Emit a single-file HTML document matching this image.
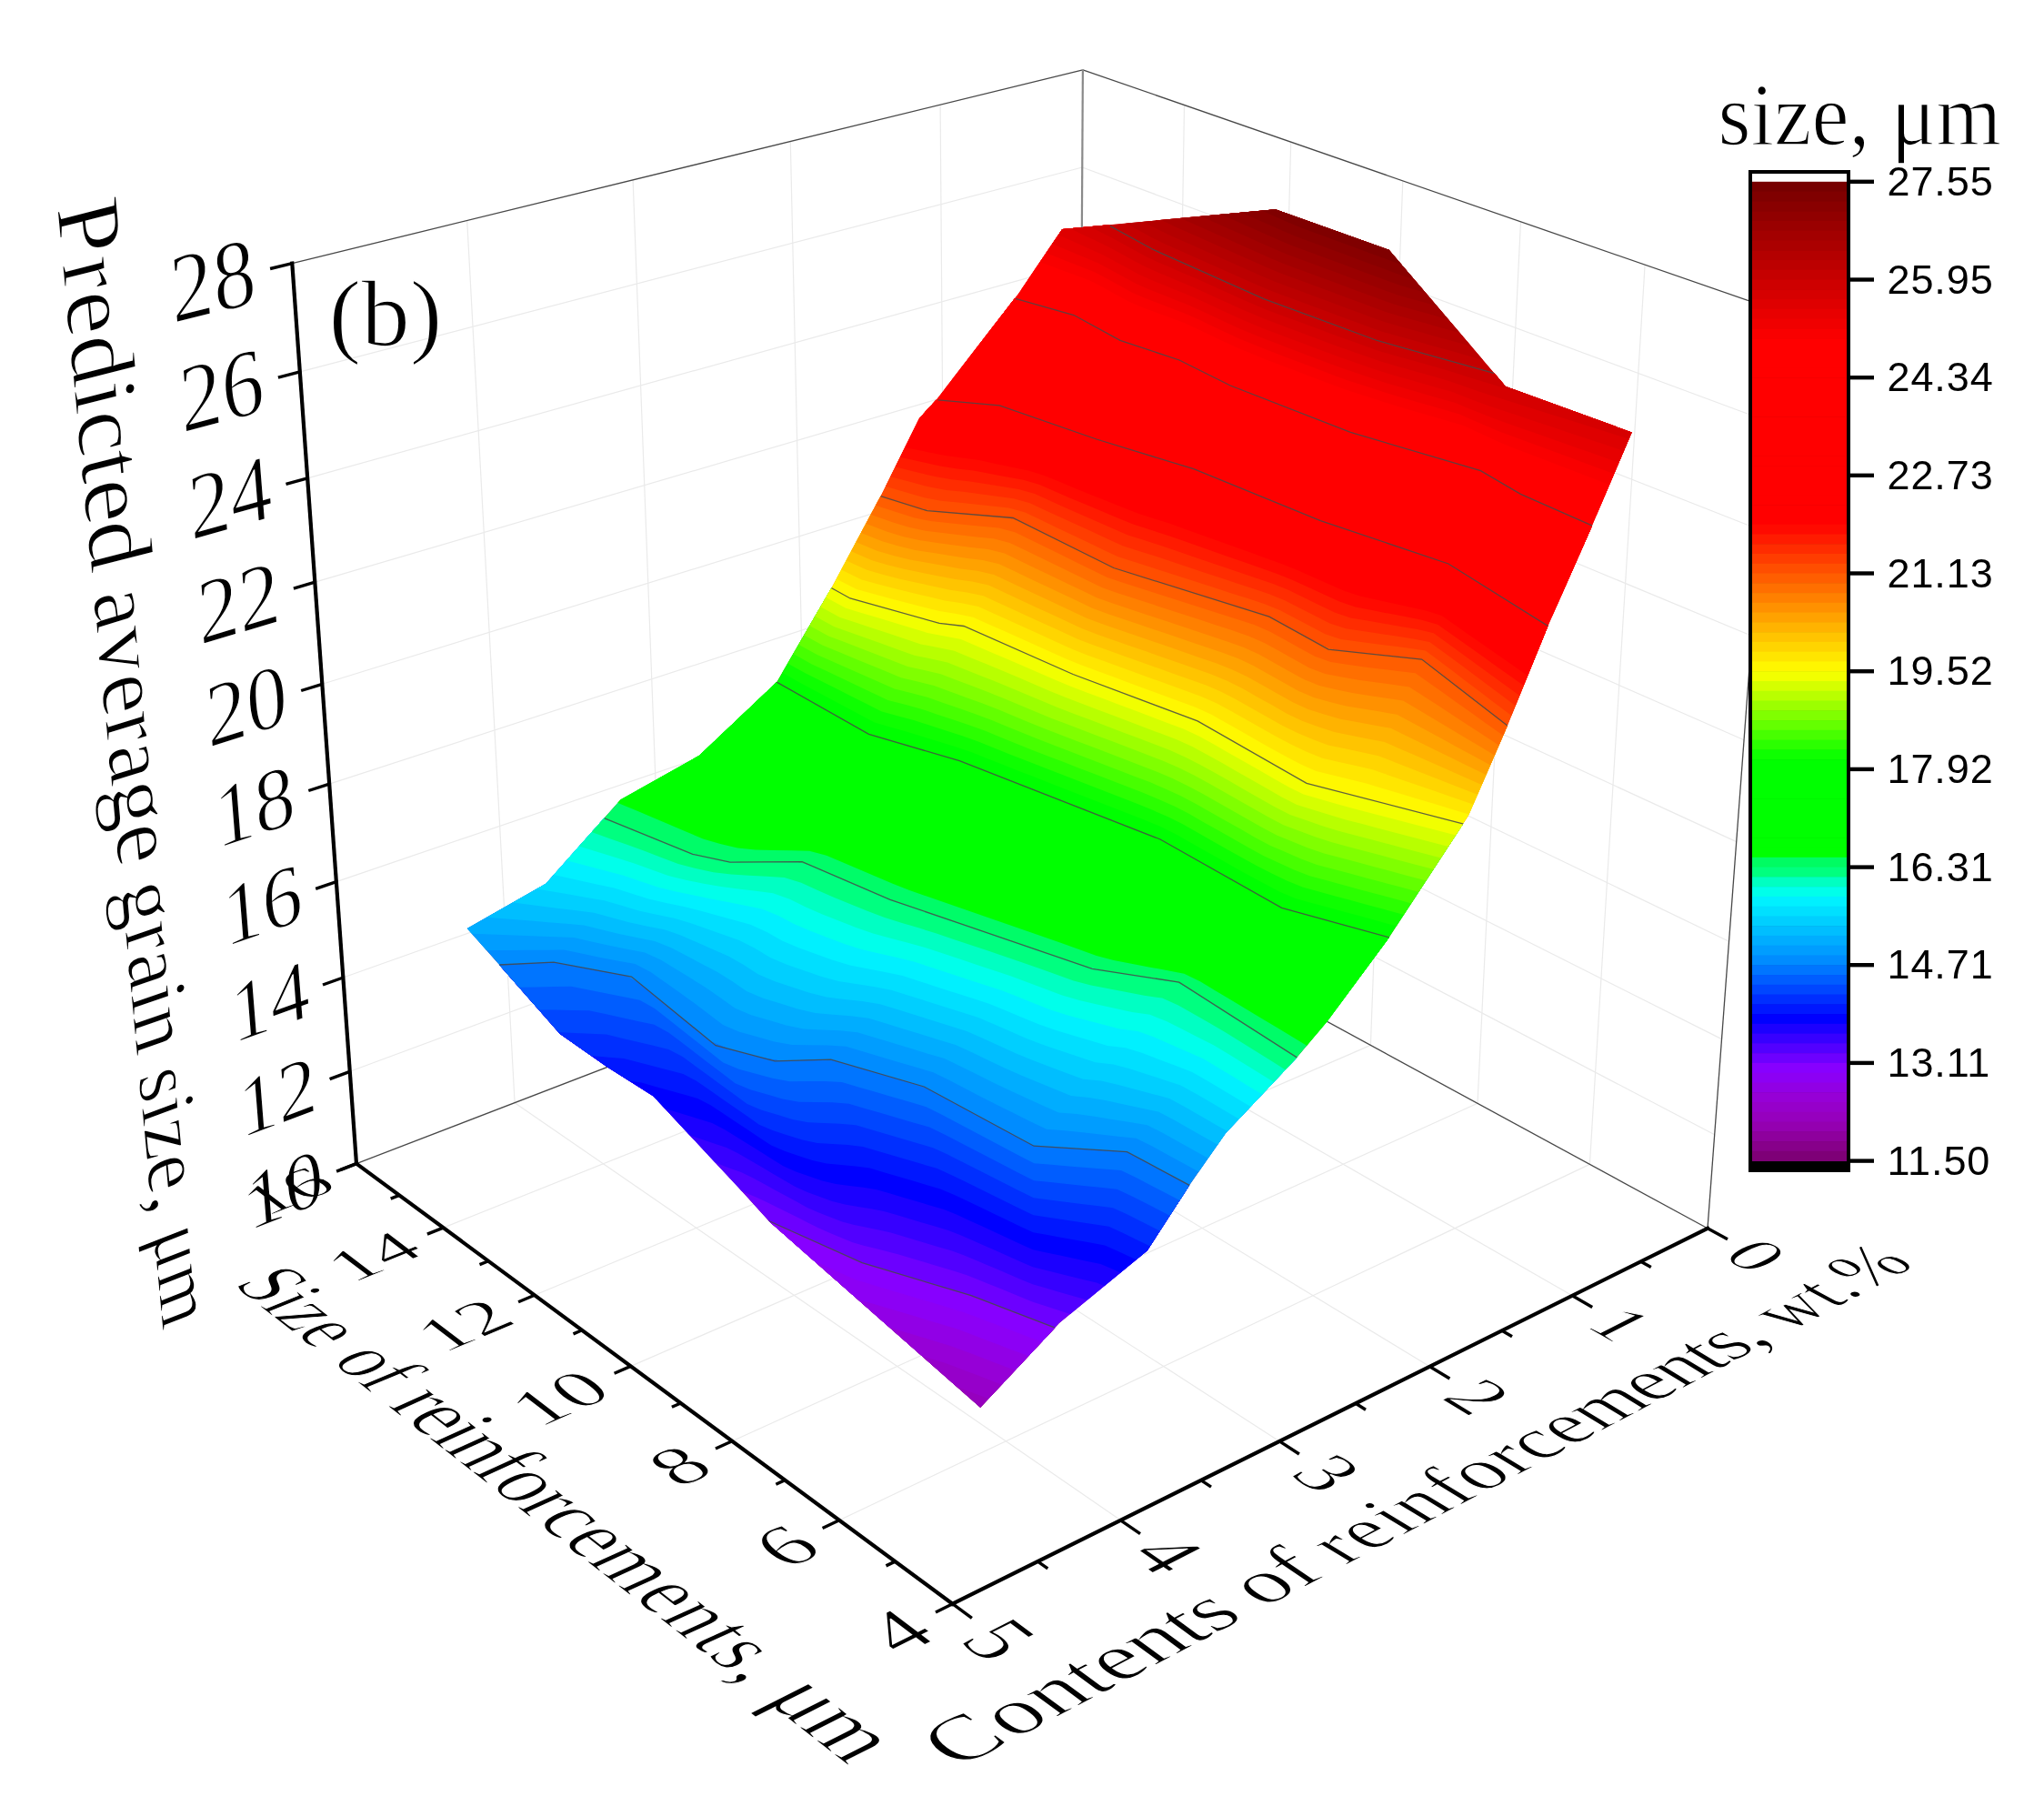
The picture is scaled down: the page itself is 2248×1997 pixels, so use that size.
<!DOCTYPE html>
<html><head><meta charset="utf-8"><title>3D surface</title>
<style>
html,body{margin:0;padding:0;background:#fff}
svg{display:block}
.t{font-family:"Liberation Serif",serif;font-size:100px;fill:#000;stroke:#fff;stroke-width:1.6px;paint-order:fill stroke;mix-blend-mode:multiply}
.cb{font-family:"Liberation Sans",sans-serif;font-size:45px;letter-spacing:0.9px;fill:#000}
</style></head><body>
<svg width="2248" height="1997" viewBox="0 0 2248 1997">
<rect width="2248" height="1997" fill="#fff"/>
<line x1="487.5" y1="1350.1" x2="1288.0" y2="1030.1" stroke="#eaeaea" stroke-width="1.2"/>
<line x1="1288.0" y1="1030.1" x2="1302.5" y2="115.5" stroke="#eaeaea" stroke-width="1.2"/>
<line x1="587.9" y1="1424.3" x2="1395.2" y2="1088.4" stroke="#eaeaea" stroke-width="1.2"/>
<line x1="1395.2" y1="1088.4" x2="1419.7" y2="156.1" stroke="#eaeaea" stroke-width="1.2"/>
<line x1="693.7" y1="1502.4" x2="1507.4" y2="1149.4" stroke="#eaeaea" stroke-width="1.2"/>
<line x1="1507.4" y1="1149.4" x2="1542.8" y2="198.8" stroke="#eaeaea" stroke-width="1.2"/>
<line x1="805.2" y1="1584.7" x2="1625.0" y2="1213.3" stroke="#eaeaea" stroke-width="1.2"/>
<line x1="1625.0" y1="1213.3" x2="1672.5" y2="243.8" stroke="#eaeaea" stroke-width="1.2"/>
<line x1="923.0" y1="1671.7" x2="1748.4" y2="1280.4" stroke="#eaeaea" stroke-width="1.2"/>
<line x1="1748.4" y1="1280.4" x2="1809.1" y2="291.2" stroke="#eaeaea" stroke-width="1.2"/>
<line x1="566.1" y1="1212.7" x2="1232.5" y2="1671.8" stroke="#eaeaea" stroke-width="1.2"/>
<line x1="566.1" y1="1212.7" x2="513.7" y2="242.5" stroke="#eaeaea" stroke-width="1.2"/>
<line x1="731.9" y1="1148.9" x2="1407.2" y2="1584.9" stroke="#eaeaea" stroke-width="1.2"/>
<line x1="731.9" y1="1148.9" x2="696.1" y2="197.8" stroke="#eaeaea" stroke-width="1.2"/>
<line x1="890.1" y1="1088.0" x2="1572.5" y2="1502.7" stroke="#eaeaea" stroke-width="1.2"/>
<line x1="890.1" y1="1088.0" x2="869.3" y2="155.5" stroke="#eaeaea" stroke-width="1.2"/>
<line x1="1041.1" y1="1029.9" x2="1729.2" y2="1424.8" stroke="#eaeaea" stroke-width="1.2"/>
<line x1="1041.1" y1="1029.9" x2="1034.1" y2="115.1" stroke="#eaeaea" stroke-width="1.2"/>
<line x1="384.8" y1="1178.3" x2="1186.1" y2="881.7" stroke="#eaeaea" stroke-width="1.2"/>
<line x1="1186.1" y1="881.7" x2="1885.7" y2="1247.8" stroke="#eaeaea" stroke-width="1.2"/>
<line x1="377.4" y1="1075.0" x2="1186.6" y2="787.3" stroke="#eaeaea" stroke-width="1.2"/>
<line x1="1186.6" y1="787.3" x2="1893.5" y2="1142.6" stroke="#eaeaea" stroke-width="1.2"/>
<line x1="369.9" y1="969.6" x2="1187.2" y2="691.3" stroke="#eaeaea" stroke-width="1.2"/>
<line x1="1187.2" y1="691.3" x2="1901.5" y2="1035.2" stroke="#eaeaea" stroke-width="1.2"/>
<line x1="362.2" y1="862.1" x2="1187.8" y2="593.5" stroke="#eaeaea" stroke-width="1.2"/>
<line x1="1187.8" y1="593.5" x2="1909.7" y2="925.6" stroke="#eaeaea" stroke-width="1.2"/>
<line x1="354.4" y1="752.3" x2="1188.4" y2="493.9" stroke="#eaeaea" stroke-width="1.2"/>
<line x1="1188.4" y1="493.9" x2="1918.1" y2="813.7" stroke="#eaeaea" stroke-width="1.2"/>
<line x1="346.4" y1="640.2" x2="1189.0" y2="392.5" stroke="#eaeaea" stroke-width="1.2"/>
<line x1="1189.0" y1="392.5" x2="1926.6" y2="699.3" stroke="#eaeaea" stroke-width="1.2"/>
<line x1="338.2" y1="525.8" x2="1189.7" y2="289.2" stroke="#eaeaea" stroke-width="1.2"/>
<line x1="1189.7" y1="289.2" x2="1935.3" y2="582.5" stroke="#eaeaea" stroke-width="1.2"/>
<line x1="329.9" y1="408.9" x2="1190.3" y2="184.0" stroke="#eaeaea" stroke-width="1.2"/>
<line x1="1190.3" y1="184.0" x2="1944.2" y2="463.2" stroke="#eaeaea" stroke-width="1.2"/>
<line x1="321.3" y1="289.6" x2="1190.9" y2="76.8" stroke="#484848" stroke-width="1.3"/>
<line x1="1190.9" y1="76.8" x2="1953.3" y2="341.2" stroke="#484848" stroke-width="1.3"/>
<line x1="1185.5" y1="974.4" x2="1190.9" y2="76.8" stroke="#8a8a8a" stroke-width="2.2"/>
<line x1="1878.0" y1="1350.8" x2="1953.3" y2="341.2" stroke="#484848" stroke-width="1.3"/>
<line x1="392.0" y1="1279.6" x2="1185.5" y2="974.4" stroke="#484848" stroke-width="1.3"/>
<line x1="1185.5" y1="974.4" x2="1878.0" y2="1350.8" stroke="#484848" stroke-width="1.3"/>
<clipPath id="sc"><polygon points="513.8,1021.0 600.4,971.7 682.5,879.2 769.1,830.8 854.3,750.1 914.3,646.8 968.6,545.6 1011.3,459.7 1030.1,439.2 1120.0,323.0 1168.2,252.0 1402.7,230.3 1527.5,274.7 1655.9,425.1 1794.6,475.4 1750.0,580.5 1702.4,688.4 1657.9,798.0 1615.0,897.0 1527.7,1030.9 1459.8,1122.9 1426.3,1162.9 1348.1,1245.9 1308.1,1303.4 1261.8,1375.2 1165.0,1455.0 1078.2,1547.8 845.3,1342.5 811.1,1304.8 718.6,1205.5 667.3,1172.9 615.9,1137.0 549.1,1061.0"/></clipPath>
<g clip-path="url(#sc)">
<polygon points="513.8,1021.0 600.4,971.7 682.5,879.2 769.1,830.8 854.3,750.1 914.3,646.8 968.6,545.6 1011.3,459.7 1030.1,439.2 1120.0,323.0 1168.2,252.0 1402.7,230.3 1527.5,274.7 1655.9,425.1 1794.6,475.4 1750.0,580.5 1702.4,688.4 1657.9,798.0 1615.0,897.0 1527.7,1030.9 1459.8,1122.9 1426.3,1162.9 1348.1,1245.9 1308.1,1303.4 1261.8,1375.2 1165.0,1455.0 1078.2,1547.8 845.3,1342.5 811.1,1304.8 718.6,1205.5 667.3,1172.9 615.9,1137.0 549.1,1061.0" fill="#ff0000"/>
<polygon points="575.6,1438.3 586.9,1443.4 598.1,1448.4 609.3,1453.5 620.6,1458.5 631.8,1463.6 643.1,1468.6 654.3,1473.7 665.5,1478.7 676.8,1483.8 688.0,1488.8 699.2,1493.9 710.5,1498.9 721.7,1504.0 732.9,1509.0 744.2,1514.1 755.4,1519.1 766.6,1524.2 777.9,1529.2 789.1,1534.3 800.4,1539.3 811.6,1544.4 822.8,1549.4 834.1,1554.5 845.3,1559.5 856.5,1564.6 867.8,1569.6 879.0,1574.7 890.8,1578.2 902.6,1581.8 914.4,1585.3 926.2,1588.8 938.0,1592.4 949.8,1595.9 961.6,1599.5 973.4,1603.0 985.2,1606.6 997.0,1610.1 1008.5,1614.4 1020.0,1618.8 1031.6,1623.2 1043.1,1627.6 1054.6,1632.0 1066.1,1636.4 1077.6,1640.8 1089.1,1645.2 1100.6,1649.6 1112.1,1654.0 1123.6,1658.4 1135.1,1662.8 1146.6,1667.2 1158.1,1671.6 1169.6,1676.0 1181.1,1680.4 1192.6,1684.8 1204.1,1689.2 1215.6,1693.6 1227.1,1698.0 1238.6,1702.4 1250.1,1706.8 1261.6,1711.2 1273.2,1715.6 1284.7,1720.0 1296.2,1724.4 1365.2,1538.4 1353.7,1534.0 1342.2,1529.6 1330.6,1525.2 1319.1,1520.8 1307.6,1516.4 1296.1,1512.0 1284.6,1507.6 1273.1,1503.2 1261.6,1498.8 1250.1,1494.4 1238.6,1490.0 1227.1,1485.6 1215.6,1481.2 1204.1,1476.8 1192.6,1472.4 1181.1,1468.0 1169.6,1463.6 1158.1,1459.2 1146.6,1454.8 1135.1,1450.4 1123.6,1446.0 1112.1,1441.6 1100.6,1437.2 1089.0,1432.8 1077.5,1428.4 1066.0,1424.1 1054.2,1420.6 1042.4,1417.0 1030.6,1413.5 1018.8,1409.9 1007.0,1406.4 995.2,1402.8 983.4,1399.3 971.6,1395.8 959.8,1392.2 948.0,1388.7 936.8,1383.6 925.5,1378.6 914.3,1373.5 903.1,1368.5 891.8,1363.4 880.6,1358.4 869.4,1353.3 858.1,1348.3 846.9,1343.2 835.6,1338.2 824.4,1333.1 813.2,1328.1 801.9,1323.0 790.7,1318.0 779.5,1312.9 768.2,1307.9 757.0,1302.8 745.8,1297.8 734.5,1292.7 723.3,1287.7 712.1,1282.6 700.8,1277.6 689.6,1272.5 678.3,1267.5 667.1,1262.4 655.9,1257.4 644.6,1252.3" fill="#7e0077"/>
<polygon points="582.5,1419.7 593.8,1424.8 605.0,1429.8 616.2,1434.9 627.5,1439.9 638.7,1445.0 650.0,1450.0 661.2,1455.1 672.4,1460.1 683.7,1465.2 694.9,1470.2 706.1,1475.3 717.4,1480.3 728.6,1485.4 739.8,1490.4 751.1,1495.5 762.3,1500.5 773.5,1505.6 784.8,1510.6 796.0,1515.7 807.3,1520.7 818.5,1525.8 829.7,1530.8 841.0,1535.9 852.2,1540.9 863.4,1546.0 874.7,1551.0 885.9,1556.1 897.7,1559.6 909.5,1563.2 921.3,1566.7 933.1,1570.2 944.9,1573.8 956.7,1577.3 968.5,1580.9 980.3,1584.4 992.1,1588.0 1003.9,1591.5 1015.4,1595.8 1026.9,1600.2 1038.5,1604.6 1050.0,1609.0 1061.5,1613.4 1073.0,1617.8 1084.5,1622.2 1096.0,1626.6 1107.5,1631.0 1119.0,1635.4 1130.5,1639.8 1142.0,1644.2 1153.5,1648.6 1165.0,1653.0 1176.5,1657.4 1188.0,1661.8 1199.5,1666.2 1211.0,1670.6 1222.5,1675.0 1234.0,1679.4 1245.5,1683.8 1257.0,1688.2 1268.5,1692.6 1280.1,1697.0 1291.6,1701.4 1303.1,1705.8 1365.2,1538.4 1353.7,1534.0 1342.2,1529.6 1330.6,1525.2 1319.1,1520.8 1307.6,1516.4 1296.1,1512.0 1284.6,1507.6 1273.1,1503.2 1261.6,1498.8 1250.1,1494.4 1238.6,1490.0 1227.1,1485.6 1215.6,1481.2 1204.1,1476.8 1192.6,1472.4 1181.1,1468.0 1169.6,1463.6 1158.1,1459.2 1146.6,1454.8 1135.1,1450.4 1123.6,1446.0 1112.1,1441.6 1100.6,1437.2 1089.0,1432.8 1077.5,1428.4 1066.0,1424.1 1054.2,1420.6 1042.4,1417.0 1030.6,1413.5 1018.8,1409.9 1007.0,1406.4 995.2,1402.8 983.4,1399.3 971.6,1395.8 959.8,1392.2 948.0,1388.7 936.8,1383.6 925.5,1378.6 914.3,1373.5 903.1,1368.5 891.8,1363.4 880.6,1358.4 869.4,1353.3 858.1,1348.3 846.9,1343.2 835.6,1338.2 824.4,1333.1 813.2,1328.1 801.9,1323.0 790.7,1318.0 779.5,1312.9 768.2,1307.9 757.0,1302.8 745.8,1297.8 734.5,1292.7 723.3,1287.7 712.1,1282.6 700.8,1277.6 689.6,1272.5 678.3,1267.5 667.1,1262.4 655.9,1257.4 644.6,1252.3" fill="#87008a"/>
<polygon points="589.4,1401.1 600.7,1406.2 611.9,1411.2 623.1,1416.3 634.4,1421.3 645.6,1426.4 656.9,1431.4 668.1,1436.5 679.3,1441.5 690.6,1446.6 701.8,1451.6 713.0,1456.7 724.3,1461.7 735.5,1466.8 746.7,1471.8 758.0,1476.9 769.2,1481.9 780.4,1487.0 791.7,1492.0 802.9,1497.1 814.2,1502.1 825.4,1507.2 836.6,1512.2 847.9,1517.3 859.1,1522.3 870.3,1527.4 881.6,1532.4 892.8,1537.5 904.6,1541.0 916.4,1544.6 928.2,1548.1 940.0,1551.6 951.8,1555.2 963.6,1558.7 975.4,1562.3 987.2,1565.8 999.0,1569.4 1010.8,1572.9 1022.3,1577.2 1033.8,1581.6 1045.4,1586.0 1056.9,1590.4 1068.4,1594.8 1079.9,1599.2 1091.4,1603.6 1102.9,1608.0 1114.4,1612.4 1125.9,1616.8 1137.4,1621.2 1148.9,1625.6 1160.4,1630.0 1171.9,1634.4 1183.4,1638.8 1194.9,1643.2 1206.4,1647.6 1217.9,1652.0 1229.4,1656.4 1240.9,1660.8 1252.4,1665.2 1263.9,1669.6 1275.4,1674.0 1287.0,1678.4 1298.5,1682.8 1310.0,1687.2 1365.2,1538.4 1353.7,1534.0 1342.2,1529.6 1330.6,1525.2 1319.1,1520.8 1307.6,1516.4 1296.1,1512.0 1284.6,1507.6 1273.1,1503.2 1261.6,1498.8 1250.1,1494.4 1238.6,1490.0 1227.1,1485.6 1215.6,1481.2 1204.1,1476.8 1192.6,1472.4 1181.1,1468.0 1169.6,1463.6 1158.1,1459.2 1146.6,1454.8 1135.1,1450.4 1123.6,1446.0 1112.1,1441.6 1100.6,1437.2 1089.0,1432.8 1077.5,1428.4 1066.0,1424.1 1054.2,1420.6 1042.4,1417.0 1030.6,1413.5 1018.8,1409.9 1007.0,1406.4 995.2,1402.8 983.4,1399.3 971.6,1395.8 959.8,1392.2 948.0,1388.7 936.8,1383.6 925.5,1378.6 914.3,1373.5 903.1,1368.5 891.8,1363.4 880.6,1358.4 869.4,1353.3 858.1,1348.3 846.9,1343.2 835.6,1338.2 824.4,1333.1 813.2,1328.1 801.9,1323.0 790.7,1318.0 779.5,1312.9 768.2,1307.9 757.0,1302.8 745.8,1297.8 734.5,1292.7 723.3,1287.7 712.1,1282.6 700.8,1277.6 689.6,1272.5 678.3,1267.5 667.1,1262.4 655.9,1257.4 644.6,1252.3" fill="#8e009d"/>
<polygon points="596.3,1382.5 607.6,1387.6 618.8,1392.6 630.0,1397.7 641.3,1402.7 652.5,1407.8 663.8,1412.8 675.0,1417.9 686.2,1422.9 697.5,1428.0 708.7,1433.0 719.9,1438.1 731.2,1443.1 742.4,1448.2 753.6,1453.2 764.9,1458.3 776.1,1463.3 787.3,1468.4 798.6,1473.4 809.8,1478.5 821.1,1483.5 832.3,1488.6 843.5,1493.6 854.8,1498.7 866.0,1503.7 877.2,1508.8 888.5,1513.8 899.7,1518.9 911.5,1522.4 923.3,1526.0 935.1,1529.5 946.9,1533.0 958.7,1536.6 970.5,1540.1 982.3,1543.7 994.1,1547.2 1005.9,1550.8 1017.7,1554.3 1029.2,1558.6 1040.7,1563.0 1052.3,1567.4 1063.8,1571.8 1075.3,1576.2 1086.8,1580.6 1098.3,1585.0 1109.8,1589.4 1121.3,1593.8 1132.8,1598.2 1144.3,1602.6 1155.8,1607.0 1167.3,1611.4 1178.8,1615.8 1190.3,1620.2 1201.8,1624.6 1213.3,1629.0 1224.8,1633.4 1236.3,1637.8 1247.8,1642.2 1259.3,1646.6 1270.8,1651.0 1282.3,1655.4 1293.9,1659.8 1305.4,1664.2 1316.9,1668.6 1365.2,1538.4 1353.7,1534.0 1342.2,1529.6 1330.6,1525.2 1319.1,1520.8 1307.6,1516.4 1296.1,1512.0 1284.6,1507.6 1273.1,1503.2 1261.6,1498.8 1250.1,1494.4 1238.6,1490.0 1227.1,1485.6 1215.6,1481.2 1204.1,1476.8 1192.6,1472.4 1181.1,1468.0 1169.6,1463.6 1158.1,1459.2 1146.6,1454.8 1135.1,1450.4 1123.6,1446.0 1112.1,1441.6 1100.6,1437.2 1089.0,1432.8 1077.5,1428.4 1066.0,1424.1 1054.2,1420.6 1042.4,1417.0 1030.6,1413.5 1018.8,1409.9 1007.0,1406.4 995.2,1402.8 983.4,1399.3 971.6,1395.8 959.8,1392.2 948.0,1388.7 936.8,1383.6 925.5,1378.6 914.3,1373.5 903.1,1368.5 891.8,1363.4 880.6,1358.4 869.4,1353.3 858.1,1348.3 846.9,1343.2 835.6,1338.2 824.4,1333.1 813.2,1328.1 801.9,1323.0 790.7,1318.0 779.5,1312.9 768.2,1307.9 757.0,1302.8 745.8,1297.8 734.5,1292.7 723.3,1287.7 712.1,1282.6 700.8,1277.6 689.6,1272.5 678.3,1267.5 667.1,1262.4 655.9,1257.4 644.6,1252.3" fill="#9500b0"/>
<polygon points="603.2,1363.9 614.5,1369.0 625.7,1374.0 636.9,1379.1 648.2,1384.1 659.4,1389.2 670.7,1394.2 681.9,1399.3 693.1,1404.3 704.4,1409.4 715.6,1414.4 726.8,1419.5 738.1,1424.5 749.3,1429.6 760.5,1434.6 771.8,1439.7 783.0,1444.7 794.2,1449.8 805.5,1454.8 816.7,1459.9 828.0,1464.9 839.2,1470.0 850.4,1475.0 861.7,1480.1 872.9,1485.1 884.1,1490.2 895.4,1495.2 906.6,1500.3 918.4,1503.8 930.2,1507.4 942.0,1510.9 953.8,1514.4 965.6,1518.0 977.4,1521.5 989.2,1525.1 1001.0,1528.6 1012.8,1532.2 1024.6,1535.7 1036.1,1540.0 1047.6,1544.4 1059.2,1548.8 1070.7,1553.2 1082.2,1557.6 1093.7,1562.0 1105.2,1566.4 1116.7,1570.8 1128.2,1575.2 1139.7,1579.6 1151.2,1584.0 1162.7,1588.4 1174.2,1592.8 1185.7,1597.2 1197.2,1601.6 1208.7,1606.0 1220.2,1610.4 1231.7,1614.8 1243.2,1619.2 1254.7,1623.6 1266.2,1628.0 1277.7,1632.4 1289.2,1636.8 1300.8,1641.2 1312.3,1645.6 1323.8,1650.0 1365.2,1538.4 1353.7,1534.0 1342.2,1529.6 1330.6,1525.2 1319.1,1520.8 1307.6,1516.4 1296.1,1512.0 1284.6,1507.6 1273.1,1503.2 1261.6,1498.8 1250.1,1494.4 1238.6,1490.0 1227.1,1485.6 1215.6,1481.2 1204.1,1476.8 1192.6,1472.4 1181.1,1468.0 1169.6,1463.6 1158.1,1459.2 1146.6,1454.8 1135.1,1450.4 1123.6,1446.0 1112.1,1441.6 1100.6,1437.2 1089.0,1432.8 1077.5,1428.4 1066.0,1424.1 1054.2,1420.6 1042.4,1417.0 1030.6,1413.5 1018.8,1409.9 1007.0,1406.4 995.2,1402.8 983.4,1399.3 971.6,1395.8 959.8,1392.2 948.0,1388.7 936.8,1383.6 925.5,1378.6 914.3,1373.5 903.1,1368.5 891.8,1363.4 880.6,1358.4 869.4,1353.3 858.1,1348.3 846.9,1343.2 835.6,1338.2 824.4,1333.1 813.2,1328.1 801.9,1323.0 790.7,1318.0 779.5,1312.9 768.2,1307.9 757.0,1302.8 745.8,1297.8 734.5,1292.7 723.3,1287.7 712.1,1282.6 700.8,1277.6 689.6,1272.5 678.3,1267.5 667.1,1262.4 655.9,1257.4 644.6,1252.3" fill="#9600be"/>
<polygon points="610.1,1345.3 621.4,1350.4 632.6,1355.4 643.8,1360.5 655.1,1365.5 666.3,1370.6 677.6,1375.6 688.8,1380.7 700.0,1385.7 711.3,1390.8 722.5,1395.8 733.7,1400.9 745.0,1405.9 756.2,1411.0 767.4,1416.0 778.7,1421.1 789.9,1426.1 801.1,1431.2 812.4,1436.2 823.6,1441.3 834.9,1446.3 846.1,1451.4 857.3,1456.4 868.6,1461.5 879.8,1466.5 891.0,1471.6 902.3,1476.6 913.5,1481.7 925.3,1485.2 937.1,1488.8 948.9,1492.3 960.7,1495.8 972.5,1499.4 984.3,1502.9 996.1,1506.5 1007.9,1510.0 1019.7,1513.6 1031.5,1517.1 1043.0,1521.4 1054.5,1525.8 1066.1,1530.2 1077.6,1534.6 1089.1,1539.0 1100.6,1543.4 1112.1,1547.8 1123.6,1552.2 1135.1,1556.6 1146.6,1561.0 1158.1,1565.4 1169.6,1569.8 1181.1,1574.2 1192.6,1578.6 1204.1,1583.0 1215.6,1587.4 1227.1,1591.8 1238.6,1596.2 1250.1,1600.6 1261.6,1605.0 1273.1,1609.4 1284.6,1613.8 1296.1,1618.2 1307.7,1622.6 1319.2,1627.0 1330.7,1631.4 1365.2,1538.4 1353.7,1534.0 1342.2,1529.6 1330.6,1525.2 1319.1,1520.8 1307.6,1516.4 1296.1,1512.0 1284.6,1507.6 1273.1,1503.2 1261.6,1498.8 1250.1,1494.4 1238.6,1490.0 1227.1,1485.6 1215.6,1481.2 1204.1,1476.8 1192.6,1472.4 1181.1,1468.0 1169.6,1463.6 1158.1,1459.2 1146.6,1454.8 1135.1,1450.4 1123.6,1446.0 1112.1,1441.6 1100.6,1437.2 1089.0,1432.8 1077.5,1428.4 1066.0,1424.1 1054.2,1420.6 1042.4,1417.0 1030.6,1413.5 1018.8,1409.9 1007.0,1406.4 995.2,1402.8 983.4,1399.3 971.6,1395.8 959.8,1392.2 948.0,1388.7 936.8,1383.6 925.5,1378.6 914.3,1373.5 903.1,1368.5 891.8,1363.4 880.6,1358.4 869.4,1353.3 858.1,1348.3 846.9,1343.2 835.6,1338.2 824.4,1333.1 813.2,1328.1 801.9,1323.0 790.7,1318.0 779.5,1312.9 768.2,1307.9 757.0,1302.8 745.8,1297.8 734.5,1292.7 723.3,1287.7 712.1,1282.6 700.8,1277.6 689.6,1272.5 678.3,1267.5 667.1,1262.4 655.9,1257.4 644.6,1252.3" fill="#9600ca"/>
<polygon points="617.0,1326.7 628.3,1331.8 639.5,1336.8 650.7,1341.9 662.0,1346.9 673.2,1352.0 684.5,1357.0 695.7,1362.1 706.9,1367.1 718.2,1372.2 729.4,1377.2 740.6,1382.3 751.9,1387.3 763.1,1392.4 774.3,1397.4 785.6,1402.5 796.8,1407.5 808.0,1412.6 819.3,1417.6 830.5,1422.7 841.8,1427.7 853.0,1432.8 864.2,1437.8 875.5,1442.9 886.7,1447.9 897.9,1453.0 909.2,1458.0 920.4,1463.1 932.2,1466.6 944.0,1470.2 955.8,1473.7 967.6,1477.2 979.4,1480.8 991.2,1484.3 1003.0,1487.9 1014.8,1491.4 1026.6,1495.0 1038.4,1498.5 1049.9,1502.8 1061.4,1507.2 1073.0,1511.6 1084.5,1516.0 1096.0,1520.4 1107.5,1524.8 1119.0,1529.2 1130.5,1533.6 1142.0,1538.0 1153.5,1542.4 1165.0,1546.8 1176.5,1551.2 1188.0,1555.6 1199.5,1560.0 1211.0,1564.4 1222.5,1568.8 1234.0,1573.2 1245.5,1577.6 1257.0,1582.0 1268.5,1586.4 1280.0,1590.8 1291.5,1595.2 1303.0,1599.6 1314.6,1604.0 1326.1,1608.4 1337.6,1612.8 1365.2,1538.4 1353.7,1534.0 1342.2,1529.6 1330.6,1525.2 1319.1,1520.8 1307.6,1516.4 1296.1,1512.0 1284.6,1507.6 1273.1,1503.2 1261.6,1498.8 1250.1,1494.4 1238.6,1490.0 1227.1,1485.6 1215.6,1481.2 1204.1,1476.8 1192.6,1472.4 1181.1,1468.0 1169.6,1463.6 1158.1,1459.2 1146.6,1454.8 1135.1,1450.4 1123.6,1446.0 1112.1,1441.6 1100.6,1437.2 1089.0,1432.8 1077.5,1428.4 1066.0,1424.1 1054.2,1420.6 1042.4,1417.0 1030.6,1413.5 1018.8,1409.9 1007.0,1406.4 995.2,1402.8 983.4,1399.3 971.6,1395.8 959.8,1392.2 948.0,1388.7 936.8,1383.6 925.5,1378.6 914.3,1373.5 903.1,1368.5 891.8,1363.4 880.6,1358.4 869.4,1353.3 858.1,1348.3 846.9,1343.2 835.6,1338.2 824.4,1333.1 813.2,1328.1 801.9,1323.0 790.7,1318.0 779.5,1312.9 768.2,1307.9 757.0,1302.8 745.8,1297.8 734.5,1292.7 723.3,1287.7 712.1,1282.6 700.8,1277.6 689.6,1272.5 678.3,1267.5 667.1,1262.4 655.9,1257.4 644.6,1252.3" fill="#9600d7"/>
<polygon points="623.9,1308.1 635.2,1313.2 646.4,1318.2 657.6,1323.3 668.9,1328.3 680.1,1333.4 691.4,1338.4 702.6,1343.5 713.8,1348.5 725.1,1353.6 736.3,1358.6 747.5,1363.7 758.8,1368.7 770.0,1373.8 781.2,1378.8 792.5,1383.9 803.7,1388.9 814.9,1394.0 826.2,1399.0 837.4,1404.1 848.7,1409.1 859.9,1414.2 871.1,1419.2 882.4,1424.3 893.6,1429.3 904.8,1434.4 916.1,1439.4 927.3,1444.5 939.1,1448.0 950.9,1451.6 962.7,1455.1 974.5,1458.6 986.3,1462.2 998.1,1465.7 1009.9,1469.3 1021.7,1472.8 1033.5,1476.4 1045.3,1479.9 1056.8,1484.2 1068.3,1488.6 1079.9,1493.0 1091.4,1497.4 1102.9,1501.8 1114.4,1506.2 1125.9,1510.6 1137.4,1515.0 1148.9,1519.4 1160.4,1523.8 1171.9,1528.2 1183.4,1532.6 1194.9,1537.0 1206.4,1541.4 1217.9,1545.8 1229.4,1550.2 1240.9,1554.6 1252.4,1559.0 1263.9,1563.4 1275.4,1567.8 1286.9,1572.2 1298.4,1576.6 1309.9,1581.0 1321.5,1585.4 1333.0,1589.8 1344.5,1594.2 1365.2,1538.4 1353.7,1534.0 1342.2,1529.6 1330.6,1525.2 1319.1,1520.8 1307.6,1516.4 1296.1,1512.0 1284.6,1507.6 1273.1,1503.2 1261.6,1498.8 1250.1,1494.4 1238.6,1490.0 1227.1,1485.6 1215.6,1481.2 1204.1,1476.8 1192.6,1472.4 1181.1,1468.0 1169.6,1463.6 1158.1,1459.2 1146.6,1454.8 1135.1,1450.4 1123.6,1446.0 1112.1,1441.6 1100.6,1437.2 1089.0,1432.8 1077.5,1428.4 1066.0,1424.1 1054.2,1420.6 1042.4,1417.0 1030.6,1413.5 1018.8,1409.9 1007.0,1406.4 995.2,1402.8 983.4,1399.3 971.6,1395.8 959.8,1392.2 948.0,1388.7 936.8,1383.6 925.5,1378.6 914.3,1373.5 903.1,1368.5 891.8,1363.4 880.6,1358.4 869.4,1353.3 858.1,1348.3 846.9,1343.2 835.6,1338.2 824.4,1333.1 813.2,1328.1 801.9,1323.0 790.7,1318.0 779.5,1312.9 768.2,1307.9 757.0,1302.8 745.8,1297.8 734.5,1292.7 723.3,1287.7 712.1,1282.6 700.8,1277.6 689.6,1272.5 678.3,1267.5 667.1,1262.4 655.9,1257.4 644.6,1252.3" fill="#9100e6"/>
<polygon points="630.8,1289.5 642.1,1294.6 653.3,1299.6 664.5,1304.7 675.8,1309.7 687.0,1314.8 698.3,1319.8 709.5,1324.9 720.7,1329.9 732.0,1335.0 743.2,1340.0 754.4,1345.1 765.7,1350.1 776.9,1355.2 788.1,1360.2 799.4,1365.3 810.6,1370.3 821.8,1375.4 833.1,1380.4 844.3,1385.5 855.6,1390.5 866.8,1395.6 878.0,1400.6 889.3,1405.7 900.5,1410.7 911.7,1415.8 923.0,1420.8 934.2,1425.9 946.0,1429.4 957.8,1433.0 969.6,1436.5 981.4,1440.0 993.2,1443.6 1005.0,1447.1 1016.8,1450.7 1028.6,1454.2 1040.4,1457.8 1052.2,1461.3 1063.7,1465.6 1075.2,1470.0 1086.8,1474.4 1098.3,1478.8 1109.8,1483.2 1121.3,1487.6 1132.8,1492.0 1144.3,1496.4 1155.8,1500.8 1167.3,1505.2 1178.8,1509.6 1190.3,1514.0 1201.8,1518.4 1213.3,1522.8 1224.8,1527.2 1236.3,1531.6 1247.8,1536.0 1259.3,1540.4 1270.8,1544.8 1282.3,1549.2 1293.8,1553.6 1305.3,1558.0 1316.8,1562.4 1328.4,1566.8 1339.9,1571.2 1351.4,1575.6 1365.2,1538.4 1353.7,1534.0 1342.2,1529.6 1330.6,1525.2 1319.1,1520.8 1307.6,1516.4 1296.1,1512.0 1284.6,1507.6 1273.1,1503.2 1261.6,1498.8 1250.1,1494.4 1238.6,1490.0 1227.1,1485.6 1215.6,1481.2 1204.1,1476.8 1192.6,1472.4 1181.1,1468.0 1169.6,1463.6 1158.1,1459.2 1146.6,1454.8 1135.1,1450.4 1123.6,1446.0 1112.1,1441.6 1100.6,1437.2 1089.0,1432.8 1077.5,1428.4 1066.0,1424.1 1054.2,1420.6 1042.4,1417.0 1030.6,1413.5 1018.8,1409.9 1007.0,1406.4 995.2,1402.8 983.4,1399.3 971.6,1395.8 959.8,1392.2 948.0,1388.7 936.8,1383.6 925.5,1378.6 914.3,1373.5 903.1,1368.5 891.8,1363.4 880.6,1358.4 869.4,1353.3 858.1,1348.3 846.9,1343.2 835.6,1338.2 824.4,1333.1 813.2,1328.1 801.9,1323.0 790.7,1318.0 779.5,1312.9 768.2,1307.9 757.0,1302.8 745.8,1297.8 734.5,1292.7 723.3,1287.7 712.1,1282.6 700.8,1277.6 689.6,1272.5 678.3,1267.5 667.1,1262.4 655.9,1257.4 644.6,1252.3" fill="#8c00f5"/>
<polygon points="637.7,1270.9 649.0,1276.0 660.2,1281.0 671.4,1286.1 682.7,1291.1 693.9,1296.2 705.2,1301.2 716.4,1306.3 727.6,1311.3 738.9,1316.4 750.1,1321.4 761.3,1326.5 772.6,1331.5 783.8,1336.6 795.0,1341.6 806.3,1346.7 817.5,1351.7 828.7,1356.8 840.0,1361.8 851.2,1366.9 862.5,1371.9 873.7,1377.0 884.9,1382.0 896.2,1387.1 907.4,1392.1 918.6,1397.2 929.9,1402.2 941.1,1407.3 952.9,1410.8 964.7,1414.4 976.5,1417.9 988.3,1421.4 1000.1,1425.0 1011.9,1428.5 1023.7,1432.1 1035.5,1435.6 1047.3,1439.2 1059.1,1442.7 1070.6,1447.0 1082.1,1451.4 1093.7,1455.8 1105.2,1460.2 1116.7,1464.6 1128.2,1469.0 1139.7,1473.4 1151.2,1477.8 1162.7,1482.2 1174.2,1486.6 1185.7,1491.0 1197.2,1495.4 1208.7,1499.8 1220.2,1504.2 1231.7,1508.6 1243.2,1513.0 1254.7,1517.4 1266.2,1521.8 1277.7,1526.2 1289.2,1530.6 1300.7,1535.0 1312.2,1539.4 1323.7,1543.8 1335.3,1548.2 1346.8,1552.6 1358.3,1557.0 1365.2,1538.4 1353.7,1534.0 1342.2,1529.6 1330.6,1525.2 1319.1,1520.8 1307.6,1516.4 1296.1,1512.0 1284.6,1507.6 1273.1,1503.2 1261.6,1498.8 1250.1,1494.4 1238.6,1490.0 1227.1,1485.6 1215.6,1481.2 1204.1,1476.8 1192.6,1472.4 1181.1,1468.0 1169.6,1463.6 1158.1,1459.2 1146.6,1454.8 1135.1,1450.4 1123.6,1446.0 1112.1,1441.6 1100.6,1437.2 1089.0,1432.8 1077.5,1428.4 1066.0,1424.1 1054.2,1420.6 1042.4,1417.0 1030.6,1413.5 1018.8,1409.9 1007.0,1406.4 995.2,1402.8 983.4,1399.3 971.6,1395.8 959.8,1392.2 948.0,1388.7 936.8,1383.6 925.5,1378.6 914.3,1373.5 903.1,1368.5 891.8,1363.4 880.6,1358.4 869.4,1353.3 858.1,1348.3 846.9,1343.2 835.6,1338.2 824.4,1333.1 813.2,1328.1 801.9,1323.0 790.7,1318.0 779.5,1312.9 768.2,1307.9 757.0,1302.8 745.8,1297.8 734.5,1292.7 723.3,1287.7 712.1,1282.6 700.8,1277.6 689.6,1272.5 678.3,1267.5 667.1,1262.4 655.9,1257.4 644.6,1252.3" fill="#8700ff"/>
<polygon points="644.6,1252.3 655.9,1257.4 667.1,1262.4 678.3,1267.5 689.6,1272.5 700.8,1277.6 712.1,1282.6 723.3,1287.7 734.5,1292.7 745.8,1297.8 757.0,1302.8 768.2,1307.9 779.5,1312.9 790.7,1318.0 801.9,1323.0 813.2,1328.1 824.4,1333.1 835.6,1338.2 846.9,1343.2 858.1,1348.3 869.4,1353.3 880.6,1358.4 891.8,1363.4 903.1,1368.5 914.3,1373.5 925.5,1378.6 936.8,1383.6 948.0,1388.7 959.8,1392.2 971.6,1395.8 983.4,1399.3 995.2,1402.8 1007.0,1406.4 1018.8,1409.9 1030.6,1413.5 1042.4,1417.0 1054.2,1420.6 1066.0,1424.1 1077.5,1428.4 1089.0,1432.8 1100.6,1437.2 1112.1,1441.6 1123.6,1446.0 1135.1,1450.4 1146.6,1454.8 1158.1,1459.2 1169.6,1463.6 1181.1,1468.0 1192.6,1472.4 1204.1,1476.8 1215.6,1481.2 1227.1,1485.6 1238.6,1490.0 1250.1,1494.4 1261.6,1498.8 1273.1,1503.2 1284.6,1507.6 1296.1,1512.0 1307.6,1516.4 1319.1,1520.8 1330.6,1525.2 1342.2,1529.6 1353.7,1534.0 1365.2,1538.4 1502.0,1407.4 1484.3,1397.9 1466.7,1388.5 1449.1,1379.0 1431.5,1369.6 1413.8,1360.1 1396.2,1350.7 1378.6,1341.2 1361.0,1331.8 1343.4,1322.3 1325.7,1312.9 1308.1,1303.4 1290.5,1293.9 1272.9,1284.5 1255.2,1275.0 1237.4,1266.5 1217.4,1265.2 1197.4,1264.0 1177.5,1262.7 1157.5,1261.5 1137.6,1260.2 1119.9,1251.0 1102.3,1241.5 1084.7,1232.0 1067.1,1222.4 1049.5,1212.9 1031.9,1203.4 1014.1,1194.4 994.9,1188.8 975.7,1183.2 956.5,1177.6 937.3,1172.0 918.1,1166.4 898.3,1165.5 878.3,1166.1 858.4,1166.6 838.8,1163.3 819.5,1158.2 800.1,1153.1 782.0,1145.6 766.6,1132.9 751.1,1120.2 735.6,1107.6 720.1,1094.9 704.6,1082.3 687.7,1072.7 668.0,1069.1 648.4,1065.5 628.7,1061.8 609.0,1058.2 589.0,1059.1 569.1,1060.1 549.1,1061.0 529.1,1061.9 509.1,1062.9 489.2,1063.8 469.2,1064.7 449.2,1065.7 429.2,1066.6 409.2,1067.5 389.3,1068.5 369.3,1069.4 349.3,1070.3 329.3,1071.3" fill="#6c00ff"/>
<polygon points="613.1,1234.2 625.2,1238.7 637.3,1243.1 649.4,1247.6 661.5,1252.0 673.7,1256.5 685.8,1260.9 697.9,1265.4 710.0,1269.8 722.1,1274.3 734.2,1278.7 746.3,1283.2 758.4,1287.6 770.5,1292.1 782.6,1296.5 794.7,1301.4 806.8,1306.3 818.9,1311.3 831.0,1316.2 842.8,1321.7 854.4,1327.5 866.1,1333.3 877.8,1339.1 889.4,1344.9 901.1,1350.7 913.0,1356.0 925.0,1361.1 937.1,1366.1 949.7,1369.7 962.3,1372.8 974.9,1375.9 987.5,1379.2 1000.0,1382.9 1012.6,1386.7 1025.1,1390.4 1037.6,1394.2 1050.2,1397.9 1062.6,1402.0 1074.7,1406.8 1086.9,1411.7 1099.0,1416.6 1111.1,1421.6 1123.2,1426.5 1135.3,1431.4 1147.7,1435.4 1160.0,1439.5 1172.4,1443.6 1184.7,1447.7 1197.1,1451.8 1209.2,1456.6 1221.3,1461.5 1233.4,1466.4 1245.6,1471.3 1257.7,1476.3 1269.8,1481.2 1281.9,1486.1 1294.0,1491.0 1306.1,1495.9 1318.3,1500.8 1330.4,1505.7 1342.5,1510.6 1354.6,1515.5 1366.7,1520.4 1378.8,1525.3 1502.0,1407.4 1484.3,1397.9 1466.7,1388.5 1449.1,1379.0 1431.5,1369.6 1413.8,1360.1 1396.2,1350.7 1378.6,1341.2 1361.0,1331.8 1343.4,1322.3 1325.7,1312.9 1308.1,1303.4 1290.5,1293.9 1272.9,1284.5 1255.2,1275.0 1237.4,1266.5 1217.4,1265.2 1197.4,1264.0 1177.5,1262.7 1157.5,1261.5 1137.6,1260.2 1119.9,1251.0 1102.3,1241.5 1084.7,1232.0 1067.1,1222.4 1049.5,1212.9 1031.9,1203.4 1014.1,1194.4 994.9,1188.8 975.7,1183.2 956.5,1177.6 937.3,1172.0 918.1,1166.4 898.3,1165.5 878.3,1166.1 858.4,1166.6 838.8,1163.3 819.5,1158.2 800.1,1153.1 782.0,1145.6 766.6,1132.9 751.1,1120.2 735.6,1107.6 720.1,1094.9 704.6,1082.3 687.7,1072.7 668.0,1069.1 648.4,1065.5 628.7,1061.8 609.0,1058.2 589.0,1059.1 569.1,1060.1 549.1,1061.0 529.1,1061.9 509.1,1062.9 489.2,1063.8 469.2,1064.7 449.2,1065.7 429.2,1066.6 409.2,1067.5 389.3,1068.5 369.3,1069.4 349.3,1070.3 329.3,1071.3" fill="#5100ff"/>
<polygon points="581.6,1216.1 594.6,1220.0 607.5,1223.8 620.5,1227.7 633.5,1231.5 646.5,1235.4 659.5,1239.2 672.5,1243.1 685.5,1246.9 698.4,1250.8 711.4,1254.6 724.4,1258.5 737.4,1262.3 750.4,1266.2 763.4,1270.1 776.3,1274.8 789.2,1279.6 802.1,1284.4 815.0,1289.1 827.4,1295.1 839.5,1301.6 851.6,1308.2 863.7,1314.8 875.8,1321.3 887.8,1327.9 900.5,1333.5 913.3,1338.5 926.2,1343.6 939.5,1347.1 953.0,1349.8 966.4,1352.5 979.8,1355.5 993.1,1359.5 1006.3,1363.5 1019.6,1367.4 1032.9,1371.4 1046.2,1375.3 1059.2,1380.0 1071.9,1385.3 1084.7,1390.7 1097.4,1396.1 1110.1,1401.5 1122.8,1407.0 1135.6,1412.3 1148.8,1416.1 1162.0,1419.9 1175.2,1423.7 1188.4,1427.4 1201.5,1431.2 1214.3,1436.4 1227.1,1441.9 1239.8,1447.3 1252.5,1452.7 1265.2,1458.1 1278.0,1463.5 1290.7,1468.9 1303.4,1474.3 1316.2,1479.8 1328.9,1485.2 1341.6,1490.6 1354.3,1496.0 1367.1,1501.4 1379.8,1506.8 1392.5,1512.2 1502.0,1407.4 1484.3,1397.9 1466.7,1388.5 1449.1,1379.0 1431.5,1369.6 1413.8,1360.1 1396.2,1350.7 1378.6,1341.2 1361.0,1331.8 1343.4,1322.3 1325.7,1312.9 1308.1,1303.4 1290.5,1293.9 1272.9,1284.5 1255.2,1275.0 1237.4,1266.5 1217.4,1265.2 1197.4,1264.0 1177.5,1262.7 1157.5,1261.5 1137.6,1260.2 1119.9,1251.0 1102.3,1241.5 1084.7,1232.0 1067.1,1222.4 1049.5,1212.9 1031.9,1203.4 1014.1,1194.4 994.9,1188.8 975.7,1183.2 956.5,1177.6 937.3,1172.0 918.1,1166.4 898.3,1165.5 878.3,1166.1 858.4,1166.6 838.8,1163.3 819.5,1158.2 800.1,1153.1 782.0,1145.6 766.6,1132.9 751.1,1120.2 735.6,1107.6 720.1,1094.9 704.6,1082.3 687.7,1072.7 668.0,1069.1 648.4,1065.5 628.7,1061.8 609.0,1058.2 589.0,1059.1 569.1,1060.1 549.1,1061.0 529.1,1061.9 509.1,1062.9 489.2,1063.8 469.2,1064.7 449.2,1065.7 429.2,1066.6 409.2,1067.5 389.3,1068.5 369.3,1069.4 349.3,1070.3 329.3,1071.3" fill="#3600ff"/>
<polygon points="550.0,1198.0 563.9,1201.3 577.8,1204.5 591.6,1207.8 605.5,1211.0 619.3,1214.3 633.2,1217.5 647.1,1220.8 660.9,1224.0 674.8,1227.3 688.6,1230.6 702.5,1233.8 716.3,1237.1 730.2,1240.3 744.1,1243.6 757.8,1248.2 771.6,1252.8 785.4,1257.4 799.1,1262.1 812.1,1268.5 824.6,1275.8 837.1,1283.1 849.6,1290.5 862.1,1297.8 874.6,1305.1 887.9,1310.9 901.6,1316.0 915.2,1321.0 929.4,1324.5 943.6,1326.9 957.9,1329.2 972.1,1331.9 986.1,1336.1 1000.1,1340.2 1014.1,1344.4 1028.2,1348.5 1042.2,1352.7 1055.8,1357.9 1069.1,1363.7 1082.5,1369.7 1095.8,1375.6 1109.1,1381.5 1122.5,1387.5 1135.8,1393.3 1149.9,1396.8 1163.9,1400.2 1177.9,1403.7 1192.0,1407.2 1206.0,1410.6 1219.4,1416.3 1232.8,1422.2 1246.1,1428.1 1259.5,1434.0 1272.8,1439.9 1286.1,1445.9 1299.5,1451.8 1312.8,1457.7 1326.2,1463.6 1339.5,1469.5 1352.8,1475.5 1366.2,1481.4 1379.5,1487.3 1392.9,1493.2 1406.2,1499.1 1502.0,1407.4 1484.3,1397.9 1466.7,1388.5 1449.1,1379.0 1431.5,1369.6 1413.8,1360.1 1396.2,1350.7 1378.6,1341.2 1361.0,1331.8 1343.4,1322.3 1325.7,1312.9 1308.1,1303.4 1290.5,1293.9 1272.9,1284.5 1255.2,1275.0 1237.4,1266.5 1217.4,1265.2 1197.4,1264.0 1177.5,1262.7 1157.5,1261.5 1137.6,1260.2 1119.9,1251.0 1102.3,1241.5 1084.7,1232.0 1067.1,1222.4 1049.5,1212.9 1031.9,1203.4 1014.1,1194.4 994.9,1188.8 975.7,1183.2 956.5,1177.6 937.3,1172.0 918.1,1166.4 898.3,1165.5 878.3,1166.1 858.4,1166.6 838.8,1163.3 819.5,1158.2 800.1,1153.1 782.0,1145.6 766.6,1132.9 751.1,1120.2 735.6,1107.6 720.1,1094.9 704.6,1082.3 687.7,1072.7 668.0,1069.1 648.4,1065.5 628.7,1061.8 609.0,1058.2 589.0,1059.1 569.1,1060.1 549.1,1061.0 529.1,1061.9 509.1,1062.9 489.2,1063.8 469.2,1064.7 449.2,1065.7 429.2,1066.6 409.2,1067.5 389.3,1068.5 369.3,1069.4 349.3,1070.3 329.3,1071.3" fill="#1b00ff"/>
<polygon points="518.5,1179.9 533.2,1182.6 548.0,1185.2 562.7,1187.9 577.4,1190.5 592.2,1193.2 606.9,1195.8 621.6,1198.5 636.4,1201.1 651.1,1203.8 665.8,1206.5 680.6,1209.1 695.3,1211.8 710.0,1214.4 724.8,1217.1 739.4,1221.6 754.0,1226.1 768.6,1230.5 783.2,1235.0 796.7,1241.9 809.7,1250.0 822.6,1258.1 835.5,1266.1 848.5,1274.2 861.4,1282.3 875.4,1288.4 889.9,1293.4 904.3,1298.5 919.2,1302.0 934.3,1303.9 949.4,1305.8 964.4,1308.3 979.1,1312.6 993.9,1317.0 1008.7,1321.3 1023.4,1325.7 1038.2,1330.1 1052.4,1335.8 1066.3,1342.2 1080.3,1348.6 1094.2,1355.1 1108.2,1361.5 1122.1,1368.0 1136.1,1374.3 1151.0,1377.5 1165.8,1380.6 1180.7,1383.7 1195.6,1386.9 1210.5,1390.0 1224.6,1396.1 1238.5,1402.5 1252.5,1408.9 1266.4,1415.4 1280.4,1421.8 1294.3,1428.2 1308.3,1434.6 1322.2,1441.1 1336.2,1447.5 1350.1,1453.9 1364.1,1460.3 1378.0,1466.8 1392.0,1473.2 1405.9,1479.6 1419.9,1486.0 1502.0,1407.4 1484.3,1397.9 1466.7,1388.5 1449.1,1379.0 1431.5,1369.6 1413.8,1360.1 1396.2,1350.7 1378.6,1341.2 1361.0,1331.8 1343.4,1322.3 1325.7,1312.9 1308.1,1303.4 1290.5,1293.9 1272.9,1284.5 1255.2,1275.0 1237.4,1266.5 1217.4,1265.2 1197.4,1264.0 1177.5,1262.7 1157.5,1261.5 1137.6,1260.2 1119.9,1251.0 1102.3,1241.5 1084.7,1232.0 1067.1,1222.4 1049.5,1212.9 1031.9,1203.4 1014.1,1194.4 994.9,1188.8 975.7,1183.2 956.5,1177.6 937.3,1172.0 918.1,1166.4 898.3,1165.5 878.3,1166.1 858.4,1166.6 838.8,1163.3 819.5,1158.2 800.1,1153.1 782.0,1145.6 766.6,1132.9 751.1,1120.2 735.6,1107.6 720.1,1094.9 704.6,1082.3 687.7,1072.7 668.0,1069.1 648.4,1065.5 628.7,1061.8 609.0,1058.2 589.0,1059.1 569.1,1060.1 549.1,1061.0 529.1,1061.9 509.1,1062.9 489.2,1063.8 469.2,1064.7 449.2,1065.7 429.2,1066.6 409.2,1067.5 389.3,1068.5 369.3,1069.4 349.3,1070.3 329.3,1071.3" fill="#0000ff"/>
<polygon points="487.0,1161.8 502.6,1163.9 518.2,1165.9 533.8,1168.0 549.4,1170.0 565.0,1172.1 580.6,1174.1 596.2,1176.2 611.8,1178.3 627.4,1180.3 643.1,1182.4 658.7,1184.4 674.3,1186.5 689.9,1188.5 705.5,1190.6 720.9,1195.0 736.4,1199.3 751.8,1203.6 767.3,1208.0 781.4,1215.3 794.7,1224.1 808.1,1233.0 821.5,1241.8 834.8,1250.7 848.2,1259.5 862.8,1265.8 878.1,1270.9 893.4,1276.0 909.1,1279.4 925.0,1280.9 940.9,1282.4 956.7,1284.6 972.2,1289.2 987.7,1293.7 1003.2,1298.3 1018.7,1302.9 1034.2,1307.5 1049.0,1313.8 1063.5,1320.6 1078.1,1327.6 1092.6,1334.6 1107.2,1341.5 1121.7,1348.5 1136.3,1355.3 1152.0,1358.1 1167.8,1361.0 1183.5,1363.8 1199.2,1366.6 1215.0,1369.4 1229.7,1375.9 1244.2,1382.8 1258.8,1389.8 1273.4,1396.7 1287.9,1403.6 1302.5,1410.6 1317.1,1417.5 1331.6,1424.4 1346.2,1431.3 1360.7,1438.3 1375.3,1445.2 1389.9,1452.1 1404.4,1459.1 1419.0,1466.0 1433.6,1472.9 1502.0,1407.4 1484.3,1397.9 1466.7,1388.5 1449.1,1379.0 1431.5,1369.6 1413.8,1360.1 1396.2,1350.7 1378.6,1341.2 1361.0,1331.8 1343.4,1322.3 1325.7,1312.9 1308.1,1303.4 1290.5,1293.9 1272.9,1284.5 1255.2,1275.0 1237.4,1266.5 1217.4,1265.2 1197.4,1264.0 1177.5,1262.7 1157.5,1261.5 1137.6,1260.2 1119.9,1251.0 1102.3,1241.5 1084.7,1232.0 1067.1,1222.4 1049.5,1212.9 1031.9,1203.4 1014.1,1194.4 994.9,1188.8 975.7,1183.2 956.5,1177.6 937.3,1172.0 918.1,1166.4 898.3,1165.5 878.3,1166.1 858.4,1166.6 838.8,1163.3 819.5,1158.2 800.1,1153.1 782.0,1145.6 766.6,1132.9 751.1,1120.2 735.6,1107.6 720.1,1094.9 704.6,1082.3 687.7,1072.7 668.0,1069.1 648.4,1065.5 628.7,1061.8 609.0,1058.2 589.0,1059.1 569.1,1060.1 549.1,1061.0 529.1,1061.9 509.1,1062.9 489.2,1063.8 469.2,1064.7 449.2,1065.7 429.2,1066.6 409.2,1067.5 389.3,1068.5 369.3,1069.4 349.3,1070.3 329.3,1071.3" fill="#0017ff"/>
<polygon points="455.5,1143.7 471.9,1145.2 488.4,1146.6 504.9,1148.1 521.4,1149.5 537.9,1151.0 554.3,1152.4 570.8,1153.9 587.3,1155.4 603.8,1156.8 620.3,1158.3 636.7,1159.7 653.2,1161.2 669.7,1162.7 686.2,1164.1 702.5,1168.3 718.8,1172.5 735.1,1176.7 751.4,1180.9 766.0,1188.7 779.8,1198.3 793.6,1207.9 807.4,1217.5 821.2,1227.1 834.9,1236.7 850.3,1243.3 866.4,1248.4 882.5,1253.4 898.9,1256.9 915.6,1257.9 932.4,1259.0 949.0,1261.0 965.2,1265.7 981.4,1270.5 997.7,1275.3 1013.9,1280.1 1030.2,1284.8 1045.5,1291.7 1060.7,1299.1 1075.9,1306.6 1091.0,1314.0 1106.2,1321.5 1121.4,1329.0 1136.6,1336.3 1153.1,1338.8 1169.7,1341.3 1186.3,1343.8 1202.9,1346.3 1219.5,1348.8 1234.8,1355.7 1250.0,1363.2 1265.1,1370.6 1280.3,1378.0 1295.5,1385.5 1310.7,1392.9 1325.8,1400.3 1341.0,1407.8 1356.2,1415.2 1371.4,1422.6 1386.5,1430.1 1401.7,1437.5 1416.9,1444.9 1432.1,1452.4 1447.2,1459.8 1502.0,1407.4 1484.3,1397.9 1466.7,1388.5 1449.1,1379.0 1431.5,1369.6 1413.8,1360.1 1396.2,1350.7 1378.6,1341.2 1361.0,1331.8 1343.4,1322.3 1325.7,1312.9 1308.1,1303.4 1290.5,1293.9 1272.9,1284.5 1255.2,1275.0 1237.4,1266.5 1217.4,1265.2 1197.4,1264.0 1177.5,1262.7 1157.5,1261.5 1137.6,1260.2 1119.9,1251.0 1102.3,1241.5 1084.7,1232.0 1067.1,1222.4 1049.5,1212.9 1031.9,1203.4 1014.1,1194.4 994.9,1188.8 975.7,1183.2 956.5,1177.6 937.3,1172.0 918.1,1166.4 898.3,1165.5 878.3,1166.1 858.4,1166.6 838.8,1163.3 819.5,1158.2 800.1,1153.1 782.0,1145.6 766.6,1132.9 751.1,1120.2 735.6,1107.6 720.1,1094.9 704.6,1082.3 687.7,1072.7 668.0,1069.1 648.4,1065.5 628.7,1061.8 609.0,1058.2 589.0,1059.1 569.1,1060.1 549.1,1061.0 529.1,1061.9 509.1,1062.9 489.2,1063.8 469.2,1064.7 449.2,1065.7 429.2,1066.6 409.2,1067.5 389.3,1068.5 369.3,1069.4 349.3,1070.3 329.3,1071.3" fill="#002fff"/>
<polygon points="423.9,1125.6 441.3,1126.4 458.6,1127.3 476.0,1128.2 493.3,1129.0 510.7,1129.9 528.1,1130.8 545.4,1131.6 562.8,1132.5 580.1,1133.3 597.5,1134.2 614.8,1135.1 632.2,1135.9 649.5,1136.8 666.9,1137.6 684.0,1141.7 701.2,1145.8 718.3,1149.8 735.4,1153.9 750.7,1162.1 764.9,1172.4 779.1,1182.8 793.3,1193.2 807.5,1203.6 821.7,1213.9 837.7,1220.8 854.7,1225.8 871.6,1230.9 888.8,1234.3 906.3,1235.0 923.9,1235.7 941.3,1237.3 958.2,1242.3 975.2,1247.3 992.2,1252.3 1009.2,1257.2 1026.2,1262.2 1042.1,1269.6 1057.9,1277.6 1073.7,1285.5 1089.5,1293.5 1105.2,1301.5 1121.0,1309.5 1136.8,1317.3 1154.2,1319.5 1171.7,1321.7 1189.1,1323.9 1206.5,1326.1 1223.9,1328.2 1239.9,1335.6 1255.7,1343.5 1271.5,1351.4 1287.3,1359.4 1303.0,1367.3 1318.8,1375.3 1334.6,1383.2 1350.4,1391.1 1366.2,1399.1 1382.0,1407.0 1397.8,1415.0 1413.6,1422.9 1429.3,1430.8 1445.1,1438.8 1460.9,1446.7 1502.0,1407.4 1484.3,1397.9 1466.7,1388.5 1449.1,1379.0 1431.5,1369.6 1413.8,1360.1 1396.2,1350.7 1378.6,1341.2 1361.0,1331.8 1343.4,1322.3 1325.7,1312.9 1308.1,1303.4 1290.5,1293.9 1272.9,1284.5 1255.2,1275.0 1237.4,1266.5 1217.4,1265.2 1197.4,1264.0 1177.5,1262.7 1157.5,1261.5 1137.6,1260.2 1119.9,1251.0 1102.3,1241.5 1084.7,1232.0 1067.1,1222.4 1049.5,1212.9 1031.9,1203.4 1014.1,1194.4 994.9,1188.8 975.7,1183.2 956.5,1177.6 937.3,1172.0 918.1,1166.4 898.3,1165.5 878.3,1166.1 858.4,1166.6 838.8,1163.3 819.5,1158.2 800.1,1153.1 782.0,1145.6 766.6,1132.9 751.1,1120.2 735.6,1107.6 720.1,1094.9 704.6,1082.3 687.7,1072.7 668.0,1069.1 648.4,1065.5 628.7,1061.8 609.0,1058.2 589.0,1059.1 569.1,1060.1 549.1,1061.0 529.1,1061.9 509.1,1062.9 489.2,1063.8 469.2,1064.7 449.2,1065.7 429.2,1066.6 409.2,1067.5 389.3,1068.5 369.3,1069.4 349.3,1070.3 329.3,1071.3" fill="#0046ff"/>
<polygon points="392.4,1107.5 410.6,1107.7 428.9,1108.0 447.1,1108.3 465.3,1108.5 483.5,1108.8 501.8,1109.1 520.0,1109.3 538.2,1109.6 556.5,1109.8 574.7,1110.1 592.9,1110.4 611.1,1110.6 629.4,1110.9 647.6,1111.2 665.6,1115.1 683.6,1119.0 701.5,1122.9 719.5,1126.8 735.3,1135.5 750.0,1146.6 764.6,1157.7 779.2,1168.9 793.9,1180.0 808.5,1191.2 825.2,1198.2 842.9,1203.3 860.6,1208.4 878.6,1211.7 897.0,1212.0 915.3,1212.3 933.6,1213.7 951.3,1218.9 969.0,1224.0 986.7,1229.2 1004.4,1234.4 1022.2,1239.6 1038.7,1247.6 1055.1,1256.0 1071.5,1264.5 1087.9,1273.0 1104.3,1281.5 1120.6,1290.0 1137.1,1298.3 1155.3,1300.1 1173.6,1302.0 1191.9,1303.9 1210.1,1305.8 1228.4,1307.7 1245.0,1315.4 1261.4,1323.8 1277.8,1332.3 1294.2,1340.7 1310.6,1349.2 1327.0,1357.6 1343.4,1366.1 1359.8,1374.5 1376.2,1382.9 1392.6,1391.4 1409.0,1399.8 1425.4,1408.3 1441.8,1416.7 1458.2,1425.2 1474.6,1433.6 1502.0,1407.4 1484.3,1397.9 1466.7,1388.5 1449.1,1379.0 1431.5,1369.6 1413.8,1360.1 1396.2,1350.7 1378.6,1341.2 1361.0,1331.8 1343.4,1322.3 1325.7,1312.9 1308.1,1303.4 1290.5,1293.9 1272.9,1284.5 1255.2,1275.0 1237.4,1266.5 1217.4,1265.2 1197.4,1264.0 1177.5,1262.7 1157.5,1261.5 1137.6,1260.2 1119.9,1251.0 1102.3,1241.5 1084.7,1232.0 1067.1,1222.4 1049.5,1212.9 1031.9,1203.4 1014.1,1194.4 994.9,1188.8 975.7,1183.2 956.5,1177.6 937.3,1172.0 918.1,1166.4 898.3,1165.5 878.3,1166.1 858.4,1166.6 838.8,1163.3 819.5,1158.2 800.1,1153.1 782.0,1145.6 766.6,1132.9 751.1,1120.2 735.6,1107.6 720.1,1094.9 704.6,1082.3 687.7,1072.7 668.0,1069.1 648.4,1065.5 628.7,1061.8 609.0,1058.2 589.0,1059.1 569.1,1060.1 549.1,1061.0 529.1,1061.9 509.1,1062.9 489.2,1063.8 469.2,1064.7 449.2,1065.7 429.2,1066.6 409.2,1067.5 389.3,1068.5 369.3,1069.4 349.3,1070.3 329.3,1071.3" fill="#005dff"/>
<polygon points="360.9,1089.4 380.0,1089.0 399.1,1088.7 418.2,1088.4 437.3,1088.0 456.4,1087.7 475.5,1087.4 494.6,1087.0 513.7,1086.7 532.8,1086.4 551.9,1086.0 571.0,1085.7 590.1,1085.4 609.2,1085.0 628.3,1084.7 647.1,1088.5 666.0,1092.2 684.8,1096.0 703.6,1099.8 720.0,1108.9 735.0,1120.8 750.1,1132.7 765.1,1144.6 780.2,1156.5 795.3,1168.4 812.7,1175.7 831.2,1180.7 849.7,1185.8 868.5,1189.2 887.7,1189.0 906.8,1188.9 925.9,1190.0 944.3,1195.4 962.8,1200.8 981.2,1206.2 999.7,1211.6 1018.1,1217.0 1035.3,1225.5 1052.3,1234.5 1069.3,1243.5 1086.3,1252.5 1103.3,1261.5 1120.3,1270.5 1137.3,1279.2 1156.4,1280.8 1175.5,1282.4 1194.7,1283.9 1213.8,1285.5 1232.9,1287.1 1250.1,1295.2 1267.1,1304.2 1284.1,1313.1 1301.2,1322.1 1318.2,1331.0 1335.2,1340.0 1352.2,1348.9 1369.2,1357.9 1386.2,1366.8 1403.2,1375.8 1420.2,1384.7 1437.3,1393.7 1454.3,1402.6 1471.3,1411.6 1488.3,1420.5 1502.0,1407.4 1484.3,1397.9 1466.7,1388.5 1449.1,1379.0 1431.5,1369.6 1413.8,1360.1 1396.2,1350.7 1378.6,1341.2 1361.0,1331.8 1343.4,1322.3 1325.7,1312.9 1308.1,1303.4 1290.5,1293.9 1272.9,1284.5 1255.2,1275.0 1237.4,1266.5 1217.4,1265.2 1197.4,1264.0 1177.5,1262.7 1157.5,1261.5 1137.6,1260.2 1119.9,1251.0 1102.3,1241.5 1084.7,1232.0 1067.1,1222.4 1049.5,1212.9 1031.9,1203.4 1014.1,1194.4 994.9,1188.8 975.7,1183.2 956.5,1177.6 937.3,1172.0 918.1,1166.4 898.3,1165.5 878.3,1166.1 858.4,1166.6 838.8,1163.3 819.5,1158.2 800.1,1153.1 782.0,1145.6 766.6,1132.9 751.1,1120.2 735.6,1107.6 720.1,1094.9 704.6,1082.3 687.7,1072.7 668.0,1069.1 648.4,1065.5 628.7,1061.8 609.0,1058.2 589.0,1059.1 569.1,1060.1 549.1,1061.0 529.1,1061.9 509.1,1062.9 489.2,1063.8 469.2,1064.7 449.2,1065.7 429.2,1066.6 409.2,1067.5 389.3,1068.5 369.3,1069.4 349.3,1070.3 329.3,1071.3" fill="#0075ff"/>
<polygon points="329.3,1071.3 349.3,1070.3 369.3,1069.4 389.3,1068.5 409.2,1067.5 429.2,1066.6 449.2,1065.7 469.2,1064.7 489.2,1063.8 509.1,1062.9 529.1,1061.9 549.1,1061.0 569.1,1060.1 589.0,1059.1 609.0,1058.2 628.7,1061.8 648.4,1065.5 668.0,1069.1 687.7,1072.7 704.6,1082.3 720.1,1094.9 735.6,1107.6 751.1,1120.2 766.6,1132.9 782.0,1145.6 800.1,1153.1 819.5,1158.2 838.8,1163.3 858.4,1166.6 878.3,1166.1 898.3,1165.5 918.1,1166.4 937.3,1172.0 956.5,1177.6 975.7,1183.2 994.9,1188.8 1014.1,1194.4 1031.9,1203.4 1049.5,1212.9 1067.1,1222.4 1084.7,1232.0 1102.3,1241.5 1119.9,1251.0 1137.6,1260.2 1157.5,1261.5 1177.5,1262.7 1197.4,1264.0 1217.4,1265.2 1237.4,1266.5 1255.2,1275.0 1272.9,1284.5 1290.5,1293.9 1308.1,1303.4 1325.7,1312.9 1343.4,1322.3 1361.0,1331.8 1378.6,1341.2 1396.2,1350.7 1413.8,1360.1 1431.5,1369.6 1449.1,1379.0 1466.7,1388.5 1484.3,1397.9 1502.0,1407.4 1611.7,1281.3 1594.9,1270.6 1578.1,1259.8 1561.3,1249.1 1544.5,1238.4 1527.7,1227.6 1510.8,1216.9 1494.0,1206.2 1477.2,1195.4 1460.4,1184.7 1443.6,1173.9 1426.8,1163.2 1410.0,1152.5 1393.2,1141.7 1376.4,1131.0 1359.5,1120.3 1342.7,1109.5 1325.9,1098.8 1309.1,1088.1 1291.5,1079.4 1271.8,1076.3 1252.1,1073.2 1232.4,1070.2 1212.7,1067.1 1193.3,1062.6 1174.5,1056.2 1155.6,1049.7 1136.7,1043.2 1117.8,1036.8 1099.0,1030.3 1080.1,1023.9 1061.2,1017.4 1042.3,1011.0 1023.5,1004.5 1004.6,998.1 985.7,991.6 967.2,984.2 948.9,976.3 930.6,968.4 912.2,960.5 893.9,952.7 875.0,947.7 855.1,947.8 835.1,948.0 815.2,948.1 795.4,946.6 775.9,942.4 756.7,937.3 738.2,929.8 719.8,922.2 701.3,914.7 682.8,907.1 664.4,899.6 645.9,892.0 627.4,884.5 609.0,876.9 590.5,869.4 572.0,861.8 553.6,854.3 535.1,846.8 516.6,839.2 498.2,831.7 479.7,824.1 461.2,816.6" fill="#008cff"/>
<polygon points="342.5,1045.8 362.4,1045.7 382.2,1045.6 402.0,1045.5 421.8,1045.5 441.7,1045.4 461.5,1045.3 481.3,1045.2 501.1,1045.1 521.0,1045.0 540.8,1044.9 560.6,1044.9 580.4,1044.8 600.3,1044.7 620.1,1044.6 639.6,1048.6 659.2,1052.7 678.8,1056.4 698.5,1060.1 715.7,1068.9 731.6,1080.2 747.5,1091.6 763.5,1103.0 779.3,1114.9 795.1,1127.1 813.2,1134.7 832.4,1140.0 851.6,1145.4 871.1,1149.1 891.0,1149.3 910.8,1149.4 930.6,1150.8 949.7,1156.5 968.9,1162.2 988.1,1167.9 1007.2,1173.6 1026.4,1179.3 1044.3,1188.1 1062.0,1197.3 1079.7,1206.5 1097.5,1215.5 1115.3,1224.3 1133.1,1233.2 1151.0,1241.8 1170.9,1243.3 1190.6,1245.3 1210.3,1247.5 1229.9,1249.7 1249.6,1251.8 1267.3,1260.6 1284.9,1270.2 1302.4,1279.8 1320.0,1289.4 1337.5,1299.0 1355.1,1308.5 1372.6,1318.1 1390.1,1327.7 1407.7,1337.3 1425.2,1346.9 1442.8,1356.5 1460.3,1366.0 1477.9,1375.6 1495.4,1385.2 1512.9,1394.8 1611.7,1281.3 1594.9,1270.6 1578.1,1259.8 1561.3,1249.1 1544.5,1238.4 1527.7,1227.6 1510.8,1216.9 1494.0,1206.2 1477.2,1195.4 1460.4,1184.7 1443.6,1173.9 1426.8,1163.2 1410.0,1152.5 1393.2,1141.7 1376.4,1131.0 1359.5,1120.3 1342.7,1109.5 1325.9,1098.8 1309.1,1088.1 1291.5,1079.4 1271.8,1076.3 1252.1,1073.2 1232.4,1070.2 1212.7,1067.1 1193.3,1062.6 1174.5,1056.2 1155.6,1049.7 1136.7,1043.2 1117.8,1036.8 1099.0,1030.3 1080.1,1023.9 1061.2,1017.4 1042.3,1011.0 1023.5,1004.5 1004.6,998.1 985.7,991.6 967.2,984.2 948.9,976.3 930.6,968.4 912.2,960.5 893.9,952.7 875.0,947.7 855.1,947.8 835.1,948.0 815.2,948.1 795.4,946.6 775.9,942.4 756.7,937.3 738.2,929.8 719.8,922.2 701.3,914.7 682.8,907.1 664.4,899.6 645.9,892.0 627.4,884.5 609.0,876.9 590.5,869.4 572.0,861.8 553.6,854.3 535.1,846.8 516.6,839.2 498.2,831.7 479.7,824.1 461.2,816.6" fill="#009dff"/>
<polygon points="355.7,1020.3 375.4,1021.1 395.1,1021.9 414.7,1022.6 434.4,1023.4 454.1,1024.1 473.8,1024.9 493.4,1025.7 513.1,1026.4 532.8,1027.2 552.5,1028.0 572.1,1028.7 591.8,1029.5 611.5,1030.2 631.2,1031.0 650.6,1035.4 670.0,1039.8 689.6,1043.8 709.2,1047.5 726.7,1055.4 743.1,1065.5 759.5,1075.6 775.9,1085.7 792.0,1096.9 808.1,1108.6 826.2,1116.2 845.3,1121.8 864.5,1127.5 883.8,1131.6 903.6,1132.5 923.4,1133.3 943.0,1135.3 962.1,1141.1 981.3,1146.8 1000.4,1152.6 1019.5,1158.4 1038.7,1164.1 1056.7,1172.7 1074.5,1181.6 1092.4,1190.5 1110.3,1199.0 1128.3,1207.2 1146.3,1215.4 1164.4,1223.4 1184.3,1225.1 1203.8,1227.8 1223.1,1230.9 1242.5,1234.1 1261.8,1237.2 1279.5,1246.2 1296.9,1255.9 1314.4,1265.7 1331.8,1275.4 1349.3,1285.1 1366.8,1294.8 1384.2,1304.5 1401.7,1314.2 1419.1,1323.9 1436.6,1333.6 1454.1,1343.3 1471.5,1353.0 1489.0,1362.8 1506.5,1372.5 1523.9,1382.2 1611.7,1281.3 1594.9,1270.6 1578.1,1259.8 1561.3,1249.1 1544.5,1238.4 1527.7,1227.6 1510.8,1216.9 1494.0,1206.2 1477.2,1195.4 1460.4,1184.7 1443.6,1173.9 1426.8,1163.2 1410.0,1152.5 1393.2,1141.7 1376.4,1131.0 1359.5,1120.3 1342.7,1109.5 1325.9,1098.8 1309.1,1088.1 1291.5,1079.4 1271.8,1076.3 1252.1,1073.2 1232.4,1070.2 1212.7,1067.1 1193.3,1062.6 1174.5,1056.2 1155.6,1049.7 1136.7,1043.2 1117.8,1036.8 1099.0,1030.3 1080.1,1023.9 1061.2,1017.4 1042.3,1011.0 1023.5,1004.5 1004.6,998.1 985.7,991.6 967.2,984.2 948.9,976.3 930.6,968.4 912.2,960.5 893.9,952.7 875.0,947.7 855.1,947.8 835.1,948.0 815.2,948.1 795.4,946.6 775.9,942.4 756.7,937.3 738.2,929.8 719.8,922.2 701.3,914.7 682.8,907.1 664.4,899.6 645.9,892.0 627.4,884.5 609.0,876.9 590.5,869.4 572.0,861.8 553.6,854.3 535.1,846.8 516.6,839.2 498.2,831.7 479.7,824.1 461.2,816.6" fill="#00adff"/>
<polygon points="368.9,994.9 388.4,996.5 408.0,998.1 427.5,999.7 447.0,1001.3 466.5,1002.9 486.1,1004.5 505.6,1006.1 525.1,1007.7 544.6,1009.4 564.1,1011.0 583.7,1012.6 603.2,1014.2 622.7,1015.8 642.2,1017.4 661.5,1022.2 680.9,1027.0 700.4,1031.1 720.0,1034.9 737.8,1042.0 754.6,1050.8 771.4,1059.7 788.3,1068.5 804.8,1078.8 821.1,1090.1 839.3,1097.7 858.3,1103.6 877.3,1109.6 896.6,1114.1 916.2,1115.7 935.9,1117.2 955.4,1119.7 974.5,1125.6 993.6,1131.5 1012.7,1137.3 1031.8,1143.2 1050.9,1149.0 1069.0,1157.3 1087.0,1165.9 1105.0,1174.5 1123.1,1182.5 1141.3,1190.1 1159.6,1197.6 1177.8,1205.1 1197.7,1206.9 1217.0,1210.3 1236.0,1214.4 1255.0,1218.5 1274.0,1222.6 1291.6,1231.8 1309.0,1241.7 1326.3,1251.5 1343.7,1261.3 1361.1,1271.2 1378.5,1281.0 1395.9,1290.9 1413.2,1300.7 1430.6,1310.5 1448.0,1320.4 1465.4,1330.2 1482.8,1340.1 1500.1,1349.9 1517.5,1359.7 1534.9,1369.6 1611.7,1281.3 1594.9,1270.6 1578.1,1259.8 1561.3,1249.1 1544.5,1238.4 1527.7,1227.6 1510.8,1216.9 1494.0,1206.2 1477.2,1195.4 1460.4,1184.7 1443.6,1173.9 1426.8,1163.2 1410.0,1152.5 1393.2,1141.7 1376.4,1131.0 1359.5,1120.3 1342.7,1109.5 1325.9,1098.8 1309.1,1088.1 1291.5,1079.4 1271.8,1076.3 1252.1,1073.2 1232.4,1070.2 1212.7,1067.1 1193.3,1062.6 1174.5,1056.2 1155.6,1049.7 1136.7,1043.2 1117.8,1036.8 1099.0,1030.3 1080.1,1023.9 1061.2,1017.4 1042.3,1011.0 1023.5,1004.5 1004.6,998.1 985.7,991.6 967.2,984.2 948.9,976.3 930.6,968.4 912.2,960.5 893.9,952.7 875.0,947.7 855.1,947.8 835.1,948.0 815.2,948.1 795.4,946.6 775.9,942.4 756.7,937.3 738.2,929.8 719.8,922.2 701.3,914.7 682.8,907.1 664.4,899.6 645.9,892.0 627.4,884.5 609.0,876.9 590.5,869.4 572.0,861.8 553.6,854.3 535.1,846.8 516.6,839.2 498.2,831.7 479.7,824.1 461.2,816.6" fill="#00beff"/>
<polygon points="382.1,969.4 401.5,971.9 420.8,974.3 440.2,976.8 459.6,979.2 479.0,981.7 498.3,984.1 517.7,986.6 537.1,989.1 556.5,991.5 575.8,994.0 595.2,996.4 614.6,998.9 633.9,1001.3 653.3,1003.8 672.5,1009.0 691.7,1014.2 711.2,1018.4 730.8,1022.3 748.8,1028.6 766.1,1036.1 783.4,1043.7 800.7,1051.2 817.5,1060.8 834.1,1071.6 852.3,1079.2 871.2,1085.5 890.2,1091.7 909.3,1096.6 928.8,1098.9 948.4,1101.1 967.8,1104.2 986.9,1110.1 1006.0,1116.1 1025.0,1122.0 1044.1,1128.0 1063.2,1133.9 1081.4,1141.9 1099.5,1150.2 1117.6,1158.5 1135.9,1166.0 1154.3,1172.9 1172.8,1179.9 1191.3,1186.7 1211.1,1188.6 1230.1,1192.9 1248.8,1197.9 1267.5,1202.9 1286.2,1208.0 1303.7,1217.4 1321.0,1227.4 1338.3,1237.4 1355.6,1247.3 1372.9,1257.3 1390.2,1267.3 1407.5,1277.2 1424.8,1287.2 1442.1,1297.2 1459.4,1307.1 1476.7,1317.1 1494.0,1327.1 1511.3,1337.0 1528.6,1347.0 1545.9,1357.0 1611.7,1281.3 1594.9,1270.6 1578.1,1259.8 1561.3,1249.1 1544.5,1238.4 1527.7,1227.6 1510.8,1216.9 1494.0,1206.2 1477.2,1195.4 1460.4,1184.7 1443.6,1173.9 1426.8,1163.2 1410.0,1152.5 1393.2,1141.7 1376.4,1131.0 1359.5,1120.3 1342.7,1109.5 1325.9,1098.8 1309.1,1088.1 1291.5,1079.4 1271.8,1076.3 1252.1,1073.2 1232.4,1070.2 1212.7,1067.1 1193.3,1062.6 1174.5,1056.2 1155.6,1049.7 1136.7,1043.2 1117.8,1036.8 1099.0,1030.3 1080.1,1023.9 1061.2,1017.4 1042.3,1011.0 1023.5,1004.5 1004.6,998.1 985.7,991.6 967.2,984.2 948.9,976.3 930.6,968.4 912.2,960.5 893.9,952.7 875.0,947.7 855.1,947.8 835.1,948.0 815.2,948.1 795.4,946.6 775.9,942.4 756.7,937.3 738.2,929.8 719.8,922.2 701.3,914.7 682.8,907.1 664.4,899.6 645.9,892.0 627.4,884.5 609.0,876.9 590.5,869.4 572.0,861.8 553.6,854.3 535.1,846.8 516.6,839.2 498.2,831.7 479.7,824.1 461.2,816.6" fill="#00cfff"/>
<polygon points="395.3,943.9 414.5,947.2 433.7,950.5 453.0,953.8 472.2,957.1 491.4,960.5 510.6,963.8 529.8,967.1 549.1,970.4 568.3,973.7 587.5,977.0 606.7,980.3 625.9,983.6 645.2,986.9 664.4,990.2 683.5,995.8 702.5,1001.4 722.0,1005.8 741.5,1009.7 759.9,1015.2 777.6,1021.4 795.3,1027.7 813.0,1034.0 830.2,1042.8 847.1,1053.1 865.3,1060.8 884.2,1067.3 903.0,1073.8 922.0,1079.1 941.5,1082.1 960.9,1085.0 980.2,1088.7 999.3,1094.7 1018.3,1100.7 1037.4,1106.8 1056.4,1112.8 1075.4,1118.8 1093.7,1126.6 1112.0,1134.5 1130.2,1142.5 1148.7,1149.5 1167.4,1155.8 1186.0,1162.1 1204.7,1168.3 1224.5,1170.4 1243.3,1175.4 1261.7,1181.4 1280.1,1187.4 1298.5,1193.4 1315.8,1203.0 1333.0,1213.1 1350.2,1223.2 1367.4,1233.3 1384.7,1243.4 1401.9,1253.5 1419.1,1263.6 1436.3,1273.7 1453.5,1283.8 1470.8,1293.9 1488.0,1304.0 1505.2,1314.1 1522.4,1324.2 1539.6,1334.3 1556.8,1344.4 1611.7,1281.3 1594.9,1270.6 1578.1,1259.8 1561.3,1249.1 1544.5,1238.4 1527.7,1227.6 1510.8,1216.9 1494.0,1206.2 1477.2,1195.4 1460.4,1184.7 1443.6,1173.9 1426.8,1163.2 1410.0,1152.5 1393.2,1141.7 1376.4,1131.0 1359.5,1120.3 1342.7,1109.5 1325.9,1098.8 1309.1,1088.1 1291.5,1079.4 1271.8,1076.3 1252.1,1073.2 1232.4,1070.2 1212.7,1067.1 1193.3,1062.6 1174.5,1056.2 1155.6,1049.7 1136.7,1043.2 1117.8,1036.8 1099.0,1030.3 1080.1,1023.9 1061.2,1017.4 1042.3,1011.0 1023.5,1004.5 1004.6,998.1 985.7,991.6 967.2,984.2 948.9,976.3 930.6,968.4 912.2,960.5 893.9,952.7 875.0,947.7 855.1,947.8 835.1,948.0 815.2,948.1 795.4,946.6 775.9,942.4 756.7,937.3 738.2,929.8 719.8,922.2 701.3,914.7 682.8,907.1 664.4,899.6 645.9,892.0 627.4,884.5 609.0,876.9 590.5,869.4 572.0,861.8 553.6,854.3 535.1,846.8 516.6,839.2 498.2,831.7 479.7,824.1 461.2,816.6" fill="#00dfff"/>
<polygon points="408.5,918.5 427.6,922.6 446.6,926.8 465.7,930.9 484.8,935.1 503.8,939.2 522.9,943.4 542.0,947.5 561.0,951.7 580.1,955.8 599.2,960.0 618.3,964.1 637.3,968.3 656.4,972.5 675.5,976.6 694.4,982.6 713.4,988.6 732.7,993.1 752.3,997.1 771.0,1001.8 789.1,1006.7 807.3,1011.7 825.4,1016.7 843.0,1024.8 860.2,1034.6 878.4,1042.3 897.1,1049.1 915.8,1055.8 934.8,1061.6 954.1,1065.3 973.4,1068.9 992.7,1073.1 1011.7,1079.2 1030.7,1085.4 1049.7,1091.5 1068.7,1097.6 1087.7,1103.7 1106.1,1111.2 1124.5,1118.9 1142.8,1126.5 1161.5,1133.0 1180.4,1138.7 1199.2,1144.3 1218.1,1149.9 1237.9,1152.2 1256.5,1157.9 1274.5,1164.9 1292.6,1171.8 1310.7,1178.7 1327.9,1188.6 1345.0,1198.8 1362.2,1209.1 1379.3,1219.3 1396.5,1229.5 1413.6,1239.7 1430.7,1250.0 1447.9,1260.2 1465.0,1270.4 1482.1,1280.6 1499.3,1290.9 1516.4,1301.1 1533.5,1311.3 1550.7,1321.5 1567.8,1331.7 1611.7,1281.3 1594.9,1270.6 1578.1,1259.8 1561.3,1249.1 1544.5,1238.4 1527.7,1227.6 1510.8,1216.9 1494.0,1206.2 1477.2,1195.4 1460.4,1184.7 1443.6,1173.9 1426.8,1163.2 1410.0,1152.5 1393.2,1141.7 1376.4,1131.0 1359.5,1120.3 1342.7,1109.5 1325.9,1098.8 1309.1,1088.1 1291.5,1079.4 1271.8,1076.3 1252.1,1073.2 1232.4,1070.2 1212.7,1067.1 1193.3,1062.6 1174.5,1056.2 1155.6,1049.7 1136.7,1043.2 1117.8,1036.8 1099.0,1030.3 1080.1,1023.9 1061.2,1017.4 1042.3,1011.0 1023.5,1004.5 1004.6,998.1 985.7,991.6 967.2,984.2 948.9,976.3 930.6,968.4 912.2,960.5 893.9,952.7 875.0,947.7 855.1,947.8 835.1,948.0 815.2,948.1 795.4,946.6 775.9,942.4 756.7,937.3 738.2,929.8 719.8,922.2 701.3,914.7 682.8,907.1 664.4,899.6 645.9,892.0 627.4,884.5 609.0,876.9 590.5,869.4 572.0,861.8 553.6,854.3 535.1,846.8 516.6,839.2 498.2,831.7 479.7,824.1 461.2,816.6" fill="#00f0ff"/>
<polygon points="421.7,893.0 440.6,898.0 459.5,903.0 478.4,908.0 497.4,913.0 516.3,918.0 535.2,923.0 554.1,928.0 573.0,933.0 591.9,938.0 610.9,943.0 629.8,948.0 648.7,953.0 667.6,958.0 686.5,963.0 705.4,969.4 724.2,975.8 743.5,980.4 763.1,984.4 782.0,988.4 800.6,992.0 819.2,995.7 837.8,999.4 855.7,1006.7 873.2,1016.0 891.4,1023.8 910.1,1030.9 928.7,1037.9 947.5,1044.1 966.7,1048.5 985.9,1052.8 1005.1,1057.6 1024.1,1063.8 1043.0,1070.0 1062.0,1076.2 1081.0,1082.4 1099.9,1088.6 1118.5,1095.8 1137.0,1103.2 1155.5,1110.6 1174.3,1116.5 1193.4,1121.6 1212.4,1126.6 1231.5,1131.5 1251.3,1134.0 1269.6,1140.5 1287.4,1148.4 1305.1,1156.2 1322.9,1164.1 1340.0,1174.2 1357.1,1184.6 1374.1,1194.9 1391.2,1205.3 1408.2,1215.6 1425.3,1226.0 1442.4,1236.3 1459.4,1246.7 1476.5,1257.0 1493.5,1267.4 1510.6,1277.7 1527.6,1288.1 1544.7,1298.4 1561.7,1308.8 1578.8,1319.1 1611.7,1281.3 1594.9,1270.6 1578.1,1259.8 1561.3,1249.1 1544.5,1238.4 1527.7,1227.6 1510.8,1216.9 1494.0,1206.2 1477.2,1195.4 1460.4,1184.7 1443.6,1173.9 1426.8,1163.2 1410.0,1152.5 1393.2,1141.7 1376.4,1131.0 1359.5,1120.3 1342.7,1109.5 1325.9,1098.8 1309.1,1088.1 1291.5,1079.4 1271.8,1076.3 1252.1,1073.2 1232.4,1070.2 1212.7,1067.1 1193.3,1062.6 1174.5,1056.2 1155.6,1049.7 1136.7,1043.2 1117.8,1036.8 1099.0,1030.3 1080.1,1023.9 1061.2,1017.4 1042.3,1011.0 1023.5,1004.5 1004.6,998.1 985.7,991.6 967.2,984.2 948.9,976.3 930.6,968.4 912.2,960.5 893.9,952.7 875.0,947.7 855.1,947.8 835.1,948.0 815.2,948.1 795.4,946.6 775.9,942.4 756.7,937.3 738.2,929.8 719.8,922.2 701.3,914.7 682.8,907.1 664.4,899.6 645.9,892.0 627.4,884.5 609.0,876.9 590.5,869.4 572.0,861.8 553.6,854.3 535.1,846.8 516.6,839.2 498.2,831.7 479.7,824.1 461.2,816.6" fill="#00ffeb"/>
<polygon points="434.9,867.5 453.6,873.4 472.4,879.2 491.2,885.1 509.9,890.9 528.7,896.8 547.5,902.6 566.2,908.5 585.0,914.3 603.8,920.2 622.5,926.0 641.3,931.9 660.1,937.7 678.8,943.6 697.6,949.4 716.3,956.2 735.0,962.9 754.3,967.8 773.9,971.8 793.1,974.9 812.1,977.4 831.2,979.8 850.2,982.2 868.5,988.7 886.2,997.5 904.5,1005.4 923.0,1012.7 941.5,1020.0 960.2,1026.6 979.3,1031.7 998.4,1036.7 1017.5,1042.0 1036.4,1048.3 1055.4,1054.6 1074.3,1060.9 1093.3,1067.2 1112.2,1073.5 1130.8,1080.4 1149.5,1087.5 1168.1,1094.6 1187.1,1100.1 1206.4,1104.4 1225.7,1108.8 1245.0,1113.1 1264.7,1115.8 1282.8,1123.0 1300.2,1131.8 1317.7,1140.7 1335.1,1149.5 1352.1,1159.8 1369.1,1170.3 1386.1,1180.8 1403.1,1191.3 1420.0,1201.7 1437.0,1212.2 1454.0,1222.7 1470.9,1233.2 1487.9,1243.6 1504.9,1254.1 1521.9,1264.6 1538.8,1275.1 1555.8,1285.6 1572.8,1296.0 1589.8,1306.5 1611.7,1281.3 1594.9,1270.6 1578.1,1259.8 1561.3,1249.1 1544.5,1238.4 1527.7,1227.6 1510.8,1216.9 1494.0,1206.2 1477.2,1195.4 1460.4,1184.7 1443.6,1173.9 1426.8,1163.2 1410.0,1152.5 1393.2,1141.7 1376.4,1131.0 1359.5,1120.3 1342.7,1109.5 1325.9,1098.8 1309.1,1088.1 1291.5,1079.4 1271.8,1076.3 1252.1,1073.2 1232.4,1070.2 1212.7,1067.1 1193.3,1062.6 1174.5,1056.2 1155.6,1049.7 1136.7,1043.2 1117.8,1036.8 1099.0,1030.3 1080.1,1023.9 1061.2,1017.4 1042.3,1011.0 1023.5,1004.5 1004.6,998.1 985.7,991.6 967.2,984.2 948.9,976.3 930.6,968.4 912.2,960.5 893.9,952.7 875.0,947.7 855.1,947.8 835.1,948.0 815.2,948.1 795.4,946.6 775.9,942.4 756.7,937.3 738.2,929.8 719.8,922.2 701.3,914.7 682.8,907.1 664.4,899.6 645.9,892.0 627.4,884.5 609.0,876.9 590.5,869.4 572.0,861.8 553.6,854.3 535.1,846.8 516.6,839.2 498.2,831.7 479.7,824.1 461.2,816.6" fill="#00ffc3"/>
<polygon points="448.1,842.0 466.7,848.7 485.3,855.4 503.9,862.1 522.5,868.8 541.1,875.5 559.8,882.2 578.4,888.9 597.0,895.6 615.6,902.3 634.2,909.0 652.8,915.7 671.4,922.4 690.1,929.1 708.7,935.8 727.3,943.0 745.9,950.1 765.1,955.1 784.6,959.2 804.1,961.5 823.6,962.7 843.1,963.8 862.6,964.9 881.2,970.7 899.2,979.0 917.5,986.9 935.9,994.5 954.4,1002.1 973.0,1009.1 992.0,1014.9 1011.0,1020.6 1029.9,1026.5 1048.8,1032.9 1067.7,1039.2 1086.6,1045.6 1105.5,1052.0 1124.5,1058.4 1143.2,1065.1 1162.0,1071.8 1180.7,1078.6 1199.9,1083.6 1219.4,1087.3 1238.9,1091.0 1258.4,1094.7 1278.1,1097.6 1295.9,1105.5 1313.1,1115.3 1330.2,1125.1 1347.3,1134.9 1364.2,1145.4 1381.1,1156.0 1398.0,1166.6 1414.9,1177.2 1431.8,1187.8 1448.7,1198.4 1465.6,1209.1 1482.5,1219.7 1499.4,1230.3 1516.3,1240.9 1533.2,1251.5 1550.1,1262.1 1567.0,1272.7 1583.8,1283.3 1600.7,1293.9 1611.7,1281.3 1594.9,1270.6 1578.1,1259.8 1561.3,1249.1 1544.5,1238.4 1527.7,1227.6 1510.8,1216.9 1494.0,1206.2 1477.2,1195.4 1460.4,1184.7 1443.6,1173.9 1426.8,1163.2 1410.0,1152.5 1393.2,1141.7 1376.4,1131.0 1359.5,1120.3 1342.7,1109.5 1325.9,1098.8 1309.1,1088.1 1291.5,1079.4 1271.8,1076.3 1252.1,1073.2 1232.4,1070.2 1212.7,1067.1 1193.3,1062.6 1174.5,1056.2 1155.6,1049.7 1136.7,1043.2 1117.8,1036.8 1099.0,1030.3 1080.1,1023.9 1061.2,1017.4 1042.3,1011.0 1023.5,1004.5 1004.6,998.1 985.7,991.6 967.2,984.2 948.9,976.3 930.6,968.4 912.2,960.5 893.9,952.7 875.0,947.7 855.1,947.8 835.1,948.0 815.2,948.1 795.4,946.6 775.9,942.4 756.7,937.3 738.2,929.8 719.8,922.2 701.3,914.7 682.8,907.1 664.4,899.6 645.9,892.0 627.4,884.5 609.0,876.9 590.5,869.4 572.0,861.8 553.6,854.3 535.1,846.8 516.6,839.2 498.2,831.7 479.7,824.1 461.2,816.6" fill="#00ff80"/>
<polygon points="461.2,816.6 479.7,824.1 498.2,831.7 516.6,839.2 535.1,846.8 553.6,854.3 572.0,861.8 590.5,869.4 609.0,876.9 627.4,884.5 645.9,892.0 664.4,899.6 682.8,907.1 701.3,914.7 719.8,922.2 738.2,929.8 756.7,937.3 775.9,942.4 795.4,946.6 815.2,948.1 835.1,948.0 855.1,947.8 875.0,947.7 893.9,952.7 912.2,960.5 930.6,968.4 948.9,976.3 967.2,984.2 985.7,991.6 1004.6,998.1 1023.5,1004.5 1042.3,1011.0 1061.2,1017.4 1080.1,1023.9 1099.0,1030.3 1117.8,1036.8 1136.7,1043.2 1155.6,1049.7 1174.5,1056.2 1193.3,1062.6 1212.7,1067.1 1232.4,1070.2 1252.1,1073.2 1271.8,1076.3 1291.5,1079.4 1309.1,1088.1 1325.9,1098.8 1342.7,1109.5 1359.5,1120.3 1376.4,1131.0 1393.2,1141.7 1410.0,1152.5 1426.8,1163.2 1443.6,1173.9 1460.4,1184.7 1477.2,1195.4 1494.0,1206.2 1510.8,1216.9 1527.7,1227.6 1544.5,1238.4 1561.3,1249.1 1578.1,1259.8 1594.9,1270.6 1611.7,1281.3 1739.8,1089.3 1721.9,1084.3 1703.9,1079.4 1686.0,1074.4 1668.0,1069.5 1650.0,1064.6 1632.1,1059.6 1614.1,1054.7 1596.2,1049.7 1578.2,1044.8 1560.3,1039.9 1542.3,1034.9 1524.4,1030.0 1506.4,1025.0 1488.5,1020.1 1470.5,1015.2 1452.5,1010.2 1434.6,1005.3 1416.6,1000.3 1399.7,992.8 1383.5,983.7 1367.3,974.5 1351.1,965.4 1334.9,956.2 1318.7,947.1 1302.4,937.9 1286.2,928.8 1269.6,920.5 1252.2,913.7 1234.9,906.9 1217.6,900.1 1200.2,893.4 1182.9,886.6 1165.5,879.8 1148.2,873.0 1130.8,866.2 1113.5,859.5 1096.2,852.7 1078.8,845.9 1061.5,839.1 1043.8,833.3 1025.9,828.0 1008.1,822.8 990.2,817.5 972.3,812.3 954.6,806.8 938.4,797.6 922.2,788.5 905.9,779.3 889.7,770.1 873.5,761.0 857.3,751.8 841.1,742.6 824.9,733.5 808.7,724.3 792.5,715.2 776.3,706.0 760.0,696.8 743.8,687.7 727.6,678.5 711.4,669.3 695.2,660.2 679.0,651.0 662.8,641.8" fill="#00fc68"/>
<polygon points="481.4,799.1 499.6,806.8 517.9,814.5 536.1,822.2 554.4,829.9 572.6,837.6 590.8,845.3 609.1,853.1 627.3,860.8 645.6,868.5 663.8,876.2 682.0,883.9 700.3,891.6 718.5,899.3 736.8,907.0 755.0,914.7 773.2,922.4 792.1,927.9 811.3,932.6 830.9,934.5 850.6,934.9 870.4,935.3 890.1,935.7 908.9,940.7 927.2,948.4 945.4,956.2 963.6,964.0 981.8,971.7 1000.2,979.1 1019.0,985.6 1037.7,992.0 1056.4,998.5 1075.1,1005.0 1093.8,1011.5 1112.6,1018.0 1131.3,1024.5 1150.0,1031.0 1168.6,1037.6 1187.3,1044.3 1205.9,1051.1 1224.9,1056.0 1244.3,1059.7 1263.6,1063.4 1283.0,1067.0 1302.3,1070.7 1319.9,1079.3 1336.8,1089.4 1353.7,1099.6 1370.6,1109.8 1387.6,1119.9 1404.5,1130.1 1421.4,1140.2 1438.3,1150.4 1455.3,1160.5 1472.2,1170.7 1489.1,1180.9 1506.0,1191.0 1523.0,1201.2 1539.9,1211.3 1556.8,1221.5 1573.7,1231.6 1590.7,1241.8 1607.6,1251.9 1624.5,1262.1 1739.8,1089.3 1721.9,1084.3 1703.9,1079.4 1686.0,1074.4 1668.0,1069.5 1650.0,1064.6 1632.1,1059.6 1614.1,1054.7 1596.2,1049.7 1578.2,1044.8 1560.3,1039.9 1542.3,1034.9 1524.4,1030.0 1506.4,1025.0 1488.5,1020.1 1470.5,1015.2 1452.5,1010.2 1434.6,1005.3 1416.6,1000.3 1399.7,992.8 1383.5,983.7 1367.3,974.5 1351.1,965.4 1334.9,956.2 1318.7,947.1 1302.4,937.9 1286.2,928.8 1269.6,920.5 1252.2,913.7 1234.9,906.9 1217.6,900.1 1200.2,893.4 1182.9,886.6 1165.5,879.8 1148.2,873.0 1130.8,866.2 1113.5,859.5 1096.2,852.7 1078.8,845.9 1061.5,839.1 1043.8,833.3 1025.9,828.0 1008.1,822.8 990.2,817.5 972.3,812.3 954.6,806.8 938.4,797.6 922.2,788.5 905.9,779.3 889.7,770.1 873.5,761.0 857.3,751.8 841.1,742.6 824.9,733.5 808.7,724.3 792.5,715.2 776.3,706.0 760.0,696.8 743.8,687.7 727.6,678.5 711.4,669.3 695.2,660.2 679.0,651.0 662.8,641.8" fill="#00ff00"/>
<polygon points="501.6,781.6 519.6,789.5 537.6,797.4 555.6,805.2 573.6,813.1 591.6,821.0 609.6,828.8 627.7,836.7 645.7,844.6 663.7,852.5 681.7,860.3 699.7,868.2 717.7,876.1 735.7,883.9 753.7,891.8 771.8,899.7 789.8,907.5 808.4,913.5 827.2,918.6 846.6,920.9 866.1,921.9 885.7,922.8 905.2,923.7 923.9,928.8 942.1,936.3 960.2,943.9 978.3,951.6 996.5,959.3 1014.7,966.5 1033.3,973.0 1051.9,979.6 1070.4,986.1 1089.0,992.6 1107.6,999.1 1126.1,1005.7 1144.7,1012.2 1163.3,1018.7 1181.7,1025.5 1200.1,1032.5 1218.4,1039.5 1237.1,1044.9 1256.1,1049.2 1275.1,1053.5 1294.2,1057.8 1313.2,1062.1 1330.6,1070.5 1347.7,1080.1 1364.7,1089.7 1381.7,1099.2 1398.8,1108.8 1415.8,1118.4 1432.9,1128.0 1449.9,1137.6 1466.9,1147.1 1484.0,1156.7 1501.0,1166.3 1518.1,1175.9 1535.1,1185.4 1552.1,1195.0 1569.2,1204.6 1586.2,1214.2 1603.3,1223.7 1620.3,1233.3 1637.3,1242.9 1739.8,1089.3 1721.9,1084.3 1703.9,1079.4 1686.0,1074.4 1668.0,1069.5 1650.0,1064.6 1632.1,1059.6 1614.1,1054.7 1596.2,1049.7 1578.2,1044.8 1560.3,1039.9 1542.3,1034.9 1524.4,1030.0 1506.4,1025.0 1488.5,1020.1 1470.5,1015.2 1452.5,1010.2 1434.6,1005.3 1416.6,1000.3 1399.7,992.8 1383.5,983.7 1367.3,974.5 1351.1,965.4 1334.9,956.2 1318.7,947.1 1302.4,937.9 1286.2,928.8 1269.6,920.5 1252.2,913.7 1234.9,906.9 1217.6,900.1 1200.2,893.4 1182.9,886.6 1165.5,879.8 1148.2,873.0 1130.8,866.2 1113.5,859.5 1096.2,852.7 1078.8,845.9 1061.5,839.1 1043.8,833.3 1025.9,828.0 1008.1,822.8 990.2,817.5 972.3,812.3 954.6,806.8 938.4,797.6 922.2,788.5 905.9,779.3 889.7,770.1 873.5,761.0 857.3,751.8 841.1,742.6 824.9,733.5 808.7,724.3 792.5,715.2 776.3,706.0 760.0,696.8 743.8,687.7 727.6,678.5 711.4,669.3 695.2,660.2 679.0,651.0 662.8,641.8" fill="#00ff00"/>
<polygon points="521.7,764.2 539.5,772.2 557.3,780.2 575.1,788.2 592.9,796.3 610.7,804.3 628.4,812.3 646.2,820.4 664.0,828.4 681.8,836.4 699.6,844.5 717.4,852.5 735.2,860.5 753.0,868.6 770.7,876.6 788.5,884.6 806.3,892.7 824.6,899.0 843.2,904.7 862.3,907.4 881.7,908.8 901.0,910.3 920.3,911.8 938.9,916.8 957.0,924.1 975.0,931.7 993.1,939.2 1011.1,946.8 1029.3,954.0 1047.7,960.5 1066.1,967.1 1084.5,973.7 1102.9,980.2 1121.3,986.8 1139.7,993.3 1158.2,999.9 1176.6,1006.4 1194.8,1013.4 1212.9,1020.7 1230.9,1027.9 1249.3,1033.8 1268.0,1038.7 1286.7,1043.6 1305.3,1048.5 1324.0,1053.4 1341.4,1061.7 1358.5,1070.7 1375.7,1079.7 1392.8,1088.7 1410.0,1097.7 1427.1,1106.7 1444.3,1115.7 1461.4,1124.7 1478.6,1133.7 1495.8,1142.7 1512.9,1151.7 1530.1,1160.7 1547.2,1169.7 1564.4,1178.7 1581.5,1187.7 1598.7,1196.7 1615.8,1205.7 1633.0,1214.7 1650.1,1223.7 1739.8,1089.3 1721.9,1084.3 1703.9,1079.4 1686.0,1074.4 1668.0,1069.5 1650.0,1064.6 1632.1,1059.6 1614.1,1054.7 1596.2,1049.7 1578.2,1044.8 1560.3,1039.9 1542.3,1034.9 1524.4,1030.0 1506.4,1025.0 1488.5,1020.1 1470.5,1015.2 1452.5,1010.2 1434.6,1005.3 1416.6,1000.3 1399.7,992.8 1383.5,983.7 1367.3,974.5 1351.1,965.4 1334.9,956.2 1318.7,947.1 1302.4,937.9 1286.2,928.8 1269.6,920.5 1252.2,913.7 1234.9,906.9 1217.6,900.1 1200.2,893.4 1182.9,886.6 1165.5,879.8 1148.2,873.0 1130.8,866.2 1113.5,859.5 1096.2,852.7 1078.8,845.9 1061.5,839.1 1043.8,833.3 1025.9,828.0 1008.1,822.8 990.2,817.5 972.3,812.3 954.6,806.8 938.4,797.6 922.2,788.5 905.9,779.3 889.7,770.1 873.5,761.0 857.3,751.8 841.1,742.6 824.9,733.5 808.7,724.3 792.5,715.2 776.3,706.0 760.0,696.8 743.8,687.7 727.6,678.5 711.4,669.3 695.2,660.2 679.0,651.0 662.8,641.8" fill="#00ff00"/>
<polygon points="541.9,746.7 559.4,754.9 577.0,763.1 594.5,771.3 612.1,779.5 629.7,787.6 647.2,795.8 664.8,804.0 682.4,812.2 699.9,820.4 717.5,828.6 735.1,836.8 752.6,845.0 770.2,853.2 787.7,861.4 805.3,869.6 822.9,877.8 840.9,884.5 859.1,890.7 878.0,893.8 897.2,895.8 916.3,897.8 935.4,899.8 953.9,904.9 971.9,912.0 989.9,919.4 1007.8,926.9 1025.7,934.3 1043.8,941.5 1062.0,948.0 1080.3,954.6 1098.6,961.2 1116.8,967.8 1135.1,974.4 1153.3,981.0 1171.6,987.6 1189.9,994.1 1207.8,1001.3 1225.6,1008.9 1243.5,1016.4 1261.6,1022.7 1279.9,1028.2 1298.2,1033.8 1316.5,1039.3 1334.8,1044.8 1352.1,1053.0 1369.4,1061.4 1386.7,1069.8 1403.9,1078.2 1421.2,1086.6 1438.5,1095.1 1455.7,1103.5 1473.0,1111.9 1490.3,1120.3 1507.5,1128.7 1524.8,1137.2 1542.1,1145.6 1559.3,1154.0 1576.6,1162.4 1593.9,1170.8 1611.2,1179.2 1628.4,1187.7 1645.7,1196.1 1663.0,1204.5 1739.8,1089.3 1721.9,1084.3 1703.9,1079.4 1686.0,1074.4 1668.0,1069.5 1650.0,1064.6 1632.1,1059.6 1614.1,1054.7 1596.2,1049.7 1578.2,1044.8 1560.3,1039.9 1542.3,1034.9 1524.4,1030.0 1506.4,1025.0 1488.5,1020.1 1470.5,1015.2 1452.5,1010.2 1434.6,1005.3 1416.6,1000.3 1399.7,992.8 1383.5,983.7 1367.3,974.5 1351.1,965.4 1334.9,956.2 1318.7,947.1 1302.4,937.9 1286.2,928.8 1269.6,920.5 1252.2,913.7 1234.9,906.9 1217.6,900.1 1200.2,893.4 1182.9,886.6 1165.5,879.8 1148.2,873.0 1130.8,866.2 1113.5,859.5 1096.2,852.7 1078.8,845.9 1061.5,839.1 1043.8,833.3 1025.9,828.0 1008.1,822.8 990.2,817.5 972.3,812.3 954.6,806.8 938.4,797.6 922.2,788.5 905.9,779.3 889.7,770.1 873.5,761.0 857.3,751.8 841.1,742.6 824.9,733.5 808.7,724.3 792.5,715.2 776.3,706.0 760.0,696.8 743.8,687.7 727.6,678.5 711.4,669.3 695.2,660.2 679.0,651.0 662.8,641.8" fill="#00ff00"/>
<polygon points="562.0,729.2 579.4,737.6 596.7,745.9 614.0,754.3 631.4,762.6 648.7,771.0 666.0,779.3 683.4,787.7 700.7,796.0 718.1,804.4 735.4,812.8 752.7,821.1 770.1,829.5 787.4,837.8 804.7,846.2 822.1,854.5 839.4,862.9 857.1,870.0 875.0,876.7 893.8,880.2 912.7,882.7 931.6,885.3 950.5,887.9 968.9,893.0 986.9,899.8 1004.7,907.2 1022.5,914.5 1040.4,921.8 1058.3,928.9 1076.4,935.5 1094.5,942.2 1112.6,948.8 1130.7,955.4 1148.8,962.0 1166.9,968.6 1185.0,975.2 1203.1,981.9 1220.9,989.2 1238.4,997.0 1256.0,1004.8 1273.8,1011.7 1291.7,1017.8 1309.7,1023.9 1327.7,1030.0 1345.6,1036.1 1362.9,1044.2 1380.3,1052.0 1397.6,1059.9 1415.0,1067.7 1432.4,1075.6 1449.8,1083.4 1467.2,1091.2 1484.6,1099.1 1501.9,1106.9 1519.3,1114.7 1536.7,1122.6 1554.1,1130.4 1571.5,1138.3 1588.9,1146.1 1606.2,1153.9 1623.6,1161.8 1641.0,1169.6 1658.4,1177.5 1675.8,1185.3 1739.8,1089.3 1721.9,1084.3 1703.9,1079.4 1686.0,1074.4 1668.0,1069.5 1650.0,1064.6 1632.1,1059.6 1614.1,1054.7 1596.2,1049.7 1578.2,1044.8 1560.3,1039.9 1542.3,1034.9 1524.4,1030.0 1506.4,1025.0 1488.5,1020.1 1470.5,1015.2 1452.5,1010.2 1434.6,1005.3 1416.6,1000.3 1399.7,992.8 1383.5,983.7 1367.3,974.5 1351.1,965.4 1334.9,956.2 1318.7,947.1 1302.4,937.9 1286.2,928.8 1269.6,920.5 1252.2,913.7 1234.9,906.9 1217.6,900.1 1200.2,893.4 1182.9,886.6 1165.5,879.8 1148.2,873.0 1130.8,866.2 1113.5,859.5 1096.2,852.7 1078.8,845.9 1061.5,839.1 1043.8,833.3 1025.9,828.0 1008.1,822.8 990.2,817.5 972.3,812.3 954.6,806.8 938.4,797.6 922.2,788.5 905.9,779.3 889.7,770.1 873.5,761.0 857.3,751.8 841.1,742.6 824.9,733.5 808.7,724.3 792.5,715.2 776.3,706.0 760.0,696.8 743.8,687.7 727.6,678.5 711.4,669.3 695.2,660.2 679.0,651.0 662.8,641.8" fill="#00ff00"/>
<polygon points="582.2,711.7 599.3,720.3 616.4,728.8 633.5,737.3 650.6,745.8 667.7,754.3 684.8,762.8 702.0,771.4 719.1,779.9 736.2,788.4 753.3,796.9 770.4,805.4 787.5,813.9 804.6,822.4 821.7,831.0 838.9,839.5 856.0,848.0 873.4,855.5 890.9,862.7 909.5,866.6 928.2,869.7 946.9,872.8 965.6,875.9 983.8,881.0 1001.8,887.7 1019.5,894.9 1037.3,902.1 1055.0,909.4 1072.8,916.4 1090.8,923.0 1108.7,929.7 1126.7,936.3 1144.6,943.0 1162.6,949.6 1180.5,956.3 1198.5,962.9 1216.4,969.6 1234.0,977.1 1251.2,985.2 1268.5,993.3 1286.0,1000.6 1303.6,1007.3 1321.2,1014.0 1338.8,1020.7 1356.5,1027.5 1373.6,1035.4 1391.1,1042.7 1408.6,1049.9 1426.1,1057.2 1443.6,1064.5 1461.1,1071.7 1478.6,1079.0 1496.1,1086.2 1513.6,1093.5 1531.1,1100.8 1548.6,1108.0 1566.1,1115.3 1583.6,1122.5 1601.1,1129.8 1618.6,1137.1 1636.1,1144.3 1653.6,1151.6 1671.1,1158.8 1688.6,1166.1 1739.8,1089.3 1721.9,1084.3 1703.9,1079.4 1686.0,1074.4 1668.0,1069.5 1650.0,1064.6 1632.1,1059.6 1614.1,1054.7 1596.2,1049.7 1578.2,1044.8 1560.3,1039.9 1542.3,1034.9 1524.4,1030.0 1506.4,1025.0 1488.5,1020.1 1470.5,1015.2 1452.5,1010.2 1434.6,1005.3 1416.6,1000.3 1399.7,992.8 1383.5,983.7 1367.3,974.5 1351.1,965.4 1334.9,956.2 1318.7,947.1 1302.4,937.9 1286.2,928.8 1269.6,920.5 1252.2,913.7 1234.9,906.9 1217.6,900.1 1200.2,893.4 1182.9,886.6 1165.5,879.8 1148.2,873.0 1130.8,866.2 1113.5,859.5 1096.2,852.7 1078.8,845.9 1061.5,839.1 1043.8,833.3 1025.9,828.0 1008.1,822.8 990.2,817.5 972.3,812.3 954.6,806.8 938.4,797.6 922.2,788.5 905.9,779.3 889.7,770.1 873.5,761.0 857.3,751.8 841.1,742.6 824.9,733.5 808.7,724.3 792.5,715.2 776.3,706.0 760.0,696.8 743.8,687.7 727.6,678.5 711.4,669.3 695.2,660.2 679.0,651.0 662.8,641.8" fill="#00ff00"/>
<polygon points="602.3,694.3 619.2,702.9 636.1,711.6 653.0,720.3 669.9,729.0 686.8,737.7 703.6,746.3 720.5,755.0 737.4,763.7 754.3,772.4 771.2,781.0 788.1,789.7 805.0,798.4 821.9,807.1 838.7,815.8 855.6,824.4 872.5,833.1 889.6,841.1 906.8,848.7 925.2,853.0 943.7,856.7 962.2,860.3 980.7,863.9 998.8,869.1 1016.7,875.5 1034.3,882.7 1052.0,889.8 1069.6,896.9 1087.3,903.8 1105.1,910.5 1122.9,917.2 1140.7,923.9 1158.5,930.6 1176.3,937.3 1194.1,944.0 1211.9,950.6 1229.7,957.3 1247.0,965.0 1264.0,973.4 1281.1,981.7 1298.2,989.5 1315.5,996.8 1332.7,1004.1 1350.0,1011.5 1367.3,1018.8 1384.4,1026.7 1402.0,1033.3 1419.6,1040.0 1437.2,1046.7 1454.8,1053.4 1472.4,1060.1 1490.0,1066.7 1507.7,1073.4 1525.3,1080.1 1542.9,1086.8 1560.5,1093.4 1578.1,1100.1 1595.7,1106.8 1613.3,1113.5 1630.9,1120.2 1648.6,1126.8 1666.2,1133.5 1683.8,1140.2 1701.4,1146.9 1739.8,1089.3 1721.9,1084.3 1703.9,1079.4 1686.0,1074.4 1668.0,1069.5 1650.0,1064.6 1632.1,1059.6 1614.1,1054.7 1596.2,1049.7 1578.2,1044.8 1560.3,1039.9 1542.3,1034.9 1524.4,1030.0 1506.4,1025.0 1488.5,1020.1 1470.5,1015.2 1452.5,1010.2 1434.6,1005.3 1416.6,1000.3 1399.7,992.8 1383.5,983.7 1367.3,974.5 1351.1,965.4 1334.9,956.2 1318.7,947.1 1302.4,937.9 1286.2,928.8 1269.6,920.5 1252.2,913.7 1234.9,906.9 1217.6,900.1 1200.2,893.4 1182.9,886.6 1165.5,879.8 1148.2,873.0 1130.8,866.2 1113.5,859.5 1096.2,852.7 1078.8,845.9 1061.5,839.1 1043.8,833.3 1025.9,828.0 1008.1,822.8 990.2,817.5 972.3,812.3 954.6,806.8 938.4,797.6 922.2,788.5 905.9,779.3 889.7,770.1 873.5,761.0 857.3,751.8 841.1,742.6 824.9,733.5 808.7,724.3 792.5,715.2 776.3,706.0 760.0,696.8 743.8,687.7 727.6,678.5 711.4,669.3 695.2,660.2 679.0,651.0 662.8,641.8" fill="#00ff00"/>
<polygon points="622.5,676.8 639.1,685.6 655.8,694.5 672.5,703.3 689.1,712.2 705.8,721.0 722.4,729.8 739.1,738.7 755.8,747.5 772.4,756.3 789.1,765.2 805.8,774.0 822.4,782.9 839.1,791.7 855.7,800.5 872.4,809.4 889.1,818.2 905.9,826.6 922.7,834.7 940.9,839.4 959.2,843.6 977.5,847.8 995.8,852.0 1013.8,857.2 1031.6,863.4 1049.2,870.4 1066.7,877.4 1084.2,884.4 1101.8,891.3 1119.5,898.0 1137.1,904.7 1154.8,911.5 1172.4,918.2 1190.1,924.9 1207.7,931.6 1225.4,938.3 1243.0,945.0 1260.1,953.0 1276.8,961.6 1293.6,970.2 1310.4,978.4 1327.4,986.3 1344.3,994.3 1361.2,1002.2 1378.1,1010.1 1395.1,1017.9 1412.9,1024.0 1430.6,1030.1 1448.3,1036.2 1466.0,1042.3 1483.8,1048.4 1501.5,1054.5 1519.2,1060.6 1536.9,1066.7 1554.7,1072.8 1572.4,1078.9 1590.1,1085.0 1607.8,1091.1 1625.6,1097.2 1643.3,1103.3 1661.0,1109.4 1678.7,1115.5 1696.5,1121.6 1714.2,1127.7 1739.8,1089.3 1721.9,1084.3 1703.9,1079.4 1686.0,1074.4 1668.0,1069.5 1650.0,1064.6 1632.1,1059.6 1614.1,1054.7 1596.2,1049.7 1578.2,1044.8 1560.3,1039.9 1542.3,1034.9 1524.4,1030.0 1506.4,1025.0 1488.5,1020.1 1470.5,1015.2 1452.5,1010.2 1434.6,1005.3 1416.6,1000.3 1399.7,992.8 1383.5,983.7 1367.3,974.5 1351.1,965.4 1334.9,956.2 1318.7,947.1 1302.4,937.9 1286.2,928.8 1269.6,920.5 1252.2,913.7 1234.9,906.9 1217.6,900.1 1200.2,893.4 1182.9,886.6 1165.5,879.8 1148.2,873.0 1130.8,866.2 1113.5,859.5 1096.2,852.7 1078.8,845.9 1061.5,839.1 1043.8,833.3 1025.9,828.0 1008.1,822.8 990.2,817.5 972.3,812.3 954.6,806.8 938.4,797.6 922.2,788.5 905.9,779.3 889.7,770.1 873.5,761.0 857.3,751.8 841.1,742.6 824.9,733.5 808.7,724.3 792.5,715.2 776.3,706.0 760.0,696.8 743.8,687.7 727.6,678.5 711.4,669.3 695.2,660.2 679.0,651.0 662.8,641.8" fill="#00ff00"/>
<polygon points="642.6,659.3 659.1,668.3 675.5,677.3 691.9,686.3 708.4,695.3 724.8,704.3 741.2,713.3 757.7,722.3 774.1,731.3 790.6,740.3 807.0,749.3 823.4,758.3 839.9,767.3 856.3,776.3 872.7,785.3 889.2,794.3 905.6,803.3 922.1,812.1 938.7,820.8 956.6,825.8 974.7,830.6 992.8,835.3 1010.8,840.0 1028.8,845.2 1046.6,851.3 1064.0,858.2 1081.4,865.0 1098.9,871.9 1116.3,878.8 1133.8,885.5 1151.3,892.3 1168.8,899.0 1186.3,905.8 1203.8,912.5 1221.3,919.3 1238.8,926.0 1256.3,932.8 1273.2,940.9 1289.6,949.7 1306.1,958.6 1322.7,967.3 1339.2,975.9 1355.8,984.4 1372.4,992.9 1388.9,1001.5 1405.9,1009.1 1423.7,1014.6 1441.6,1020.2 1459.4,1025.7 1477.2,1031.2 1495.1,1036.7 1512.9,1042.2 1530.8,1047.8 1548.6,1053.3 1566.4,1058.8 1584.3,1064.3 1602.1,1069.8 1620.0,1075.4 1637.8,1080.9 1655.6,1086.4 1673.5,1091.9 1691.3,1097.4 1709.2,1103.0 1727.0,1108.5 1739.8,1089.3 1721.9,1084.3 1703.9,1079.4 1686.0,1074.4 1668.0,1069.5 1650.0,1064.6 1632.1,1059.6 1614.1,1054.7 1596.2,1049.7 1578.2,1044.8 1560.3,1039.9 1542.3,1034.9 1524.4,1030.0 1506.4,1025.0 1488.5,1020.1 1470.5,1015.2 1452.5,1010.2 1434.6,1005.3 1416.6,1000.3 1399.7,992.8 1383.5,983.7 1367.3,974.5 1351.1,965.4 1334.9,956.2 1318.7,947.1 1302.4,937.9 1286.2,928.8 1269.6,920.5 1252.2,913.7 1234.9,906.9 1217.6,900.1 1200.2,893.4 1182.9,886.6 1165.5,879.8 1148.2,873.0 1130.8,866.2 1113.5,859.5 1096.2,852.7 1078.8,845.9 1061.5,839.1 1043.8,833.3 1025.9,828.0 1008.1,822.8 990.2,817.5 972.3,812.3 954.6,806.8 938.4,797.6 922.2,788.5 905.9,779.3 889.7,770.1 873.5,761.0 857.3,751.8 841.1,742.6 824.9,733.5 808.7,724.3 792.5,715.2 776.3,706.0 760.0,696.8 743.8,687.7 727.6,678.5 711.4,669.3 695.2,660.2 679.0,651.0 662.8,641.8" fill="#00ff00"/>
<polygon points="662.8,641.8 679.0,651.0 695.2,660.2 711.4,669.3 727.6,678.5 743.8,687.7 760.0,696.8 776.3,706.0 792.5,715.2 808.7,724.3 824.9,733.5 841.1,742.6 857.3,751.8 873.5,761.0 889.7,770.1 905.9,779.3 922.2,788.5 938.4,797.6 954.6,806.8 972.3,812.3 990.2,817.5 1008.1,822.8 1025.9,828.0 1043.8,833.3 1061.5,839.1 1078.8,845.9 1096.2,852.7 1113.5,859.5 1130.8,866.2 1148.2,873.0 1165.5,879.8 1182.9,886.6 1200.2,893.4 1217.6,900.1 1234.9,906.9 1252.2,913.7 1269.6,920.5 1286.2,928.8 1302.4,937.9 1318.7,947.1 1334.9,956.2 1351.1,965.4 1367.3,974.5 1383.5,983.7 1399.7,992.8 1416.6,1000.3 1434.6,1005.3 1452.5,1010.2 1470.5,1015.2 1488.5,1020.1 1506.4,1025.0 1524.4,1030.0 1542.3,1034.9 1560.3,1039.9 1578.2,1044.8 1596.2,1049.7 1614.1,1054.7 1632.1,1059.6 1650.0,1064.6 1668.0,1069.5 1686.0,1074.4 1703.9,1079.4 1721.9,1084.3 1739.8,1089.3 1824.6,961.7 1806.3,957.0 1788.0,952.3 1769.8,947.6 1751.5,942.8 1733.3,938.1 1715.0,933.4 1696.7,928.6 1678.5,923.9 1660.2,919.2 1641.9,914.5 1623.7,909.7 1605.4,905.0 1587.1,900.3 1568.9,895.5 1550.6,890.8 1532.3,886.1 1514.1,881.4 1495.8,876.6 1477.5,871.9 1459.3,867.2 1441.0,862.4 1424.2,854.1 1407.8,844.7 1391.4,835.4 1375.1,826.0 1358.7,816.7 1342.3,807.3 1325.9,797.9 1308.9,789.8 1291.3,783.2 1273.6,776.6 1256.0,770.0 1238.3,763.3 1220.6,756.7 1203.0,750.1 1185.3,743.4 1167.9,736.1 1150.6,728.5 1133.4,720.9 1116.1,713.3 1098.9,705.7 1081.6,698.0 1064.3,690.4 1046.0,686.8 1027.4,683.7 1009.2,678.7 991.1,673.6 972.9,668.6 954.7,663.5 936.5,658.4 919.9,649.6 903.4,640.4 886.9,631.3 870.4,622.1 853.9,613.0 837.4,603.8 820.9,594.6 804.5,585.5 788.0,576.3 771.5,567.1 755.0,558.0 738.5,548.8 722.0,539.7" fill="#00ff00"/>
<polygon points="668.7,631.6 684.9,640.8 701.2,650.0 717.4,659.1 733.7,668.3 749.9,677.4 766.1,686.6 782.4,695.8 798.6,704.9 814.9,714.1 831.1,723.3 847.3,732.4 863.6,741.6 879.8,750.7 896.2,759.5 912.6,768.2 929.0,777.0 945.5,785.7 961.9,794.5 979.7,799.7 997.6,804.8 1015.4,810.3 1033.2,815.8 1051.0,821.3 1068.7,827.3 1086.0,834.2 1103.3,841.0 1120.7,847.9 1138.1,854.6 1155.4,861.4 1172.8,868.2 1190.2,874.9 1207.6,881.7 1224.9,888.5 1242.3,895.2 1259.6,902.1 1276.9,909.2 1293.5,917.6 1309.7,926.7 1325.9,935.9 1342.2,945.1 1358.4,954.3 1374.7,963.3 1391.1,972.0 1407.5,980.7 1424.6,988.0 1442.5,992.9 1460.5,997.8 1478.5,1002.7 1496.5,1007.6 1514.5,1012.6 1532.5,1017.5 1550.5,1022.4 1568.4,1027.3 1586.4,1032.2 1604.4,1037.2 1622.4,1042.1 1640.4,1047.0 1658.4,1051.9 1676.4,1056.8 1694.3,1061.8 1712.3,1066.7 1730.3,1071.6 1748.3,1076.5 1824.6,961.7 1806.3,957.0 1788.0,952.3 1769.8,947.6 1751.5,942.8 1733.3,938.1 1715.0,933.4 1696.7,928.6 1678.5,923.9 1660.2,919.2 1641.9,914.5 1623.7,909.7 1605.4,905.0 1587.1,900.3 1568.9,895.5 1550.6,890.8 1532.3,886.1 1514.1,881.4 1495.8,876.6 1477.5,871.9 1459.3,867.2 1441.0,862.4 1424.2,854.1 1407.8,844.7 1391.4,835.4 1375.1,826.0 1358.7,816.7 1342.3,807.3 1325.9,797.9 1308.9,789.8 1291.3,783.2 1273.6,776.6 1256.0,770.0 1238.3,763.3 1220.6,756.7 1203.0,750.1 1185.3,743.4 1167.9,736.1 1150.6,728.5 1133.4,720.9 1116.1,713.3 1098.9,705.7 1081.6,698.0 1064.3,690.4 1046.0,686.8 1027.4,683.7 1009.2,678.7 991.1,673.6 972.9,668.6 954.7,663.5 936.5,658.4 919.9,649.6 903.4,640.4 886.9,631.3 870.4,622.1 853.9,613.0 837.4,603.8 820.9,594.6 804.5,585.5 788.0,576.3 771.5,567.1 755.0,558.0 738.5,548.8 722.0,539.7" fill="#0eff00"/>
<polygon points="674.6,621.4 690.9,630.6 707.2,639.7 723.4,648.9 739.7,658.1 756.0,667.2 772.2,676.4 788.5,685.5 804.8,694.7 821.0,703.9 837.3,713.0 853.6,722.2 869.8,731.4 886.1,740.5 902.7,748.8 919.3,757.1 935.9,765.5 952.5,773.8 969.1,782.2 987.1,787.2 1005.0,792.1 1022.8,797.8 1040.5,803.6 1058.3,809.3 1075.9,815.5 1093.2,822.4 1110.5,829.4 1127.9,836.3 1145.3,843.0 1162.7,849.8 1180.1,856.5 1197.5,863.3 1214.9,870.0 1232.3,876.8 1249.7,883.5 1267.0,890.6 1284.1,897.9 1300.7,906.3 1317.0,915.5 1333.2,924.7 1349.5,933.9 1365.7,943.1 1382.0,952.1 1398.7,960.4 1415.3,968.6 1432.5,975.6 1450.5,980.5 1468.5,985.4 1486.5,990.3 1504.5,995.2 1522.6,1000.1 1540.6,1005.0 1558.6,1009.9 1576.6,1014.8 1594.6,1019.7 1612.6,1024.6 1630.7,1029.5 1648.7,1034.4 1666.7,1039.3 1684.7,1044.2 1702.7,1049.1 1720.7,1054.0 1738.8,1058.9 1756.8,1063.8 1824.6,961.7 1806.3,957.0 1788.0,952.3 1769.8,947.6 1751.5,942.8 1733.3,938.1 1715.0,933.4 1696.7,928.6 1678.5,923.9 1660.2,919.2 1641.9,914.5 1623.7,909.7 1605.4,905.0 1587.1,900.3 1568.9,895.5 1550.6,890.8 1532.3,886.1 1514.1,881.4 1495.8,876.6 1477.5,871.9 1459.3,867.2 1441.0,862.4 1424.2,854.1 1407.8,844.7 1391.4,835.4 1375.1,826.0 1358.7,816.7 1342.3,807.3 1325.9,797.9 1308.9,789.8 1291.3,783.2 1273.6,776.6 1256.0,770.0 1238.3,763.3 1220.6,756.7 1203.0,750.1 1185.3,743.4 1167.9,736.1 1150.6,728.5 1133.4,720.9 1116.1,713.3 1098.9,705.7 1081.6,698.0 1064.3,690.4 1046.0,686.8 1027.4,683.7 1009.2,678.7 991.1,673.6 972.9,668.6 954.7,663.5 936.5,658.4 919.9,649.6 903.4,640.4 886.9,631.3 870.4,622.1 853.9,613.0 837.4,603.8 820.9,594.6 804.5,585.5 788.0,576.3 771.5,567.1 755.0,558.0 738.5,548.8 722.0,539.7" fill="#2bff00"/>
<polygon points="680.5,611.2 696.8,620.4 713.1,629.5 729.4,638.7 745.7,647.8 762.0,657.0 778.3,666.2 794.6,675.3 810.9,684.5 827.2,693.7 843.5,702.8 859.8,712.0 876.1,721.1 892.4,730.2 909.2,738.1 926.0,746.1 942.8,754.0 959.6,761.9 976.4,769.9 994.4,774.6 1012.4,779.4 1030.1,785.4 1047.8,791.3 1065.5,797.3 1083.0,803.6 1100.4,810.7 1117.7,817.7 1135.0,824.7 1152.5,831.4 1169.9,838.1 1187.4,844.9 1204.8,851.6 1222.2,858.3 1239.7,865.1 1257.1,871.8 1274.3,879.0 1291.4,886.5 1308.0,895.1 1324.2,904.4 1340.5,913.6 1356.8,922.8 1373.0,932.0 1389.4,940.9 1406.2,948.7 1423.1,956.6 1440.4,963.2 1458.4,968.1 1476.5,973.0 1494.5,977.9 1512.6,982.7 1530.6,987.6 1548.7,992.5 1566.7,997.4 1584.8,1002.2 1602.8,1007.1 1620.9,1012.0 1638.9,1016.9 1657.0,1021.7 1675.0,1026.6 1693.1,1031.5 1711.1,1036.4 1729.1,1041.3 1747.2,1046.1 1765.2,1051.0 1824.6,961.7 1806.3,957.0 1788.0,952.3 1769.8,947.6 1751.5,942.8 1733.3,938.1 1715.0,933.4 1696.7,928.6 1678.5,923.9 1660.2,919.2 1641.9,914.5 1623.7,909.7 1605.4,905.0 1587.1,900.3 1568.9,895.5 1550.6,890.8 1532.3,886.1 1514.1,881.4 1495.8,876.6 1477.5,871.9 1459.3,867.2 1441.0,862.4 1424.2,854.1 1407.8,844.7 1391.4,835.4 1375.1,826.0 1358.7,816.7 1342.3,807.3 1325.9,797.9 1308.9,789.8 1291.3,783.2 1273.6,776.6 1256.0,770.0 1238.3,763.3 1220.6,756.7 1203.0,750.1 1185.3,743.4 1167.9,736.1 1150.6,728.5 1133.4,720.9 1116.1,713.3 1098.9,705.7 1081.6,698.0 1064.3,690.4 1046.0,686.8 1027.4,683.7 1009.2,678.7 991.1,673.6 972.9,668.6 954.7,663.5 936.5,658.4 919.9,649.6 903.4,640.4 886.9,631.3 870.4,622.1 853.9,613.0 837.4,603.8 820.9,594.6 804.5,585.5 788.0,576.3 771.5,567.1 755.0,558.0 738.5,548.8 722.0,539.7" fill="#47ff00"/>
<polygon points="686.5,601.0 702.8,610.1 719.1,619.3 735.4,628.5 751.8,637.6 768.1,646.8 784.4,655.9 800.7,665.1 817.1,674.3 833.4,683.4 849.7,692.6 866.0,701.8 882.3,710.9 898.7,720.0 915.7,727.5 932.7,735.0 949.7,742.5 966.7,750.0 983.7,757.6 1001.8,762.1 1019.9,766.7 1037.5,772.9 1055.1,779.1 1072.7,785.3 1090.2,791.8 1107.6,798.9 1124.9,806.1 1142.2,813.1 1159.7,819.8 1177.2,826.5 1194.6,833.2 1212.1,839.9 1229.6,846.7 1247.0,853.4 1264.5,860.1 1281.7,867.4 1298.7,875.2 1315.2,883.9 1331.5,893.2 1347.8,902.4 1364.1,911.6 1380.3,920.9 1396.8,929.7 1413.8,937.1 1430.9,944.5 1448.3,950.9 1466.4,955.7 1484.5,960.6 1502.5,965.4 1520.6,970.3 1538.7,975.1 1556.8,980.0 1574.9,984.8 1592.9,989.7 1611.0,994.6 1629.1,999.4 1647.2,1004.3 1665.2,1009.1 1683.3,1014.0 1701.4,1018.8 1719.5,1023.7 1737.6,1028.5 1755.6,1033.4 1773.7,1038.3 1824.6,961.7 1806.3,957.0 1788.0,952.3 1769.8,947.6 1751.5,942.8 1733.3,938.1 1715.0,933.4 1696.7,928.6 1678.5,923.9 1660.2,919.2 1641.9,914.5 1623.7,909.7 1605.4,905.0 1587.1,900.3 1568.9,895.5 1550.6,890.8 1532.3,886.1 1514.1,881.4 1495.8,876.6 1477.5,871.9 1459.3,867.2 1441.0,862.4 1424.2,854.1 1407.8,844.7 1391.4,835.4 1375.1,826.0 1358.7,816.7 1342.3,807.3 1325.9,797.9 1308.9,789.8 1291.3,783.2 1273.6,776.6 1256.0,770.0 1238.3,763.3 1220.6,756.7 1203.0,750.1 1185.3,743.4 1167.9,736.1 1150.6,728.5 1133.4,720.9 1116.1,713.3 1098.9,705.7 1081.6,698.0 1064.3,690.4 1046.0,686.8 1027.4,683.7 1009.2,678.7 991.1,673.6 972.9,668.6 954.7,663.5 936.5,658.4 919.9,649.6 903.4,640.4 886.9,631.3 870.4,622.1 853.9,613.0 837.4,603.8 820.9,594.6 804.5,585.5 788.0,576.3 771.5,567.1 755.0,558.0 738.5,548.8 722.0,539.7" fill="#63ff00"/>
<polygon points="692.4,590.8 708.7,599.9 725.1,609.1 741.4,618.2 757.8,627.4 774.1,636.6 790.5,645.7 806.8,654.9 823.2,664.1 839.6,673.2 855.9,682.4 872.3,691.5 888.6,700.7 905.0,709.7 922.2,716.8 939.4,723.9 956.6,731.0 973.8,738.1 991.0,745.3 1009.2,749.6 1027.3,754.0 1044.8,760.4 1062.4,766.9 1080.0,773.3 1097.4,780.0 1114.7,787.2 1132.0,794.4 1149.4,801.5 1166.9,808.2 1184.4,814.9 1201.9,821.6 1219.4,828.3 1236.9,835.0 1254.4,841.7 1271.9,848.4 1289.1,855.8 1305.9,863.9 1322.5,872.7 1338.8,882.0 1355.1,891.2 1371.4,900.5 1387.7,909.7 1404.2,918.5 1421.4,925.4 1438.6,932.4 1456.2,938.5 1474.3,943.3 1492.4,948.1 1510.6,953.0 1528.7,957.8 1546.8,962.7 1564.9,967.5 1583.0,972.3 1601.1,977.2 1619.2,982.0 1637.3,986.8 1655.4,991.7 1673.5,996.5 1691.6,1001.3 1709.8,1006.2 1727.9,1011.0 1746.0,1015.8 1764.1,1020.7 1782.2,1025.5 1824.6,961.7 1806.3,957.0 1788.0,952.3 1769.8,947.6 1751.5,942.8 1733.3,938.1 1715.0,933.4 1696.7,928.6 1678.5,923.9 1660.2,919.2 1641.9,914.5 1623.7,909.7 1605.4,905.0 1587.1,900.3 1568.9,895.5 1550.6,890.8 1532.3,886.1 1514.1,881.4 1495.8,876.6 1477.5,871.9 1459.3,867.2 1441.0,862.4 1424.2,854.1 1407.8,844.7 1391.4,835.4 1375.1,826.0 1358.7,816.7 1342.3,807.3 1325.9,797.9 1308.9,789.8 1291.3,783.2 1273.6,776.6 1256.0,770.0 1238.3,763.3 1220.6,756.7 1203.0,750.1 1185.3,743.4 1167.9,736.1 1150.6,728.5 1133.4,720.9 1116.1,713.3 1098.9,705.7 1081.6,698.0 1064.3,690.4 1046.0,686.8 1027.4,683.7 1009.2,678.7 991.1,673.6 972.9,668.6 954.7,663.5 936.5,658.4 919.9,649.6 903.4,640.4 886.9,631.3 870.4,622.1 853.9,613.0 837.4,603.8 820.9,594.6 804.5,585.5 788.0,576.3 771.5,567.1 755.0,558.0 738.5,548.8 722.0,539.7" fill="#80ff00"/>
<polygon points="698.3,580.5 714.7,589.7 731.1,598.9 747.4,608.0 763.8,617.2 780.2,626.3 796.6,635.5 813.0,644.7 829.3,653.8 845.7,663.0 862.1,672.2 878.5,681.3 894.9,690.5 911.3,699.4 928.7,706.1 946.1,712.8 963.5,719.6 980.9,726.3 998.3,733.0 1016.5,737.0 1034.7,741.3 1052.2,747.9 1069.7,754.6 1087.2,761.3 1104.6,768.2 1121.9,775.5 1139.2,782.7 1156.6,789.9 1174.1,796.5 1191.6,803.2 1209.2,809.9 1226.7,816.6 1244.3,823.3 1261.8,830.0 1279.3,836.7 1296.5,844.2 1313.2,852.6 1329.7,861.5 1346.0,870.8 1362.3,880.1 1378.6,889.3 1395.0,898.6 1411.5,907.3 1429.0,913.8 1446.4,920.3 1464.1,926.1 1482.3,930.9 1500.4,935.7 1518.6,940.5 1536.7,945.4 1554.8,950.2 1573.0,955.0 1591.1,959.8 1609.3,964.6 1627.4,969.4 1645.5,974.2 1663.7,979.1 1681.8,983.9 1700.0,988.7 1718.1,993.5 1736.3,998.3 1754.4,1003.1 1772.5,1007.9 1790.7,1012.8 1824.6,961.7 1806.3,957.0 1788.0,952.3 1769.8,947.6 1751.5,942.8 1733.3,938.1 1715.0,933.4 1696.7,928.6 1678.5,923.9 1660.2,919.2 1641.9,914.5 1623.7,909.7 1605.4,905.0 1587.1,900.3 1568.9,895.5 1550.6,890.8 1532.3,886.1 1514.1,881.4 1495.8,876.6 1477.5,871.9 1459.3,867.2 1441.0,862.4 1424.2,854.1 1407.8,844.7 1391.4,835.4 1375.1,826.0 1358.7,816.7 1342.3,807.3 1325.9,797.9 1308.9,789.8 1291.3,783.2 1273.6,776.6 1256.0,770.0 1238.3,763.3 1220.6,756.7 1203.0,750.1 1185.3,743.4 1167.9,736.1 1150.6,728.5 1133.4,720.9 1116.1,713.3 1098.9,705.7 1081.6,698.0 1064.3,690.4 1046.0,686.8 1027.4,683.7 1009.2,678.7 991.1,673.6 972.9,668.6 954.7,663.5 936.5,658.4 919.9,649.6 903.4,640.4 886.9,631.3 870.4,622.1 853.9,613.0 837.4,603.8 820.9,594.6 804.5,585.5 788.0,576.3 771.5,567.1 755.0,558.0 738.5,548.8 722.0,539.7" fill="#9cff00"/>
<polygon points="704.2,570.3 720.6,579.5 737.0,588.6 753.4,597.8 769.9,607.0 786.3,616.1 802.7,625.3 819.1,634.5 835.5,643.6 851.9,652.8 868.3,661.9 884.7,671.1 901.1,680.3 917.6,689.2 935.2,695.5 952.8,701.8 970.4,708.1 988.0,714.4 1005.6,720.7 1023.9,724.5 1042.1,728.5 1059.5,735.5 1077.0,742.4 1094.4,749.3 1111.8,756.4 1129.1,763.7 1146.4,771.1 1163.8,778.3 1181.3,784.9 1198.9,791.6 1216.5,798.3 1234.0,804.9 1251.6,811.6 1269.2,818.3 1286.7,825.0 1303.8,832.7 1320.5,841.3 1336.9,850.3 1353.3,859.6 1369.6,868.9 1385.9,878.2 1402.3,887.5 1418.9,896.1 1436.5,902.1 1454.2,908.2 1472.1,913.7 1490.2,918.5 1508.4,923.3 1526.6,928.1 1544.7,932.9 1562.9,937.7 1581.1,942.5 1599.3,947.3 1617.4,952.1 1635.6,956.9 1653.8,961.7 1671.9,966.5 1690.1,971.2 1708.3,976.0 1726.5,980.8 1744.6,985.6 1762.8,990.4 1781.0,995.2 1799.1,1000.0 1824.6,961.7 1806.3,957.0 1788.0,952.3 1769.8,947.6 1751.5,942.8 1733.3,938.1 1715.0,933.4 1696.7,928.6 1678.5,923.9 1660.2,919.2 1641.9,914.5 1623.7,909.7 1605.4,905.0 1587.1,900.3 1568.9,895.5 1550.6,890.8 1532.3,886.1 1514.1,881.4 1495.8,876.6 1477.5,871.9 1459.3,867.2 1441.0,862.4 1424.2,854.1 1407.8,844.7 1391.4,835.4 1375.1,826.0 1358.7,816.7 1342.3,807.3 1325.9,797.9 1308.9,789.8 1291.3,783.2 1273.6,776.6 1256.0,770.0 1238.3,763.3 1220.6,756.7 1203.0,750.1 1185.3,743.4 1167.9,736.1 1150.6,728.5 1133.4,720.9 1116.1,713.3 1098.9,705.7 1081.6,698.0 1064.3,690.4 1046.0,686.8 1027.4,683.7 1009.2,678.7 991.1,673.6 972.9,668.6 954.7,663.5 936.5,658.4 919.9,649.6 903.4,640.4 886.9,631.3 870.4,622.1 853.9,613.0 837.4,603.8 820.9,594.6 804.5,585.5 788.0,576.3 771.5,567.1 755.0,558.0 738.5,548.8 722.0,539.7" fill="#b8ff00"/>
<polygon points="710.1,560.1 726.6,569.3 743.0,578.4 759.5,587.6 775.9,596.7 792.3,605.9 808.8,615.1 825.2,624.2 841.6,633.4 858.1,642.6 874.5,651.7 890.9,660.9 907.4,670.1 923.9,678.9 941.7,684.8 959.5,690.7 977.3,696.6 995.1,702.5 1012.8,708.4 1031.3,711.9 1049.5,715.8 1066.9,723.0 1084.3,730.1 1101.7,737.3 1119.0,744.5 1136.3,752.0 1153.6,759.4 1170.9,766.6 1188.5,773.3 1206.1,780.0 1223.7,786.6 1241.3,793.3 1258.9,799.9 1276.5,806.6 1294.1,813.3 1311.2,821.1 1327.8,829.9 1344.2,839.1 1360.5,848.4 1376.9,857.7 1393.2,867.0 1409.6,876.4 1426.3,884.9 1444.1,890.5 1462.0,896.1 1480.0,901.4 1498.2,906.1 1516.4,910.9 1534.6,915.7 1552.8,920.4 1571.0,925.2 1589.2,930.0 1607.4,934.8 1625.6,939.5 1643.8,944.3 1662.0,949.1 1680.2,953.8 1698.4,958.6 1716.6,963.4 1734.8,968.2 1753.0,972.9 1771.2,977.7 1789.4,982.5 1807.6,987.2 1824.6,961.7 1806.3,957.0 1788.0,952.3 1769.8,947.6 1751.5,942.8 1733.3,938.1 1715.0,933.4 1696.7,928.6 1678.5,923.9 1660.2,919.2 1641.9,914.5 1623.7,909.7 1605.4,905.0 1587.1,900.3 1568.9,895.5 1550.6,890.8 1532.3,886.1 1514.1,881.4 1495.8,876.6 1477.5,871.9 1459.3,867.2 1441.0,862.4 1424.2,854.1 1407.8,844.7 1391.4,835.4 1375.1,826.0 1358.7,816.7 1342.3,807.3 1325.9,797.9 1308.9,789.8 1291.3,783.2 1273.6,776.6 1256.0,770.0 1238.3,763.3 1220.6,756.7 1203.0,750.1 1185.3,743.4 1167.9,736.1 1150.6,728.5 1133.4,720.9 1116.1,713.3 1098.9,705.7 1081.6,698.0 1064.3,690.4 1046.0,686.8 1027.4,683.7 1009.2,678.7 991.1,673.6 972.9,668.6 954.7,663.5 936.5,658.4 919.9,649.6 903.4,640.4 886.9,631.3 870.4,622.1 853.9,613.0 837.4,603.8 820.9,594.6 804.5,585.5 788.0,576.3 771.5,567.1 755.0,558.0 738.5,548.8 722.0,539.7" fill="#d5ff00"/>
<polygon points="716.1,549.9 732.5,559.0 749.0,568.2 765.5,577.4 781.9,586.5 798.4,595.7 814.9,604.9 831.3,614.0 847.8,623.2 864.2,632.3 880.7,641.5 897.2,650.7 913.6,659.8 930.2,668.7 948.2,674.2 966.2,679.6 984.2,685.1 1002.2,690.6 1020.1,696.0 1038.6,699.4 1056.9,703.1 1074.3,710.5 1091.6,717.9 1108.9,725.3 1126.2,732.7 1143.5,740.2 1160.7,747.8 1178.1,755.0 1195.7,761.7 1213.4,768.3 1231.0,775.0 1248.6,781.6 1266.3,788.3 1283.9,794.9 1301.5,801.5 1318.6,809.5 1335.0,818.6 1351.4,827.9 1367.8,837.2 1384.2,846.5 1400.5,855.9 1416.9,865.2 1433.6,873.6 1451.7,878.8 1469.8,884.0 1487.9,889.0 1506.1,893.7 1524.4,898.5 1542.6,903.2 1560.8,908.0 1579.1,912.7 1597.3,917.5 1615.5,922.2 1633.8,927.0 1652.0,931.7 1670.2,936.5 1688.5,941.2 1706.7,946.0 1724.9,950.7 1743.2,955.5 1761.4,960.2 1779.6,965.0 1797.9,969.7 1816.1,974.5 1824.6,961.7 1806.3,957.0 1788.0,952.3 1769.8,947.6 1751.5,942.8 1733.3,938.1 1715.0,933.4 1696.7,928.6 1678.5,923.9 1660.2,919.2 1641.9,914.5 1623.7,909.7 1605.4,905.0 1587.1,900.3 1568.9,895.5 1550.6,890.8 1532.3,886.1 1514.1,881.4 1495.8,876.6 1477.5,871.9 1459.3,867.2 1441.0,862.4 1424.2,854.1 1407.8,844.7 1391.4,835.4 1375.1,826.0 1358.7,816.7 1342.3,807.3 1325.9,797.9 1308.9,789.8 1291.3,783.2 1273.6,776.6 1256.0,770.0 1238.3,763.3 1220.6,756.7 1203.0,750.1 1185.3,743.4 1167.9,736.1 1150.6,728.5 1133.4,720.9 1116.1,713.3 1098.9,705.7 1081.6,698.0 1064.3,690.4 1046.0,686.8 1027.4,683.7 1009.2,678.7 991.1,673.6 972.9,668.6 954.7,663.5 936.5,658.4 919.9,649.6 903.4,640.4 886.9,631.3 870.4,622.1 853.9,613.0 837.4,603.8 820.9,594.6 804.5,585.5 788.0,576.3 771.5,567.1 755.0,558.0 738.5,548.8 722.0,539.7" fill="#f1ff00"/>
<polygon points="722.0,539.7 738.5,548.8 755.0,558.0 771.5,567.1 788.0,576.3 804.5,585.5 820.9,594.6 837.4,603.8 853.9,613.0 870.4,622.1 886.9,631.3 903.4,640.4 919.9,649.6 936.5,658.4 954.7,663.5 972.9,668.6 991.1,673.6 1009.2,678.7 1027.4,683.7 1046.0,686.8 1064.3,690.4 1081.6,698.0 1098.9,705.7 1116.1,713.3 1133.4,720.9 1150.6,728.5 1167.9,736.1 1185.3,743.4 1203.0,750.1 1220.6,756.7 1238.3,763.3 1256.0,770.0 1273.6,776.6 1291.3,783.2 1308.9,789.8 1325.9,797.9 1342.3,807.3 1358.7,816.7 1375.1,826.0 1391.4,835.4 1407.8,844.7 1424.2,854.1 1441.0,862.4 1459.3,867.2 1477.5,871.9 1495.8,876.6 1514.1,881.4 1532.3,886.1 1550.6,890.8 1568.9,895.5 1587.1,900.3 1605.4,905.0 1623.7,909.7 1641.9,914.5 1660.2,919.2 1678.5,923.9 1696.7,928.6 1715.0,933.4 1733.3,938.1 1751.5,942.8 1769.8,947.6 1788.0,952.3 1806.3,957.0 1824.6,961.7 1831.9,932.6 1817.0,921.1 1802.1,909.6 1787.1,898.0 1772.2,886.5 1757.3,874.9 1742.4,863.4 1727.5,851.9 1712.6,840.3 1697.7,828.8 1682.8,817.2 1667.8,805.7 1652.9,794.2 1638.0,782.6 1623.1,771.1 1608.2,759.5 1593.3,748.0 1578.4,736.5 1563.4,725.1 1544.6,723.1 1525.9,721.1 1507.2,719.0 1488.4,717.0 1469.7,715.0 1452.1,709.2 1435.6,700.1 1419.1,691.0 1402.6,681.9 1385.2,674.8 1367.2,669.2 1349.2,663.5 1331.2,657.9 1313.2,652.2 1295.2,646.6 1277.2,641.0 1259.2,635.3 1241.2,629.7 1223.4,623.8 1206.5,615.4 1189.6,607.0 1172.7,598.6 1155.8,590.2 1138.9,581.9 1122.0,573.5 1104.1,568.7 1085.3,567.1 1066.5,565.6 1047.7,564.0 1029.0,562.4 1010.6,558.7 992.6,553.1 974.6,547.5 956.6,541.8 938.6,536.2 920.6,530.6 902.6,524.9 884.6,519.3 866.6,513.7 848.6,508.0 830.6,502.4 812.6,496.7 794.6,491.1 776.7,485.5 758.7,479.8" fill="#fff700"/>
<polygon points="725.7,533.7 742.3,542.5 758.9,551.3 775.6,560.1 792.2,568.9 808.9,577.7 825.5,586.5 842.2,595.3 858.8,604.2 875.4,613.0 892.1,621.8 908.7,630.6 925.4,639.4 942.1,647.9 960.3,653.0 978.5,657.9 996.7,662.7 1015.0,667.4 1033.2,672.1 1051.8,675.0 1070.1,678.7 1087.3,686.4 1104.6,694.1 1121.8,701.8 1139.0,709.5 1156.2,717.2 1173.5,724.9 1190.9,732.1 1208.6,738.6 1226.3,745.1 1244.0,751.7 1261.7,758.2 1279.4,764.7 1297.1,771.2 1314.8,777.8 1331.8,785.6 1348.3,794.8 1364.7,804.1 1381.1,813.4 1397.5,822.8 1414.0,831.8 1430.6,840.4 1447.6,848.1 1465.9,852.6 1484.3,857.0 1502.6,861.5 1520.5,866.9 1538.4,872.3 1556.4,877.7 1574.3,883.1 1592.2,888.5 1610.2,893.9 1628.1,899.3 1646.0,904.7 1663.9,910.1 1681.9,915.5 1699.8,921.0 1717.7,926.4 1735.7,931.8 1753.6,937.2 1771.5,942.6 1789.4,948.0 1807.4,953.4 1825.3,958.8 1831.9,932.6 1817.0,921.1 1802.1,909.6 1787.1,898.0 1772.2,886.5 1757.3,874.9 1742.4,863.4 1727.5,851.9 1712.6,840.3 1697.7,828.8 1682.8,817.2 1667.8,805.7 1652.9,794.2 1638.0,782.6 1623.1,771.1 1608.2,759.5 1593.3,748.0 1578.4,736.5 1563.4,725.1 1544.6,723.1 1525.9,721.1 1507.2,719.0 1488.4,717.0 1469.7,715.0 1452.1,709.2 1435.6,700.1 1419.1,691.0 1402.6,681.9 1385.2,674.8 1367.2,669.2 1349.2,663.5 1331.2,657.9 1313.2,652.2 1295.2,646.6 1277.2,641.0 1259.2,635.3 1241.2,629.7 1223.4,623.8 1206.5,615.4 1189.6,607.0 1172.7,598.6 1155.8,590.2 1138.9,581.9 1122.0,573.5 1104.1,568.7 1085.3,567.1 1066.5,565.6 1047.7,564.0 1029.0,562.4 1010.6,558.7 992.6,553.1 974.6,547.5 956.6,541.8 938.6,536.2 920.6,530.6 902.6,524.9 884.6,519.3 866.6,513.7 848.6,508.0 830.6,502.4 812.6,496.7 794.6,491.1 776.7,485.5 758.7,479.8" fill="#ffe600"/>
<polygon points="729.3,527.7 746.1,536.2 762.9,544.6 779.7,553.1 796.5,561.5 813.3,570.0 830.1,578.4 846.9,586.9 863.7,595.4 880.5,603.8 897.3,612.3 914.0,620.7 930.8,629.2 947.7,637.4 965.9,642.5 984.1,647.3 1002.4,651.7 1020.7,656.1 1039.0,660.4 1057.6,663.2 1075.9,667.0 1093.1,674.8 1110.3,682.6 1127.4,690.3 1144.6,698.1 1161.8,705.9 1179.0,713.7 1196.5,720.7 1214.2,727.1 1231.9,733.6 1249.7,740.0 1267.4,746.4 1285.1,752.8 1302.9,759.3 1320.6,765.7 1337.8,773.3 1354.4,782.2 1370.8,791.5 1387.2,800.8 1403.6,810.1 1420.2,818.8 1437.1,826.7 1454.2,833.8 1472.6,837.9 1491.0,842.1 1509.3,846.3 1526.9,852.4 1544.5,858.5 1562.1,864.6 1579.7,870.6 1597.3,876.7 1614.9,882.8 1632.5,888.9 1650.1,895.0 1667.7,901.1 1685.3,907.2 1702.9,913.3 1720.5,919.4 1738.1,925.5 1755.7,931.6 1773.3,937.6 1790.9,943.7 1808.4,949.8 1826.0,955.9 1831.9,932.6 1817.0,921.1 1802.1,909.6 1787.1,898.0 1772.2,886.5 1757.3,874.9 1742.4,863.4 1727.5,851.9 1712.6,840.3 1697.7,828.8 1682.8,817.2 1667.8,805.7 1652.9,794.2 1638.0,782.6 1623.1,771.1 1608.2,759.5 1593.3,748.0 1578.4,736.5 1563.4,725.1 1544.6,723.1 1525.9,721.1 1507.2,719.0 1488.4,717.0 1469.7,715.0 1452.1,709.2 1435.6,700.1 1419.1,691.0 1402.6,681.9 1385.2,674.8 1367.2,669.2 1349.2,663.5 1331.2,657.9 1313.2,652.2 1295.2,646.6 1277.2,641.0 1259.2,635.3 1241.2,629.7 1223.4,623.8 1206.5,615.4 1189.6,607.0 1172.7,598.6 1155.8,590.2 1138.9,581.9 1122.0,573.5 1104.1,568.7 1085.3,567.1 1066.5,565.6 1047.7,564.0 1029.0,562.4 1010.6,558.7 992.6,553.1 974.6,547.5 956.6,541.8 938.6,536.2 920.6,530.6 902.6,524.9 884.6,519.3 866.6,513.7 848.6,508.0 830.6,502.4 812.6,496.7 794.6,491.1 776.7,485.5 758.7,479.8" fill="#ffd500"/>
<polygon points="733.0,521.7 749.9,529.8 766.9,537.9 783.8,546.0 800.8,554.1 817.7,562.2 834.6,570.3 851.6,578.4 868.5,586.6 885.5,594.7 902.4,602.8 919.4,610.9 936.3,619.0 953.4,626.8 971.5,632.1 989.7,636.7 1008.1,640.7 1026.4,644.7 1044.8,648.8 1063.4,651.4 1081.6,655.3 1098.8,663.2 1115.9,671.0 1133.1,678.9 1150.2,686.7 1167.4,694.6 1184.5,702.4 1202.1,709.3 1219.8,715.6 1237.6,722.0 1255.4,728.3 1273.1,734.6 1290.9,741.0 1308.7,747.3 1326.4,753.6 1343.7,761.0 1360.4,769.7 1376.8,779.0 1393.2,788.2 1409.6,797.5 1426.4,805.8 1443.5,813.0 1460.9,819.4 1479.3,823.3 1497.7,827.2 1516.1,831.2 1533.4,837.9 1550.6,844.7 1567.9,851.4 1585.1,858.2 1602.4,865.0 1619.7,871.7 1636.9,878.5 1654.2,885.3 1671.4,892.1 1688.7,898.8 1706.0,905.6 1723.2,912.4 1740.5,919.1 1757.7,925.9 1775.0,932.7 1792.3,939.5 1809.5,946.2 1826.8,953.0 1831.9,932.6 1817.0,921.1 1802.1,909.6 1787.1,898.0 1772.2,886.5 1757.3,874.9 1742.4,863.4 1727.5,851.9 1712.6,840.3 1697.7,828.8 1682.8,817.2 1667.8,805.7 1652.9,794.2 1638.0,782.6 1623.1,771.1 1608.2,759.5 1593.3,748.0 1578.4,736.5 1563.4,725.1 1544.6,723.1 1525.9,721.1 1507.2,719.0 1488.4,717.0 1469.7,715.0 1452.1,709.2 1435.6,700.1 1419.1,691.0 1402.6,681.9 1385.2,674.8 1367.2,669.2 1349.2,663.5 1331.2,657.9 1313.2,652.2 1295.2,646.6 1277.2,641.0 1259.2,635.3 1241.2,629.7 1223.4,623.8 1206.5,615.4 1189.6,607.0 1172.7,598.6 1155.8,590.2 1138.9,581.9 1122.0,573.5 1104.1,568.7 1085.3,567.1 1066.5,565.6 1047.7,564.0 1029.0,562.4 1010.6,558.7 992.6,553.1 974.6,547.5 956.6,541.8 938.6,536.2 920.6,530.6 902.6,524.9 884.6,519.3 866.6,513.7 848.6,508.0 830.6,502.4 812.6,496.7 794.6,491.1 776.7,485.5 758.7,479.8" fill="#ffc400"/>
<polygon points="736.7,515.7 753.7,523.5 770.8,531.2 787.9,539.0 805.0,546.7 822.1,554.5 839.2,562.2 856.3,570.0 873.4,577.7 890.5,585.5 907.6,593.3 924.7,601.0 941.8,608.8 959.0,616.3 977.1,621.6 995.3,626.1 1013.7,629.8 1032.2,633.4 1050.6,637.1 1069.2,639.6 1087.4,643.6 1104.5,651.6 1121.6,659.5 1138.7,667.4 1155.9,675.3 1173.0,683.3 1190.1,691.2 1207.7,697.9 1225.5,704.2 1243.3,710.4 1261.1,716.6 1278.9,722.9 1296.7,729.1 1314.4,735.3 1332.2,741.6 1349.6,748.7 1366.4,757.1 1382.8,766.4 1399.3,775.6 1415.7,784.9 1432.6,792.9 1449.9,799.3 1467.5,805.1 1485.9,808.7 1504.4,812.4 1522.8,816.0 1539.8,823.4 1556.7,830.8 1573.6,838.3 1590.6,845.8 1607.5,853.2 1624.4,860.7 1641.3,868.1 1658.3,875.6 1675.2,883.0 1692.1,890.5 1709.0,897.9 1726.0,905.4 1742.9,912.8 1759.8,920.3 1776.7,927.7 1793.7,935.2 1810.6,942.6 1827.5,950.1 1831.9,932.6 1817.0,921.1 1802.1,909.6 1787.1,898.0 1772.2,886.5 1757.3,874.9 1742.4,863.4 1727.5,851.9 1712.6,840.3 1697.7,828.8 1682.8,817.2 1667.8,805.7 1652.9,794.2 1638.0,782.6 1623.1,771.1 1608.2,759.5 1593.3,748.0 1578.4,736.5 1563.4,725.1 1544.6,723.1 1525.9,721.1 1507.2,719.0 1488.4,717.0 1469.7,715.0 1452.1,709.2 1435.6,700.1 1419.1,691.0 1402.6,681.9 1385.2,674.8 1367.2,669.2 1349.2,663.5 1331.2,657.9 1313.2,652.2 1295.2,646.6 1277.2,641.0 1259.2,635.3 1241.2,629.7 1223.4,623.8 1206.5,615.4 1189.6,607.0 1172.7,598.6 1155.8,590.2 1138.9,581.9 1122.0,573.5 1104.1,568.7 1085.3,567.1 1066.5,565.6 1047.7,564.0 1029.0,562.4 1010.6,558.7 992.6,553.1 974.6,547.5 956.6,541.8 938.6,536.2 920.6,530.6 902.6,524.9 884.6,519.3 866.6,513.7 848.6,508.0 830.6,502.4 812.6,496.7 794.6,491.1 776.7,485.5 758.7,479.8" fill="#ffb300"/>
<polygon points="740.3,509.7 757.6,517.1 774.8,524.5 792.1,531.9 809.3,539.3 826.5,546.7 843.8,554.1 861.0,561.5 878.3,568.9 895.5,576.3 912.8,583.7 930.0,591.1 947.2,598.5 964.6,605.8 982.6,611.1 1000.9,615.5 1019.4,618.8 1037.9,622.1 1056.4,625.4 1075.0,627.8 1093.2,631.9 1110.3,639.9 1127.3,647.9 1144.4,655.9 1161.5,663.9 1178.6,672.0 1195.6,680.0 1213.3,686.6 1231.1,692.7 1248.9,698.8 1266.8,705.0 1284.6,711.1 1302.4,717.2 1320.2,723.4 1338.1,729.5 1355.5,736.4 1372.4,744.6 1388.9,753.8 1405.3,763.1 1421.8,772.3 1438.7,779.9 1456.3,785.6 1474.1,790.7 1492.6,794.1 1511.1,797.5 1529.6,800.8 1546.2,808.9 1562.8,817.0 1579.4,825.2 1596.0,833.3 1612.6,841.4 1629.2,849.6 1645.8,857.7 1662.3,865.8 1678.9,874.0 1695.5,882.1 1712.1,890.2 1728.7,898.4 1745.3,906.5 1761.9,914.7 1778.5,922.8 1795.1,930.9 1811.6,939.1 1828.2,947.2 1831.9,932.6 1817.0,921.1 1802.1,909.6 1787.1,898.0 1772.2,886.5 1757.3,874.9 1742.4,863.4 1727.5,851.9 1712.6,840.3 1697.7,828.8 1682.8,817.2 1667.8,805.7 1652.9,794.2 1638.0,782.6 1623.1,771.1 1608.2,759.5 1593.3,748.0 1578.4,736.5 1563.4,725.1 1544.6,723.1 1525.9,721.1 1507.2,719.0 1488.4,717.0 1469.7,715.0 1452.1,709.2 1435.6,700.1 1419.1,691.0 1402.6,681.9 1385.2,674.8 1367.2,669.2 1349.2,663.5 1331.2,657.9 1313.2,652.2 1295.2,646.6 1277.2,641.0 1259.2,635.3 1241.2,629.7 1223.4,623.8 1206.5,615.4 1189.6,607.0 1172.7,598.6 1155.8,590.2 1138.9,581.9 1122.0,573.5 1104.1,568.7 1085.3,567.1 1066.5,565.6 1047.7,564.0 1029.0,562.4 1010.6,558.7 992.6,553.1 974.6,547.5 956.6,541.8 938.6,536.2 920.6,530.6 902.6,524.9 884.6,519.3 866.6,513.7 848.6,508.0 830.6,502.4 812.6,496.7 794.6,491.1 776.7,485.5 758.7,479.8" fill="#ffa200"/>
<polygon points="744.0,503.8 761.4,510.8 778.8,517.9 796.2,524.9 813.6,532.0 831.0,539.0 848.4,546.0 865.7,553.1 883.1,560.1 900.5,567.2 917.9,574.2 935.3,581.3 952.7,588.3 970.2,595.2 988.2,600.6 1006.5,604.9 1025.1,607.8 1043.6,610.8 1062.2,613.8 1080.9,615.9 1098.9,620.3 1116.0,628.3 1133.0,636.4 1150.1,644.5 1167.1,652.6 1184.1,660.6 1201.2,668.7 1218.9,675.2 1236.7,681.2 1254.6,687.3 1272.4,693.3 1290.3,699.3 1308.2,705.4 1326.0,711.4 1343.9,717.4 1361.5,724.1 1378.5,732.0 1394.9,741.3 1411.4,750.5 1427.8,759.7 1444.9,766.9 1462.7,771.9 1480.7,776.4 1499.2,779.5 1517.8,782.6 1536.4,785.7 1552.7,794.4 1568.9,803.2 1585.2,812.0 1601.4,820.9 1617.7,829.7 1633.9,838.5 1650.2,847.3 1666.4,856.1 1682.7,864.9 1698.9,873.8 1715.2,882.6 1731.4,891.4 1747.7,900.2 1763.9,909.0 1780.2,917.8 1796.5,926.6 1812.7,935.5 1829.0,944.3 1831.9,932.6 1817.0,921.1 1802.1,909.6 1787.1,898.0 1772.2,886.5 1757.3,874.9 1742.4,863.4 1727.5,851.9 1712.6,840.3 1697.7,828.8 1682.8,817.2 1667.8,805.7 1652.9,794.2 1638.0,782.6 1623.1,771.1 1608.2,759.5 1593.3,748.0 1578.4,736.5 1563.4,725.1 1544.6,723.1 1525.9,721.1 1507.2,719.0 1488.4,717.0 1469.7,715.0 1452.1,709.2 1435.6,700.1 1419.1,691.0 1402.6,681.9 1385.2,674.8 1367.2,669.2 1349.2,663.5 1331.2,657.9 1313.2,652.2 1295.2,646.6 1277.2,641.0 1259.2,635.3 1241.2,629.7 1223.4,623.8 1206.5,615.4 1189.6,607.0 1172.7,598.6 1155.8,590.2 1138.9,581.9 1122.0,573.5 1104.1,568.7 1085.3,567.1 1066.5,565.6 1047.7,564.0 1029.0,562.4 1010.6,558.7 992.6,553.1 974.6,547.5 956.6,541.8 938.6,536.2 920.6,530.6 902.6,524.9 884.6,519.3 866.6,513.7 848.6,508.0 830.6,502.4 812.6,496.7 794.6,491.1 776.7,485.5 758.7,479.8" fill="#ff9100"/>
<polygon points="747.7,497.8 765.2,504.5 782.7,511.2 800.3,517.9 817.8,524.6 835.4,531.3 852.9,538.0 870.5,544.6 888.0,551.3 905.6,558.0 923.1,564.7 940.6,571.4 958.2,578.1 975.8,584.7 993.8,590.2 1012.1,594.3 1030.7,596.9 1049.3,599.5 1068.0,602.1 1086.7,604.1 1104.7,608.6 1121.7,616.7 1138.7,624.9 1155.7,633.0 1172.7,641.2 1189.7,649.3 1206.7,657.5 1224.5,663.8 1242.4,669.7 1260.2,675.7 1278.1,681.6 1296.0,687.6 1313.9,693.5 1331.8,699.4 1349.7,705.4 1367.4,711.8 1384.5,719.5 1401.0,728.7 1417.4,737.9 1433.9,747.1 1451.1,753.9 1469.1,758.2 1487.3,762.1 1505.9,764.9 1524.5,767.7 1543.1,770.5 1559.1,779.9 1575.0,789.4 1590.9,798.9 1606.8,808.4 1622.8,817.9 1638.7,827.4 1654.6,836.9 1670.5,846.4 1686.4,855.9 1702.3,865.4 1718.3,874.9 1734.2,884.4 1750.1,893.9 1766.0,903.4 1781.9,912.9 1797.9,922.4 1813.8,931.9 1829.7,941.4 1831.9,932.6 1817.0,921.1 1802.1,909.6 1787.1,898.0 1772.2,886.5 1757.3,874.9 1742.4,863.4 1727.5,851.9 1712.6,840.3 1697.7,828.8 1682.8,817.2 1667.8,805.7 1652.9,794.2 1638.0,782.6 1623.1,771.1 1608.2,759.5 1593.3,748.0 1578.4,736.5 1563.4,725.1 1544.6,723.1 1525.9,721.1 1507.2,719.0 1488.4,717.0 1469.7,715.0 1452.1,709.2 1435.6,700.1 1419.1,691.0 1402.6,681.9 1385.2,674.8 1367.2,669.2 1349.2,663.5 1331.2,657.9 1313.2,652.2 1295.2,646.6 1277.2,641.0 1259.2,635.3 1241.2,629.7 1223.4,623.8 1206.5,615.4 1189.6,607.0 1172.7,598.6 1155.8,590.2 1138.9,581.9 1122.0,573.5 1104.1,568.7 1085.3,567.1 1066.5,565.6 1047.7,564.0 1029.0,562.4 1010.6,558.7 992.6,553.1 974.6,547.5 956.6,541.8 938.6,536.2 920.6,530.6 902.6,524.9 884.6,519.3 866.6,513.7 848.6,508.0 830.6,502.4 812.6,496.7 794.6,491.1 776.7,485.5 758.7,479.8" fill="#ff8000"/>
<polygon points="751.3,491.8 769.0,498.1 786.7,504.5 804.4,510.8 822.1,517.2 839.8,523.5 857.5,529.9 875.2,536.2 892.9,542.5 910.6,548.9 928.3,555.2 946.0,561.6 963.7,567.9 981.4,574.2 999.4,579.7 1017.7,583.7 1036.4,585.9 1055.1,588.2 1073.7,590.4 1092.5,592.3 1110.5,596.9 1127.4,605.1 1144.4,613.3 1161.4,621.6 1178.3,629.8 1195.3,638.0 1212.3,646.2 1230.1,652.4 1248.0,658.3 1265.9,664.1 1283.8,669.9 1301.8,675.8 1319.7,681.6 1337.6,687.5 1355.5,693.3 1373.3,699.5 1390.5,707.0 1407.0,716.1 1423.5,725.3 1440.0,734.4 1457.3,741.0 1475.6,744.4 1493.9,747.7 1512.6,750.3 1531.2,752.8 1549.9,755.4 1565.5,765.4 1581.1,775.6 1596.7,785.8 1612.3,796.0 1627.8,806.1 1643.4,816.3 1659.0,826.5 1674.6,836.7 1690.2,846.9 1705.8,857.0 1721.3,867.2 1736.9,877.4 1752.5,887.6 1768.1,897.8 1783.7,907.9 1799.3,918.1 1814.8,928.3 1830.4,938.5 1831.9,932.6 1817.0,921.1 1802.1,909.6 1787.1,898.0 1772.2,886.5 1757.3,874.9 1742.4,863.4 1727.5,851.9 1712.6,840.3 1697.7,828.8 1682.8,817.2 1667.8,805.7 1652.9,794.2 1638.0,782.6 1623.1,771.1 1608.2,759.5 1593.3,748.0 1578.4,736.5 1563.4,725.1 1544.6,723.1 1525.9,721.1 1507.2,719.0 1488.4,717.0 1469.7,715.0 1452.1,709.2 1435.6,700.1 1419.1,691.0 1402.6,681.9 1385.2,674.8 1367.2,669.2 1349.2,663.5 1331.2,657.9 1313.2,652.2 1295.2,646.6 1277.2,641.0 1259.2,635.3 1241.2,629.7 1223.4,623.8 1206.5,615.4 1189.6,607.0 1172.7,598.6 1155.8,590.2 1138.9,581.9 1122.0,573.5 1104.1,568.7 1085.3,567.1 1066.5,565.6 1047.7,564.0 1029.0,562.4 1010.6,558.7 992.6,553.1 974.6,547.5 956.6,541.8 938.6,536.2 920.6,530.6 902.6,524.9 884.6,519.3 866.6,513.7 848.6,508.0 830.6,502.4 812.6,496.7 794.6,491.1 776.7,485.5 758.7,479.8" fill="#ff6f00"/>
<polygon points="755.0,485.8 772.8,491.8 790.7,497.8 808.5,503.8 826.4,509.8 844.2,515.8 862.1,521.8 879.9,527.7 897.7,533.7 915.6,539.7 933.4,545.7 951.3,551.7 969.1,557.7 987.0,563.6 1005.0,569.2 1023.3,573.1 1042.1,575.0 1060.8,576.9 1079.5,578.8 1098.3,580.5 1116.2,585.2 1133.2,593.5 1150.1,601.8 1167.0,610.1 1184.0,618.4 1200.9,626.7 1217.8,635.0 1235.7,641.0 1253.6,646.8 1271.6,652.5 1289.5,658.3 1307.5,664.0 1325.4,669.8 1343.4,675.5 1361.4,681.3 1379.3,687.1 1396.5,694.4 1413.0,703.6 1429.5,712.7 1446.0,721.8 1463.5,728.0 1482.0,730.7 1500.5,733.4 1519.2,735.7 1537.9,737.9 1556.6,740.2 1571.9,750.9 1587.2,761.8 1602.4,772.7 1617.7,783.5 1632.9,794.4 1648.2,805.2 1663.4,816.1 1678.7,827.0 1693.9,837.8 1709.2,848.7 1724.4,859.5 1739.7,870.4 1754.9,881.3 1770.2,892.1 1785.4,903.0 1800.7,913.8 1815.9,924.7 1831.2,935.6 1831.9,932.6 1817.0,921.1 1802.1,909.6 1787.1,898.0 1772.2,886.5 1757.3,874.9 1742.4,863.4 1727.5,851.9 1712.6,840.3 1697.7,828.8 1682.8,817.2 1667.8,805.7 1652.9,794.2 1638.0,782.6 1623.1,771.1 1608.2,759.5 1593.3,748.0 1578.4,736.5 1563.4,725.1 1544.6,723.1 1525.9,721.1 1507.2,719.0 1488.4,717.0 1469.7,715.0 1452.1,709.2 1435.6,700.1 1419.1,691.0 1402.6,681.9 1385.2,674.8 1367.2,669.2 1349.2,663.5 1331.2,657.9 1313.2,652.2 1295.2,646.6 1277.2,641.0 1259.2,635.3 1241.2,629.7 1223.4,623.8 1206.5,615.4 1189.6,607.0 1172.7,598.6 1155.8,590.2 1138.9,581.9 1122.0,573.5 1104.1,568.7 1085.3,567.1 1066.5,565.6 1047.7,564.0 1029.0,562.4 1010.6,558.7 992.6,553.1 974.6,547.5 956.6,541.8 938.6,536.2 920.6,530.6 902.6,524.9 884.6,519.3 866.6,513.7 848.6,508.0 830.6,502.4 812.6,496.7 794.6,491.1 776.7,485.5 758.7,479.8" fill="#ff5e00"/>
<polygon points="758.7,479.8 776.7,485.5 794.6,491.1 812.6,496.7 830.6,502.4 848.6,508.0 866.6,513.7 884.6,519.3 902.6,524.9 920.6,530.6 938.6,536.2 956.6,541.8 974.6,547.5 992.6,553.1 1010.6,558.7 1029.0,562.4 1047.7,564.0 1066.5,565.6 1085.3,567.1 1104.1,568.7 1122.0,573.5 1138.9,581.9 1155.8,590.2 1172.7,598.6 1189.6,607.0 1206.5,615.4 1223.4,623.8 1241.2,629.7 1259.2,635.3 1277.2,641.0 1295.2,646.6 1313.2,652.2 1331.2,657.9 1349.2,663.5 1367.2,669.2 1385.2,674.8 1402.6,681.9 1419.1,691.0 1435.6,700.1 1452.1,709.2 1469.7,715.0 1488.4,717.0 1507.2,719.0 1525.9,721.1 1544.6,723.1 1563.4,725.1 1578.4,736.5 1593.3,748.0 1608.2,759.5 1623.1,771.1 1638.0,782.6 1652.9,794.2 1667.8,805.7 1682.8,817.2 1697.7,828.8 1712.6,840.3 1727.5,851.9 1742.4,863.4 1757.3,874.9 1772.2,886.5 1787.1,898.0 1802.1,909.6 1817.0,921.1 1831.9,932.6 1888.9,805.0 1873.3,795.3 1857.7,785.5 1842.1,775.7 1826.5,766.0 1810.8,756.2 1795.2,746.4 1779.6,736.7 1764.0,726.9 1748.3,717.1 1732.7,707.4 1717.1,697.6 1701.5,687.8 1685.9,678.1 1670.2,668.3 1654.6,658.5 1639.0,648.8 1623.4,639.0 1607.8,629.2 1592.0,619.7 1574.6,613.8 1557.1,607.9 1539.6,602.0 1522.2,596.1 1504.7,590.3 1487.3,584.4 1469.8,578.5 1452.3,572.6 1435.3,565.7 1418.2,558.7 1401.2,551.7 1384.1,544.8 1367.1,537.8 1350.0,530.9 1332.9,523.9 1315.9,517.0 1298.4,511.3 1280.7,505.9 1263.1,500.5 1245.5,495.1 1227.9,489.7 1210.3,484.3 1192.8,478.4 1175.4,472.4 1158.0,466.3 1140.6,460.2 1123.2,454.2 1105.8,448.1 1087.8,444.8 1069.5,443.2 1051.1,441.6 1032.8,440.0 1014.4,438.4 996.1,436.8 977.7,435.2 959.4,433.6 941.0,432.0 922.7,430.4 904.3,428.8 886.0,427.2 867.6,425.6 849.2,424.0 830.9,422.3 812.5,420.7" fill="#ff4e00"/>
<polygon points="764.0,473.9 782.1,479.2 800.1,484.4 818.1,489.6 836.2,494.9 854.2,500.1 872.2,505.3 890.3,510.6 908.3,515.8 926.3,521.0 944.3,526.3 962.4,531.5 980.4,536.7 998.4,542.0 1016.5,547.2 1034.8,550.7 1053.6,552.4 1072.2,554.4 1090.9,556.4 1109.5,558.4 1127.4,563.4 1144.3,571.5 1161.2,579.7 1178.2,587.7 1195.2,595.8 1212.1,603.9 1229.1,612.0 1247.0,617.8 1264.9,623.5 1282.8,629.3 1300.7,635.0 1318.6,640.8 1336.5,646.6 1354.4,652.4 1372.3,658.1 1390.2,663.9 1407.5,671.0 1424.2,679.7 1440.8,688.5 1457.4,697.3 1474.9,703.1 1493.5,705.5 1512.1,707.9 1530.8,710.3 1549.4,712.7 1567.8,715.5 1582.9,726.7 1597.9,738.1 1612.8,749.4 1627.8,760.8 1642.8,772.2 1657.8,783.5 1672.8,794.9 1687.8,806.3 1702.7,817.6 1717.7,829.0 1732.7,840.3 1747.7,851.7 1762.7,863.1 1777.7,874.4 1792.6,885.8 1807.6,897.2 1822.6,908.5 1837.6,919.9 1888.9,805.0 1873.3,795.3 1857.7,785.5 1842.1,775.7 1826.5,766.0 1810.8,756.2 1795.2,746.4 1779.6,736.7 1764.0,726.9 1748.3,717.1 1732.7,707.4 1717.1,697.6 1701.5,687.8 1685.9,678.1 1670.2,668.3 1654.6,658.5 1639.0,648.8 1623.4,639.0 1607.8,629.2 1592.0,619.7 1574.6,613.8 1557.1,607.9 1539.6,602.0 1522.2,596.1 1504.7,590.3 1487.3,584.4 1469.8,578.5 1452.3,572.6 1435.3,565.7 1418.2,558.7 1401.2,551.7 1384.1,544.8 1367.1,537.8 1350.0,530.9 1332.9,523.9 1315.9,517.0 1298.4,511.3 1280.7,505.9 1263.1,500.5 1245.5,495.1 1227.9,489.7 1210.3,484.3 1192.8,478.4 1175.4,472.4 1158.0,466.3 1140.6,460.2 1123.2,454.2 1105.8,448.1 1087.8,444.8 1069.5,443.2 1051.1,441.6 1032.8,440.0 1014.4,438.4 996.1,436.8 977.7,435.2 959.4,433.6 941.0,432.0 922.7,430.4 904.3,428.8 886.0,427.2 867.6,425.6 849.2,424.0 830.9,422.3 812.5,420.7" fill="#ff3d00"/>
<polygon points="769.4,468.0 787.5,472.9 805.6,477.7 823.6,482.5 841.7,487.3 859.8,492.2 877.8,497.0 895.9,501.8 914.0,506.7 932.0,511.5 950.1,516.3 968.2,521.2 986.2,526.0 1004.3,530.8 1022.4,535.6 1040.7,538.9 1059.4,540.8 1077.9,543.3 1096.4,545.7 1114.9,548.2 1132.7,553.3 1149.7,561.2 1166.7,569.1 1183.7,576.8 1200.8,584.6 1217.8,592.4 1234.8,600.2 1252.7,606.0 1270.6,611.6 1288.4,617.5 1306.2,623.5 1324.0,629.4 1341.8,635.3 1359.6,641.2 1377.4,647.1 1395.2,653.0 1412.5,660.0 1429.2,668.5 1445.9,676.9 1462.6,685.4 1480.2,691.3 1498.7,694.0 1517.1,696.8 1535.6,699.6 1554.1,702.4 1572.3,705.9 1587.4,717.0 1602.4,728.1 1617.5,739.3 1632.5,750.5 1647.6,761.7 1662.6,772.9 1677.7,784.1 1692.8,795.3 1707.8,806.4 1722.9,817.6 1737.9,828.8 1753.0,840.0 1768.0,851.2 1783.1,862.4 1798.1,873.6 1813.2,884.8 1828.2,895.9 1843.3,907.1 1888.9,805.0 1873.3,795.3 1857.7,785.5 1842.1,775.7 1826.5,766.0 1810.8,756.2 1795.2,746.4 1779.6,736.7 1764.0,726.9 1748.3,717.1 1732.7,707.4 1717.1,697.6 1701.5,687.8 1685.9,678.1 1670.2,668.3 1654.6,658.5 1639.0,648.8 1623.4,639.0 1607.8,629.2 1592.0,619.7 1574.6,613.8 1557.1,607.9 1539.6,602.0 1522.2,596.1 1504.7,590.3 1487.3,584.4 1469.8,578.5 1452.3,572.6 1435.3,565.7 1418.2,558.7 1401.2,551.7 1384.1,544.8 1367.1,537.8 1350.0,530.9 1332.9,523.9 1315.9,517.0 1298.4,511.3 1280.7,505.9 1263.1,500.5 1245.5,495.1 1227.9,489.7 1210.3,484.3 1192.8,478.4 1175.4,472.4 1158.0,466.3 1140.6,460.2 1123.2,454.2 1105.8,448.1 1087.8,444.8 1069.5,443.2 1051.1,441.6 1032.8,440.0 1014.4,438.4 996.1,436.8 977.7,435.2 959.4,433.6 941.0,432.0 922.7,430.4 904.3,428.8 886.0,427.2 867.6,425.6 849.2,424.0 830.9,422.3 812.5,420.7" fill="#ff2c00"/>
<polygon points="774.8,462.1 792.9,466.5 811.0,471.0 829.1,475.4 847.2,479.8 865.3,484.2 883.4,488.7 901.5,493.1 919.6,497.5 937.7,502.0 955.8,506.4 973.9,510.8 992.0,515.2 1010.1,519.7 1028.3,524.1 1046.6,527.2 1065.2,529.2 1083.5,532.1 1101.9,535.1 1120.3,538.0 1138.0,543.1 1155.1,550.8 1172.1,558.5 1189.2,566.0 1206.4,573.4 1223.5,580.9 1240.6,588.4 1258.4,594.1 1276.2,599.8 1293.9,605.8 1311.7,611.9 1329.4,617.9 1347.1,624.0 1364.8,630.0 1382.5,636.0 1400.2,642.1 1417.5,649.1 1434.3,657.2 1451.1,665.4 1467.9,673.5 1485.4,679.4 1503.8,682.5 1522.1,685.7 1540.5,688.9 1558.9,692.0 1576.7,696.3 1591.9,707.2 1607.0,718.2 1622.1,729.2 1637.2,740.2 1652.4,751.2 1667.5,762.3 1682.6,773.3 1697.7,784.3 1712.9,795.3 1728.0,806.3 1743.1,817.3 1758.3,828.3 1773.4,839.3 1788.5,850.3 1803.6,861.3 1818.8,872.3 1833.9,883.4 1849.0,894.4 1888.9,805.0 1873.3,795.3 1857.7,785.5 1842.1,775.7 1826.5,766.0 1810.8,756.2 1795.2,746.4 1779.6,736.7 1764.0,726.9 1748.3,717.1 1732.7,707.4 1717.1,697.6 1701.5,687.8 1685.9,678.1 1670.2,668.3 1654.6,658.5 1639.0,648.8 1623.4,639.0 1607.8,629.2 1592.0,619.7 1574.6,613.8 1557.1,607.9 1539.6,602.0 1522.2,596.1 1504.7,590.3 1487.3,584.4 1469.8,578.5 1452.3,572.6 1435.3,565.7 1418.2,558.7 1401.2,551.7 1384.1,544.8 1367.1,537.8 1350.0,530.9 1332.9,523.9 1315.9,517.0 1298.4,511.3 1280.7,505.9 1263.1,500.5 1245.5,495.1 1227.9,489.7 1210.3,484.3 1192.8,478.4 1175.4,472.4 1158.0,466.3 1140.6,460.2 1123.2,454.2 1105.8,448.1 1087.8,444.8 1069.5,443.2 1051.1,441.6 1032.8,440.0 1014.4,438.4 996.1,436.8 977.7,435.2 959.4,433.6 941.0,432.0 922.7,430.4 904.3,428.8 886.0,427.2 867.6,425.6 849.2,424.0 830.9,422.3 812.5,420.7" fill="#ff1b00"/>
<polygon points="780.2,456.2 798.3,460.2 816.5,464.2 834.6,468.3 852.8,472.3 870.9,476.3 889.0,480.3 907.2,484.4 925.3,488.4 943.5,492.4 961.6,496.4 979.7,500.5 997.9,504.5 1016.0,508.5 1034.1,512.5 1052.5,515.4 1071.0,517.6 1089.2,521.0 1107.4,524.4 1125.7,527.7 1143.4,533.0 1160.5,540.5 1177.6,547.9 1194.8,555.1 1211.9,562.2 1229.1,569.4 1246.3,576.6 1264.1,582.3 1281.9,588.0 1299.5,594.1 1317.1,600.3 1334.7,606.5 1352.4,612.7 1370.0,618.8 1387.6,625.0 1405.2,631.2 1422.5,638.2 1439.4,646.0 1456.3,653.8 1473.2,661.6 1490.7,667.5 1508.9,671.0 1527.1,674.6 1545.4,678.1 1563.6,681.7 1581.1,686.7 1596.4,697.5 1611.6,708.3 1626.8,719.1 1642.0,730.0 1657.2,740.8 1672.4,751.6 1687.5,762.5 1702.7,773.3 1717.9,784.1 1733.1,794.9 1748.3,805.8 1763.5,816.6 1778.7,827.4 1793.9,838.3 1809.1,849.1 1824.3,859.9 1839.5,870.8 1854.7,881.6 1888.9,805.0 1873.3,795.3 1857.7,785.5 1842.1,775.7 1826.5,766.0 1810.8,756.2 1795.2,746.4 1779.6,736.7 1764.0,726.9 1748.3,717.1 1732.7,707.4 1717.1,697.6 1701.5,687.8 1685.9,678.1 1670.2,668.3 1654.6,658.5 1639.0,648.8 1623.4,639.0 1607.8,629.2 1592.0,619.7 1574.6,613.8 1557.1,607.9 1539.6,602.0 1522.2,596.1 1504.7,590.3 1487.3,584.4 1469.8,578.5 1452.3,572.6 1435.3,565.7 1418.2,558.7 1401.2,551.7 1384.1,544.8 1367.1,537.8 1350.0,530.9 1332.9,523.9 1315.9,517.0 1298.4,511.3 1280.7,505.9 1263.1,500.5 1245.5,495.1 1227.9,489.7 1210.3,484.3 1192.8,478.4 1175.4,472.4 1158.0,466.3 1140.6,460.2 1123.2,454.2 1105.8,448.1 1087.8,444.8 1069.5,443.2 1051.1,441.6 1032.8,440.0 1014.4,438.4 996.1,436.8 977.7,435.2 959.4,433.6 941.0,432.0 922.7,430.4 904.3,428.8 886.0,427.2 867.6,425.6 849.2,424.0 830.9,422.3 812.5,420.7" fill="#ff0a00"/>
<polygon points="785.6,450.3 803.8,453.9 821.9,457.5 840.1,461.2 858.3,464.8 876.5,468.4 894.6,472.0 912.8,475.6 931.0,479.3 949.2,482.9 967.3,486.5 985.5,490.1 1003.7,493.7 1021.9,497.4 1040.0,501.0 1058.4,503.6 1076.8,506.1 1094.9,509.9 1113.0,513.7 1131.1,517.5 1148.7,522.9 1165.9,530.1 1183.0,537.3 1200.3,544.2 1217.5,551.1 1234.8,557.9 1252.0,564.8 1269.8,570.5 1287.6,576.1 1305.1,582.4 1322.6,588.7 1340.1,595.0 1357.7,601.3 1375.2,607.6 1392.7,613.9 1410.2,620.2 1427.5,627.2 1444.4,634.7 1461.4,642.2 1478.4,649.7 1495.9,655.6 1514.0,659.5 1532.1,663.5 1550.2,667.4 1568.3,671.4 1585.6,677.1 1600.9,687.7 1616.1,698.4 1631.4,709.0 1646.7,719.7 1661.9,730.3 1677.2,741.0 1692.5,751.6 1707.7,762.3 1723.0,773.0 1738.3,783.6 1753.5,794.3 1768.8,804.9 1784.1,815.6 1799.3,826.2 1814.6,836.9 1829.9,847.5 1845.1,858.2 1860.4,868.8 1888.9,805.0 1873.3,795.3 1857.7,785.5 1842.1,775.7 1826.5,766.0 1810.8,756.2 1795.2,746.4 1779.6,736.7 1764.0,726.9 1748.3,717.1 1732.7,707.4 1717.1,697.6 1701.5,687.8 1685.9,678.1 1670.2,668.3 1654.6,658.5 1639.0,648.8 1623.4,639.0 1607.8,629.2 1592.0,619.7 1574.6,613.8 1557.1,607.9 1539.6,602.0 1522.2,596.1 1504.7,590.3 1487.3,584.4 1469.8,578.5 1452.3,572.6 1435.3,565.7 1418.2,558.7 1401.2,551.7 1384.1,544.8 1367.1,537.8 1350.0,530.9 1332.9,523.9 1315.9,517.0 1298.4,511.3 1280.7,505.9 1263.1,500.5 1245.5,495.1 1227.9,489.7 1210.3,484.3 1192.8,478.4 1175.4,472.4 1158.0,466.3 1140.6,460.2 1123.2,454.2 1105.8,448.1 1087.8,444.8 1069.5,443.2 1051.1,441.6 1032.8,440.0 1014.4,438.4 996.1,436.8 977.7,435.2 959.4,433.6 941.0,432.0 922.7,430.4 904.3,428.8 886.0,427.2 867.6,425.6 849.2,424.0 830.9,422.3 812.5,420.7" fill="#ff0000"/>
<polygon points="791.0,444.4 809.2,447.6 827.4,450.8 845.6,454.0 863.8,457.3 882.0,460.5 900.2,463.7 918.5,466.9 936.7,470.1 954.9,473.3 973.1,476.6 991.3,479.8 1009.5,483.0 1027.7,486.2 1045.9,489.4 1064.3,491.9 1082.6,494.5 1100.6,498.7 1118.5,503.0 1136.5,507.2 1154.1,512.8 1171.3,519.8 1188.5,526.7 1205.8,533.3 1223.1,539.9 1240.5,546.5 1257.8,553.0 1275.5,558.6 1293.2,564.3 1310.7,570.7 1328.1,577.2 1345.5,583.6 1362.9,590.0 1380.4,596.5 1397.8,602.9 1415.2,609.3 1432.4,616.3 1449.5,623.5 1466.6,630.7 1483.7,637.8 1501.2,643.7 1519.1,648.0 1537.1,652.4 1555.1,656.7 1573.1,661.0 1590.0,667.6 1605.4,678.0 1620.7,688.5 1636.0,698.9 1651.4,709.4 1666.7,719.9 1682.1,730.4 1697.4,740.8 1712.7,751.3 1728.1,761.8 1743.4,772.3 1758.8,782.7 1774.1,793.2 1789.4,803.7 1804.8,814.2 1820.1,824.6 1835.4,835.1 1850.8,845.6 1866.1,856.1 1888.9,805.0 1873.3,795.3 1857.7,785.5 1842.1,775.7 1826.5,766.0 1810.8,756.2 1795.2,746.4 1779.6,736.7 1764.0,726.9 1748.3,717.1 1732.7,707.4 1717.1,697.6 1701.5,687.8 1685.9,678.1 1670.2,668.3 1654.6,658.5 1639.0,648.8 1623.4,639.0 1607.8,629.2 1592.0,619.7 1574.6,613.8 1557.1,607.9 1539.6,602.0 1522.2,596.1 1504.7,590.3 1487.3,584.4 1469.8,578.5 1452.3,572.6 1435.3,565.7 1418.2,558.7 1401.2,551.7 1384.1,544.8 1367.1,537.8 1350.0,530.9 1332.9,523.9 1315.9,517.0 1298.4,511.3 1280.7,505.9 1263.1,500.5 1245.5,495.1 1227.9,489.7 1210.3,484.3 1192.8,478.4 1175.4,472.4 1158.0,466.3 1140.6,460.2 1123.2,454.2 1105.8,448.1 1087.8,444.8 1069.5,443.2 1051.1,441.6 1032.8,440.0 1014.4,438.4 996.1,436.8 977.7,435.2 959.4,433.6 941.0,432.0 922.7,430.4 904.3,428.8 886.0,427.2 867.6,425.6 849.2,424.0 830.9,422.3 812.5,420.7" fill="#ff0000"/>
<polygon points="796.4,438.5 814.6,441.3 832.9,444.1 851.1,446.9 869.4,449.7 887.6,452.5 905.8,455.4 924.1,458.2 942.3,461.0 960.6,463.8 978.8,466.6 997.1,469.4 1015.3,472.2 1033.6,475.1 1051.8,477.9 1070.2,480.1 1088.4,482.9 1106.2,487.6 1124.0,492.3 1141.9,497.0 1159.4,502.7 1176.6,509.4 1193.9,516.1 1211.3,522.4 1228.7,528.7 1246.1,535.0 1263.5,541.3 1281.2,546.8 1298.9,552.5 1316.2,559.0 1333.6,565.6 1350.9,572.2 1368.2,578.7 1385.6,585.3 1402.9,591.8 1420.3,598.4 1437.4,605.4 1454.6,612.2 1471.8,619.1 1488.9,625.9 1506.4,631.8 1524.3,636.5 1542.1,641.2 1560.0,646.0 1577.8,650.7 1594.4,658.0 1609.9,668.2 1625.3,678.5 1640.7,688.8 1656.1,699.1 1671.5,709.4 1686.9,719.7 1702.3,730.0 1717.7,740.3 1733.1,750.6 1748.6,760.9 1764.0,771.2 1779.4,781.5 1794.8,791.8 1810.2,802.1 1825.6,812.4 1841.0,822.7 1856.4,833.0 1871.8,843.3 1888.9,805.0 1873.3,795.3 1857.7,785.5 1842.1,775.7 1826.5,766.0 1810.8,756.2 1795.2,746.4 1779.6,736.7 1764.0,726.9 1748.3,717.1 1732.7,707.4 1717.1,697.6 1701.5,687.8 1685.9,678.1 1670.2,668.3 1654.6,658.5 1639.0,648.8 1623.4,639.0 1607.8,629.2 1592.0,619.7 1574.6,613.8 1557.1,607.9 1539.6,602.0 1522.2,596.1 1504.7,590.3 1487.3,584.4 1469.8,578.5 1452.3,572.6 1435.3,565.7 1418.2,558.7 1401.2,551.7 1384.1,544.8 1367.1,537.8 1350.0,530.9 1332.9,523.9 1315.9,517.0 1298.4,511.3 1280.7,505.9 1263.1,500.5 1245.5,495.1 1227.9,489.7 1210.3,484.3 1192.8,478.4 1175.4,472.4 1158.0,466.3 1140.6,460.2 1123.2,454.2 1105.8,448.1 1087.8,444.8 1069.5,443.2 1051.1,441.6 1032.8,440.0 1014.4,438.4 996.1,436.8 977.7,435.2 959.4,433.6 941.0,432.0 922.7,430.4 904.3,428.8 886.0,427.2 867.6,425.6 849.2,424.0 830.9,422.3 812.5,420.7" fill="#ff0000"/>
<polygon points="801.8,432.6 820.0,435.0 838.3,437.4 856.6,439.8 874.9,442.2 893.2,444.6 911.5,447.0 929.7,449.4 948.0,451.8 966.3,454.3 984.6,456.7 1002.9,459.1 1021.1,461.5 1039.4,463.9 1057.7,466.3 1076.1,468.3 1094.2,471.3 1111.9,476.4 1129.6,481.6 1147.2,486.8 1164.7,492.6 1182.0,499.1 1199.4,505.5 1216.8,511.5 1234.3,517.5 1251.8,523.5 1269.3,529.5 1286.9,535.0 1304.5,540.6 1321.8,547.3 1339.0,554.0 1356.3,560.7 1373.5,567.4 1390.8,574.1 1408.0,580.8 1425.3,587.5 1442.4,594.5 1459.7,601.0 1476.9,607.5 1494.2,614.0 1511.7,619.9 1529.4,625.0 1547.1,630.1 1564.8,635.2 1582.6,640.3 1598.9,648.4 1614.4,658.5 1629.9,668.6 1645.3,678.7 1660.8,688.8 1676.3,699.0 1691.8,709.1 1707.3,719.2 1722.7,729.3 1738.2,739.5 1753.7,749.6 1769.2,759.7 1784.7,769.8 1800.1,779.9 1815.6,790.1 1831.1,800.2 1846.6,810.3 1862.0,820.4 1877.5,830.6 1888.9,805.0 1873.3,795.3 1857.7,785.5 1842.1,775.7 1826.5,766.0 1810.8,756.2 1795.2,746.4 1779.6,736.7 1764.0,726.9 1748.3,717.1 1732.7,707.4 1717.1,697.6 1701.5,687.8 1685.9,678.1 1670.2,668.3 1654.6,658.5 1639.0,648.8 1623.4,639.0 1607.8,629.2 1592.0,619.7 1574.6,613.8 1557.1,607.9 1539.6,602.0 1522.2,596.1 1504.7,590.3 1487.3,584.4 1469.8,578.5 1452.3,572.6 1435.3,565.7 1418.2,558.7 1401.2,551.7 1384.1,544.8 1367.1,537.8 1350.0,530.9 1332.9,523.9 1315.9,517.0 1298.4,511.3 1280.7,505.9 1263.1,500.5 1245.5,495.1 1227.9,489.7 1210.3,484.3 1192.8,478.4 1175.4,472.4 1158.0,466.3 1140.6,460.2 1123.2,454.2 1105.8,448.1 1087.8,444.8 1069.5,443.2 1051.1,441.6 1032.8,440.0 1014.4,438.4 996.1,436.8 977.7,435.2 959.4,433.6 941.0,432.0 922.7,430.4 904.3,428.8 886.0,427.2 867.6,425.6 849.2,424.0 830.9,422.3 812.5,420.7" fill="#ff0000"/>
<polygon points="807.1,426.7 825.5,428.7 843.8,430.7 862.1,432.7 880.4,434.7 898.7,436.7 917.1,438.7 935.4,440.7 953.7,442.7 972.0,444.7 990.3,446.7 1008.6,448.7 1027.0,450.7 1045.3,452.8 1063.6,454.8 1082.0,456.6 1100.0,459.7 1117.6,465.3 1135.1,470.9 1152.6,476.5 1170.1,482.5 1187.4,488.8 1204.8,494.9 1222.4,500.6 1239.9,506.3 1257.5,512.0 1275.0,517.7 1292.6,523.1 1310.2,528.8 1327.4,535.6 1344.5,542.4 1361.7,549.3 1378.8,556.1 1396.0,562.9 1413.1,569.8 1430.3,576.6 1447.4,583.5 1464.7,589.7 1482.1,596.0 1499.5,602.2 1516.9,608.0 1534.5,613.5 1552.1,619.0 1569.7,624.5 1587.3,630.0 1603.3,638.8 1618.9,648.7 1634.4,658.7 1650.0,668.6 1665.5,678.6 1681.1,688.5 1696.6,698.5 1712.2,708.4 1727.7,718.3 1743.3,728.3 1758.8,738.2 1774.4,748.2 1789.9,758.1 1805.5,768.1 1821.0,778.0 1836.6,788.0 1852.1,797.9 1867.7,807.8 1883.2,817.8 1888.9,805.0 1873.3,795.3 1857.7,785.5 1842.1,775.7 1826.5,766.0 1810.8,756.2 1795.2,746.4 1779.6,736.7 1764.0,726.9 1748.3,717.1 1732.7,707.4 1717.1,697.6 1701.5,687.8 1685.9,678.1 1670.2,668.3 1654.6,658.5 1639.0,648.8 1623.4,639.0 1607.8,629.2 1592.0,619.7 1574.6,613.8 1557.1,607.9 1539.6,602.0 1522.2,596.1 1504.7,590.3 1487.3,584.4 1469.8,578.5 1452.3,572.6 1435.3,565.7 1418.2,558.7 1401.2,551.7 1384.1,544.8 1367.1,537.8 1350.0,530.9 1332.9,523.9 1315.9,517.0 1298.4,511.3 1280.7,505.9 1263.1,500.5 1245.5,495.1 1227.9,489.7 1210.3,484.3 1192.8,478.4 1175.4,472.4 1158.0,466.3 1140.6,460.2 1123.2,454.2 1105.8,448.1 1087.8,444.8 1069.5,443.2 1051.1,441.6 1032.8,440.0 1014.4,438.4 996.1,436.8 977.7,435.2 959.4,433.6 941.0,432.0 922.7,430.4 904.3,428.8 886.0,427.2 867.6,425.6 849.2,424.0 830.9,422.3 812.5,420.7" fill="#ff0000"/>
<polygon points="812.5,420.7 830.9,422.3 849.2,424.0 867.6,425.6 886.0,427.2 904.3,428.8 922.7,430.4 941.0,432.0 959.4,433.6 977.7,435.2 996.1,436.8 1014.4,438.4 1032.8,440.0 1051.1,441.6 1069.5,443.2 1087.8,444.8 1105.8,448.1 1123.2,454.2 1140.6,460.2 1158.0,466.3 1175.4,472.4 1192.8,478.4 1210.3,484.3 1227.9,489.7 1245.5,495.1 1263.1,500.5 1280.7,505.9 1298.4,511.3 1315.9,517.0 1332.9,523.9 1350.0,530.9 1367.1,537.8 1384.1,544.8 1401.2,551.7 1418.2,558.7 1435.3,565.7 1452.3,572.6 1469.8,578.5 1487.3,584.4 1504.7,590.3 1522.2,596.1 1539.6,602.0 1557.1,607.9 1574.6,613.8 1592.0,619.7 1607.8,629.2 1623.4,639.0 1639.0,648.8 1654.6,658.5 1670.2,668.3 1685.9,678.1 1701.5,687.8 1717.1,697.6 1732.7,707.4 1748.3,717.1 1764.0,726.9 1779.6,736.7 1795.2,746.4 1810.8,756.2 1826.5,766.0 1842.1,775.7 1857.7,785.5 1873.3,795.3 1888.9,805.0 1952.6,666.9 1936.3,659.7 1919.9,652.5 1903.6,645.3 1887.3,638.1 1871.0,630.9 1854.6,623.7 1838.3,616.5 1822.0,609.3 1805.6,602.1 1789.3,594.9 1773.0,587.7 1756.7,580.5 1740.3,573.3 1724.0,566.1 1707.7,558.9 1691.3,551.7 1675.0,544.5 1659.5,535.7 1644.1,526.7 1628.6,517.7 1611.6,512.6 1594.4,507.6 1577.3,502.5 1560.2,497.5 1543.1,492.4 1526.0,487.4 1508.9,482.3 1491.7,477.3 1474.9,471.4 1458.3,464.9 1441.7,458.4 1425.0,451.9 1408.4,445.5 1391.8,439.0 1375.1,432.5 1358.5,426.1 1342.3,418.6 1326.4,410.6 1310.4,402.7 1294.3,395.1 1277.3,389.4 1260.4,383.8 1243.5,378.1 1226.9,371.5 1211.3,363.0 1195.6,354.5 1179.8,346.2 1162.7,341.3 1145.5,336.4 1128.3,331.6 1111.2,326.7 1094.0,321.8 1076.8,317.0 1059.7,312.1 1042.5,307.2 1025.3,302.4 1008.2,297.5 991.0,292.6 973.8,287.8 956.6,282.9 939.5,278.0 922.3,273.2 905.1,268.3" fill="#ff0000"/>
<polygon points="821.8,405.5 840.0,407.4 858.3,409.4 876.5,411.3 894.7,413.2 913.0,415.2 931.2,417.1 949.4,419.0 967.7,420.9 985.9,422.9 1004.1,424.8 1022.4,426.7 1040.6,428.7 1058.9,430.6 1077.1,432.5 1095.3,434.5 1113.2,437.9 1130.5,444.2 1147.7,450.5 1164.9,456.8 1182.2,462.9 1199.6,468.9 1217.0,474.8 1234.5,480.2 1252.0,485.9 1269.4,491.5 1286.9,497.2 1304.4,502.8 1321.8,508.5 1338.8,515.4 1355.8,522.3 1372.8,529.2 1389.9,536.2 1406.9,543.1 1423.9,550.0 1440.9,556.8 1458.0,563.6 1475.4,569.4 1492.9,575.2 1510.3,581.0 1527.7,586.8 1545.1,592.6 1562.6,598.4 1580.0,604.2 1597.2,610.4 1612.9,619.9 1628.5,629.5 1644.2,639.0 1659.9,648.6 1675.6,658.1 1691.3,667.6 1707.0,677.1 1722.7,686.6 1738.4,696.1 1754.1,705.6 1769.8,715.1 1785.5,724.6 1801.2,734.2 1816.8,743.7 1832.5,753.2 1848.2,762.7 1863.9,772.2 1879.6,781.7 1895.3,791.2 1952.6,666.9 1936.3,659.7 1919.9,652.5 1903.6,645.3 1887.3,638.1 1871.0,630.9 1854.6,623.7 1838.3,616.5 1822.0,609.3 1805.6,602.1 1789.3,594.9 1773.0,587.7 1756.7,580.5 1740.3,573.3 1724.0,566.1 1707.7,558.9 1691.3,551.7 1675.0,544.5 1659.5,535.7 1644.1,526.7 1628.6,517.7 1611.6,512.6 1594.4,507.6 1577.3,502.5 1560.2,497.5 1543.1,492.4 1526.0,487.4 1508.9,482.3 1491.7,477.3 1474.9,471.4 1458.3,464.9 1441.7,458.4 1425.0,451.9 1408.4,445.5 1391.8,439.0 1375.1,432.5 1358.5,426.1 1342.3,418.6 1326.4,410.6 1310.4,402.7 1294.3,395.1 1277.3,389.4 1260.4,383.8 1243.5,378.1 1226.9,371.5 1211.3,363.0 1195.6,354.5 1179.8,346.2 1162.7,341.3 1145.5,336.4 1128.3,331.6 1111.2,326.7 1094.0,321.8 1076.8,317.0 1059.7,312.1 1042.5,307.2 1025.3,302.4 1008.2,297.5 991.0,292.6 973.8,287.8 956.6,282.9 939.5,278.0 922.3,273.2 905.1,268.3" fill="#ff0000"/>
<polygon points="831.1,390.3 849.2,392.5 867.3,394.8 885.4,397.0 903.5,399.3 921.6,401.5 939.8,403.8 957.9,406.1 976.0,408.3 994.1,410.6 1012.2,412.8 1030.3,415.1 1048.5,417.3 1066.6,419.6 1084.7,421.8 1102.8,424.1 1120.6,427.7 1137.7,434.2 1154.8,440.8 1171.8,447.3 1189.0,453.5 1206.3,459.5 1223.7,465.3 1241.2,470.8 1258.5,476.6 1275.8,482.5 1293.1,488.4 1310.4,494.2 1327.7,500.1 1344.7,506.9 1361.7,513.8 1378.6,520.7 1395.6,527.5 1412.6,534.4 1429.6,541.2 1446.6,548.0 1463.7,554.6 1481.0,560.3 1498.4,566.0 1515.8,571.7 1533.2,577.4 1550.6,583.1 1568.0,588.9 1585.4,594.6 1602.4,601.1 1618.1,610.5 1633.7,620.1 1649.5,629.3 1665.2,638.6 1681.0,647.8 1696.8,657.1 1712.5,666.4 1728.3,675.6 1744.0,684.9 1759.8,694.1 1775.6,703.4 1791.3,712.6 1807.1,721.9 1822.9,731.1 1838.6,740.4 1854.4,749.6 1870.1,758.9 1885.9,768.1 1901.7,777.4 1952.6,666.9 1936.3,659.7 1919.9,652.5 1903.6,645.3 1887.3,638.1 1871.0,630.9 1854.6,623.7 1838.3,616.5 1822.0,609.3 1805.6,602.1 1789.3,594.9 1773.0,587.7 1756.7,580.5 1740.3,573.3 1724.0,566.1 1707.7,558.9 1691.3,551.7 1675.0,544.5 1659.5,535.7 1644.1,526.7 1628.6,517.7 1611.6,512.6 1594.4,507.6 1577.3,502.5 1560.2,497.5 1543.1,492.4 1526.0,487.4 1508.9,482.3 1491.7,477.3 1474.9,471.4 1458.3,464.9 1441.7,458.4 1425.0,451.9 1408.4,445.5 1391.8,439.0 1375.1,432.5 1358.5,426.1 1342.3,418.6 1326.4,410.6 1310.4,402.7 1294.3,395.1 1277.3,389.4 1260.4,383.8 1243.5,378.1 1226.9,371.5 1211.3,363.0 1195.6,354.5 1179.8,346.2 1162.7,341.3 1145.5,336.4 1128.3,331.6 1111.2,326.7 1094.0,321.8 1076.8,317.0 1059.7,312.1 1042.5,307.2 1025.3,302.4 1008.2,297.5 991.0,292.6 973.8,287.8 956.6,282.9 939.5,278.0 922.3,273.2 905.1,268.3" fill="#ff0000"/>
<polygon points="840.3,375.0 858.3,377.6 876.3,380.2 894.3,382.8 912.3,385.3 930.3,387.9 948.3,390.5 966.3,393.1 984.3,395.7 1002.3,398.3 1020.3,400.8 1038.3,403.4 1056.3,406.0 1074.3,408.6 1092.3,411.2 1110.3,413.8 1128.0,417.5 1144.9,424.3 1161.8,431.1 1178.7,437.9 1195.8,444.1 1213.1,450.0 1230.4,455.8 1247.8,461.3 1265.0,467.4 1282.1,473.5 1299.2,479.7 1316.4,485.7 1333.7,491.6 1350.6,498.4 1367.5,505.3 1384.4,512.1 1401.4,518.9 1418.3,525.7 1435.2,532.5 1452.2,539.2 1469.3,545.5 1486.7,551.2 1504.0,556.8 1521.4,562.4 1538.7,568.1 1556.1,573.7 1573.4,579.3 1590.8,585.0 1607.6,591.8 1623.3,601.2 1638.9,610.6 1654.7,619.6 1670.5,628.6 1686.4,637.6 1702.2,646.6 1718.0,655.6 1733.9,664.6 1749.7,673.6 1765.5,682.6 1781.4,691.6 1797.2,700.6 1813.0,709.6 1828.9,718.6 1844.7,727.6 1860.5,736.6 1876.4,745.6 1892.2,754.6 1908.0,763.6 1952.6,666.9 1936.3,659.7 1919.9,652.5 1903.6,645.3 1887.3,638.1 1871.0,630.9 1854.6,623.7 1838.3,616.5 1822.0,609.3 1805.6,602.1 1789.3,594.9 1773.0,587.7 1756.7,580.5 1740.3,573.3 1724.0,566.1 1707.7,558.9 1691.3,551.7 1675.0,544.5 1659.5,535.7 1644.1,526.7 1628.6,517.7 1611.6,512.6 1594.4,507.6 1577.3,502.5 1560.2,497.5 1543.1,492.4 1526.0,487.4 1508.9,482.3 1491.7,477.3 1474.9,471.4 1458.3,464.9 1441.7,458.4 1425.0,451.9 1408.4,445.5 1391.8,439.0 1375.1,432.5 1358.5,426.1 1342.3,418.6 1326.4,410.6 1310.4,402.7 1294.3,395.1 1277.3,389.4 1260.4,383.8 1243.5,378.1 1226.9,371.5 1211.3,363.0 1195.6,354.5 1179.8,346.2 1162.7,341.3 1145.5,336.4 1128.3,331.6 1111.2,326.7 1094.0,321.8 1076.8,317.0 1059.7,312.1 1042.5,307.2 1025.3,302.4 1008.2,297.5 991.0,292.6 973.8,287.8 956.6,282.9 939.5,278.0 922.3,273.2 905.1,268.3" fill="#ff0000"/>
<polygon points="849.6,359.8 867.5,362.7 885.3,365.6 903.2,368.5 921.1,371.4 939.0,374.3 956.9,377.2 974.7,380.1 992.6,383.0 1010.5,385.9 1028.4,388.9 1046.3,391.8 1064.1,394.7 1082.0,397.6 1099.9,400.5 1117.8,403.4 1135.4,407.3 1152.2,414.3 1168.9,421.3 1185.6,428.4 1202.6,434.7 1219.9,440.6 1237.1,446.4 1254.4,451.9 1271.5,458.1 1288.4,464.5 1305.4,471.0 1322.4,477.2 1339.6,483.2 1356.5,490.0 1373.4,496.7 1390.2,503.5 1407.1,510.2 1424.0,517.0 1440.9,523.8 1457.9,530.3 1475.0,536.5 1492.3,542.1 1509.6,547.6 1526.9,553.2 1544.2,558.7 1561.6,564.2 1578.9,569.8 1596.2,575.4 1612.8,582.5 1628.4,591.8 1644.0,601.2 1659.9,609.9 1675.8,618.7 1691.7,627.4 1707.6,636.1 1723.6,644.9 1739.5,653.6 1755.4,662.4 1771.3,671.1 1787.2,679.8 1803.1,688.6 1819.0,697.3 1834.9,706.1 1850.8,714.8 1866.7,723.5 1882.6,732.3 1898.5,741.0 1914.4,749.8 1952.6,666.9 1936.3,659.7 1919.9,652.5 1903.6,645.3 1887.3,638.1 1871.0,630.9 1854.6,623.7 1838.3,616.5 1822.0,609.3 1805.6,602.1 1789.3,594.9 1773.0,587.7 1756.7,580.5 1740.3,573.3 1724.0,566.1 1707.7,558.9 1691.3,551.7 1675.0,544.5 1659.5,535.7 1644.1,526.7 1628.6,517.7 1611.6,512.6 1594.4,507.6 1577.3,502.5 1560.2,497.5 1543.1,492.4 1526.0,487.4 1508.9,482.3 1491.7,477.3 1474.9,471.4 1458.3,464.9 1441.7,458.4 1425.0,451.9 1408.4,445.5 1391.8,439.0 1375.1,432.5 1358.5,426.1 1342.3,418.6 1326.4,410.6 1310.4,402.7 1294.3,395.1 1277.3,389.4 1260.4,383.8 1243.5,378.1 1226.9,371.5 1211.3,363.0 1195.6,354.5 1179.8,346.2 1162.7,341.3 1145.5,336.4 1128.3,331.6 1111.2,326.7 1094.0,321.8 1076.8,317.0 1059.7,312.1 1042.5,307.2 1025.3,302.4 1008.2,297.5 991.0,292.6 973.8,287.8 956.6,282.9 939.5,278.0 922.3,273.2 905.1,268.3" fill="#ff0000"/>
<polygon points="858.8,344.5 876.6,347.8 894.4,351.0 912.1,354.2 929.9,357.5 947.6,360.7 965.4,363.9 983.2,367.2 1000.9,370.4 1018.7,373.6 1036.5,376.9 1054.2,380.1 1072.0,383.3 1089.7,386.6 1107.5,389.8 1125.3,393.1 1142.8,397.1 1159.4,404.3 1176.0,411.6 1192.5,418.9 1209.4,425.2 1226.6,431.1 1243.8,436.9 1261.1,442.4 1277.9,448.9 1294.7,455.6 1311.5,462.2 1328.4,468.7 1345.5,474.7 1362.4,481.5 1379.2,488.2 1396.0,494.9 1412.9,501.6 1429.7,508.3 1446.6,515.0 1463.5,521.5 1480.6,527.5 1497.9,532.9 1515.2,538.4 1532.5,543.9 1549.8,549.3 1567.0,554.8 1584.3,560.3 1601.6,565.8 1618.0,573.2 1633.6,582.5 1649.2,591.7 1665.2,600.2 1681.1,608.7 1697.1,617.2 1713.1,625.7 1729.1,634.1 1745.0,642.6 1761.0,651.1 1777.0,659.6 1793.0,668.1 1808.9,676.6 1824.9,685.1 1840.9,693.5 1856.9,702.0 1872.8,710.5 1888.8,719.0 1904.8,727.5 1920.8,736.0 1952.6,666.9 1936.3,659.7 1919.9,652.5 1903.6,645.3 1887.3,638.1 1871.0,630.9 1854.6,623.7 1838.3,616.5 1822.0,609.3 1805.6,602.1 1789.3,594.9 1773.0,587.7 1756.7,580.5 1740.3,573.3 1724.0,566.1 1707.7,558.9 1691.3,551.7 1675.0,544.5 1659.5,535.7 1644.1,526.7 1628.6,517.7 1611.6,512.6 1594.4,507.6 1577.3,502.5 1560.2,497.5 1543.1,492.4 1526.0,487.4 1508.9,482.3 1491.7,477.3 1474.9,471.4 1458.3,464.9 1441.7,458.4 1425.0,451.9 1408.4,445.5 1391.8,439.0 1375.1,432.5 1358.5,426.1 1342.3,418.6 1326.4,410.6 1310.4,402.7 1294.3,395.1 1277.3,389.4 1260.4,383.8 1243.5,378.1 1226.9,371.5 1211.3,363.0 1195.6,354.5 1179.8,346.2 1162.7,341.3 1145.5,336.4 1128.3,331.6 1111.2,326.7 1094.0,321.8 1076.8,317.0 1059.7,312.1 1042.5,307.2 1025.3,302.4 1008.2,297.5 991.0,292.6 973.8,287.8 956.6,282.9 939.5,278.0 922.3,273.2 905.1,268.3" fill="#ff0000"/>
<polygon points="868.1,329.3 885.7,332.8 903.4,336.4 921.0,340.0 938.7,343.5 956.3,347.1 974.0,350.6 991.6,354.2 1009.2,357.8 1026.9,361.3 1044.5,364.9 1062.2,368.5 1079.8,372.0 1097.5,375.6 1115.1,379.1 1132.7,382.7 1150.2,386.9 1166.7,394.3 1183.0,401.9 1199.4,409.4 1216.3,415.8 1233.4,421.6 1250.5,427.4 1267.7,432.9 1284.4,439.6 1301.1,446.6 1317.7,453.5 1334.4,460.2 1351.4,466.3 1368.2,473.0 1385.0,479.6 1401.8,486.3 1418.6,493.0 1435.4,499.6 1452.2,506.3 1469.2,512.6 1486.3,518.5 1503.5,523.8 1520.8,529.2 1538.0,534.6 1555.3,540.0 1572.5,545.4 1589.8,550.7 1607.0,556.2 1623.2,563.9 1638.8,573.1 1654.4,582.3 1670.4,590.5 1686.5,598.7 1702.5,607.0 1718.5,615.2 1734.6,623.4 1750.6,631.6 1766.7,639.9 1782.7,648.1 1798.8,656.3 1814.8,664.5 1830.9,672.8 1846.9,681.0 1862.9,689.2 1879.0,697.5 1895.0,705.7 1911.1,713.9 1927.1,722.1 1952.6,666.9 1936.3,659.7 1919.9,652.5 1903.6,645.3 1887.3,638.1 1871.0,630.9 1854.6,623.7 1838.3,616.5 1822.0,609.3 1805.6,602.1 1789.3,594.9 1773.0,587.7 1756.7,580.5 1740.3,573.3 1724.0,566.1 1707.7,558.9 1691.3,551.7 1675.0,544.5 1659.5,535.7 1644.1,526.7 1628.6,517.7 1611.6,512.6 1594.4,507.6 1577.3,502.5 1560.2,497.5 1543.1,492.4 1526.0,487.4 1508.9,482.3 1491.7,477.3 1474.9,471.4 1458.3,464.9 1441.7,458.4 1425.0,451.9 1408.4,445.5 1391.8,439.0 1375.1,432.5 1358.5,426.1 1342.3,418.6 1326.4,410.6 1310.4,402.7 1294.3,395.1 1277.3,389.4 1260.4,383.8 1243.5,378.1 1226.9,371.5 1211.3,363.0 1195.6,354.5 1179.8,346.2 1162.7,341.3 1145.5,336.4 1128.3,331.6 1111.2,326.7 1094.0,321.8 1076.8,317.0 1059.7,312.1 1042.5,307.2 1025.3,302.4 1008.2,297.5 991.0,292.6 973.8,287.8 956.6,282.9 939.5,278.0 922.3,273.2 905.1,268.3" fill="#ff0000"/>
<polygon points="877.4,314.0 894.9,317.9 912.4,321.8 929.9,325.7 947.5,329.6 965.0,333.5 982.5,337.4 1000.0,341.2 1017.6,345.1 1035.1,349.0 1052.6,352.9 1070.1,356.8 1087.7,360.7 1105.2,364.6 1122.7,368.5 1140.2,372.4 1157.6,376.8 1173.9,384.4 1190.1,392.2 1206.3,400.0 1223.1,406.4 1240.1,412.2 1257.2,417.9 1274.3,423.5 1290.9,430.4 1307.4,437.6 1323.9,444.8 1340.5,451.6 1357.4,457.9 1374.1,464.5 1390.9,471.1 1407.6,477.7 1424.4,484.3 1441.2,490.9 1457.9,497.6 1474.8,503.8 1491.9,509.4 1509.1,514.7 1526.3,520.0 1543.6,525.3 1560.8,530.6 1578.0,535.9 1595.2,541.2 1612.4,546.6 1628.4,554.6 1643.9,563.8 1659.5,572.8 1675.6,580.8 1691.8,588.8 1707.9,596.7 1724.0,604.7 1740.1,612.7 1756.2,620.6 1772.3,628.6 1788.5,636.6 1804.6,644.6 1820.7,652.5 1836.8,660.5 1852.9,668.5 1869.0,676.4 1885.1,684.4 1901.3,692.4 1917.4,700.4 1933.5,708.3 1952.6,666.9 1936.3,659.7 1919.9,652.5 1903.6,645.3 1887.3,638.1 1871.0,630.9 1854.6,623.7 1838.3,616.5 1822.0,609.3 1805.6,602.1 1789.3,594.9 1773.0,587.7 1756.7,580.5 1740.3,573.3 1724.0,566.1 1707.7,558.9 1691.3,551.7 1675.0,544.5 1659.5,535.7 1644.1,526.7 1628.6,517.7 1611.6,512.6 1594.4,507.6 1577.3,502.5 1560.2,497.5 1543.1,492.4 1526.0,487.4 1508.9,482.3 1491.7,477.3 1474.9,471.4 1458.3,464.9 1441.7,458.4 1425.0,451.9 1408.4,445.5 1391.8,439.0 1375.1,432.5 1358.5,426.1 1342.3,418.6 1326.4,410.6 1310.4,402.7 1294.3,395.1 1277.3,389.4 1260.4,383.8 1243.5,378.1 1226.9,371.5 1211.3,363.0 1195.6,354.5 1179.8,346.2 1162.7,341.3 1145.5,336.4 1128.3,331.6 1111.2,326.7 1094.0,321.8 1076.8,317.0 1059.7,312.1 1042.5,307.2 1025.3,302.4 1008.2,297.5 991.0,292.6 973.8,287.8 956.6,282.9 939.5,278.0 922.3,273.2 905.1,268.3" fill="#ff0000"/>
<polygon points="886.6,298.8 904.0,303.0 921.4,307.2 938.8,311.4 956.2,315.6 973.6,319.9 991.1,324.1 1008.5,328.3 1025.9,332.5 1043.3,336.7 1060.7,340.9 1078.1,345.1 1095.5,349.4 1112.9,353.6 1130.3,357.8 1147.7,362.0 1165.0,366.6 1181.1,374.4 1197.2,382.5 1213.2,390.5 1229.9,397.0 1246.9,402.7 1263.9,408.4 1281.0,414.0 1297.4,421.2 1313.7,428.6 1330.0,436.0 1346.5,443.1 1363.3,449.4 1380.0,456.0 1396.7,462.6 1413.4,469.1 1430.2,475.7 1446.9,482.3 1463.6,488.8 1480.4,495.0 1497.6,500.4 1514.7,505.6 1531.9,510.8 1549.1,516.0 1566.3,521.3 1583.5,526.5 1600.7,531.7 1617.8,537.0 1633.6,545.3 1649.1,554.4 1664.7,563.4 1680.9,571.1 1697.1,578.8 1713.2,586.5 1729.4,594.2 1745.6,601.9 1761.8,609.7 1778.0,617.4 1794.2,625.1 1810.4,632.8 1826.6,640.5 1842.7,648.2 1858.9,655.9 1875.1,663.7 1891.3,671.4 1907.5,679.1 1923.7,686.8 1939.9,694.5 1952.6,666.9 1936.3,659.7 1919.9,652.5 1903.6,645.3 1887.3,638.1 1871.0,630.9 1854.6,623.7 1838.3,616.5 1822.0,609.3 1805.6,602.1 1789.3,594.9 1773.0,587.7 1756.7,580.5 1740.3,573.3 1724.0,566.1 1707.7,558.9 1691.3,551.7 1675.0,544.5 1659.5,535.7 1644.1,526.7 1628.6,517.7 1611.6,512.6 1594.4,507.6 1577.3,502.5 1560.2,497.5 1543.1,492.4 1526.0,487.4 1508.9,482.3 1491.7,477.3 1474.9,471.4 1458.3,464.9 1441.7,458.4 1425.0,451.9 1408.4,445.5 1391.8,439.0 1375.1,432.5 1358.5,426.1 1342.3,418.6 1326.4,410.6 1310.4,402.7 1294.3,395.1 1277.3,389.4 1260.4,383.8 1243.5,378.1 1226.9,371.5 1211.3,363.0 1195.6,354.5 1179.8,346.2 1162.7,341.3 1145.5,336.4 1128.3,331.6 1111.2,326.7 1094.0,321.8 1076.8,317.0 1059.7,312.1 1042.5,307.2 1025.3,302.4 1008.2,297.5 991.0,292.6 973.8,287.8 956.6,282.9 939.5,278.0 922.3,273.2 905.1,268.3" fill="#ff0000"/>
<polygon points="895.9,283.5 913.2,288.1 930.5,292.6 947.7,297.2 965.0,301.7 982.3,306.2 999.6,310.8 1016.9,315.3 1034.2,319.9 1051.5,324.4 1068.8,329.0 1086.0,333.5 1103.3,338.0 1120.6,342.6 1137.9,347.1 1155.2,351.7 1172.4,356.4 1188.4,364.4 1204.2,372.7 1220.1,381.0 1236.7,387.6 1253.6,393.2 1270.6,398.9 1287.6,404.5 1303.9,411.9 1320.0,419.6 1336.2,427.3 1352.5,434.6 1369.2,441.0 1385.9,447.5 1402.6,454.0 1419.2,460.5 1435.9,467.1 1452.6,473.6 1469.3,480.1 1486.1,486.1 1503.2,491.4 1520.4,496.5 1537.5,501.6 1554.7,506.8 1571.8,511.9 1589.0,517.0 1606.1,522.2 1623.2,527.3 1638.8,536.0 1654.3,545.1 1669.9,553.9 1686.1,561.4 1702.4,568.8 1718.6,576.3 1734.9,583.7 1751.1,591.2 1767.4,598.7 1783.7,606.1 1799.9,613.6 1816.2,621.0 1832.4,628.5 1848.7,635.9 1864.9,643.4 1881.2,650.9 1897.5,658.3 1913.7,665.8 1930.0,673.2 1946.2,680.7 1952.6,666.9 1936.3,659.7 1919.9,652.5 1903.6,645.3 1887.3,638.1 1871.0,630.9 1854.6,623.7 1838.3,616.5 1822.0,609.3 1805.6,602.1 1789.3,594.9 1773.0,587.7 1756.7,580.5 1740.3,573.3 1724.0,566.1 1707.7,558.9 1691.3,551.7 1675.0,544.5 1659.5,535.7 1644.1,526.7 1628.6,517.7 1611.6,512.6 1594.4,507.6 1577.3,502.5 1560.2,497.5 1543.1,492.4 1526.0,487.4 1508.9,482.3 1491.7,477.3 1474.9,471.4 1458.3,464.9 1441.7,458.4 1425.0,451.9 1408.4,445.5 1391.8,439.0 1375.1,432.5 1358.5,426.1 1342.3,418.6 1326.4,410.6 1310.4,402.7 1294.3,395.1 1277.3,389.4 1260.4,383.8 1243.5,378.1 1226.9,371.5 1211.3,363.0 1195.6,354.5 1179.8,346.2 1162.7,341.3 1145.5,336.4 1128.3,331.6 1111.2,326.7 1094.0,321.8 1076.8,317.0 1059.7,312.1 1042.5,307.2 1025.3,302.4 1008.2,297.5 991.0,292.6 973.8,287.8 956.6,282.9 939.5,278.0 922.3,273.2 905.1,268.3" fill="#ff0000"/>
<polygon points="905.1,268.3 922.3,273.2 939.5,278.0 956.6,282.9 973.8,287.8 991.0,292.6 1008.2,297.5 1025.3,302.4 1042.5,307.2 1059.7,312.1 1076.8,317.0 1094.0,321.8 1111.2,326.7 1128.3,331.6 1145.5,336.4 1162.7,341.3 1179.8,346.2 1195.6,354.5 1211.3,363.0 1226.9,371.5 1243.5,378.1 1260.4,383.8 1277.3,389.4 1294.3,395.1 1310.4,402.7 1326.4,410.6 1342.3,418.6 1358.5,426.1 1375.1,432.5 1391.8,439.0 1408.4,445.5 1425.0,451.9 1441.7,458.4 1458.3,464.9 1474.9,471.4 1491.7,477.3 1508.9,482.3 1526.0,487.4 1543.1,492.4 1560.2,497.5 1577.3,502.5 1594.4,507.6 1611.6,512.6 1628.6,517.7 1644.1,526.7 1659.5,535.7 1675.0,544.5 1691.3,551.7 1707.7,558.9 1724.0,566.1 1740.3,573.3 1756.7,580.5 1773.0,587.7 1789.3,594.9 1805.6,602.1 1822.0,609.3 1838.3,616.5 1854.6,623.7 1871.0,630.9 1887.3,638.1 1903.6,645.3 1919.9,652.5 1936.3,659.7 1952.6,666.9 1854.9,469.6 1841.2,465.8 1827.6,462.0 1813.9,458.2 1800.3,454.4 1786.6,450.6 1772.9,446.7 1759.3,442.9 1745.6,439.1 1732.0,435.3 1718.3,431.5 1704.7,427.6 1691.0,423.8 1677.4,420.0 1663.7,416.2 1650.1,412.4 1636.4,408.6 1622.7,404.7 1609.1,400.9 1595.4,397.1 1581.8,393.3 1568.1,389.5 1554.5,385.6 1540.8,381.8 1527.2,378.0 1513.5,374.1 1500.2,369.2 1486.9,364.3 1473.6,359.4 1460.3,354.5 1447.0,349.6 1433.7,344.7 1420.4,339.8 1407.1,334.9 1393.8,330.0 1380.7,324.5 1367.8,318.8 1354.8,313.0 1341.9,307.2 1328.9,301.5 1316.0,295.7 1303.0,289.9 1290.1,284.2 1277.1,278.4 1264.3,272.3 1251.9,265.5 1239.5,258.7 1227.0,251.9 1214.6,245.1 1202.1,238.3 1189.7,231.5 1177.2,224.7 1164.8,217.9 1152.3,211.1 1139.9,204.3 1127.5,197.5 1115.0,190.7 1102.6,183.9 1090.1,177.1 1077.7,170.3 1065.2,163.6 1052.8,156.8 1040.4,150.0 1027.9,143.2" fill="#ff0000"/>
<polygon points="917.4,255.8 934.1,260.8 950.8,265.9 967.5,271.0 984.2,276.0 1000.9,281.1 1017.6,286.1 1034.3,291.2 1051.0,296.3 1067.7,301.3 1084.4,306.4 1101.1,311.4 1117.8,316.5 1134.5,321.6 1151.2,326.6 1167.9,331.7 1184.6,336.7 1200.0,344.9 1215.3,353.3 1230.7,361.6 1246.8,368.2 1263.4,373.8 1279.9,379.5 1296.4,385.1 1312.2,392.5 1327.9,400.3 1343.6,408.0 1359.4,415.3 1375.7,421.7 1392.0,428.1 1408.3,434.4 1424.6,440.7 1440.9,447.1 1457.2,453.4 1473.5,459.7 1489.9,465.5 1506.7,470.5 1523.4,475.6 1540.1,480.6 1556.9,485.5 1573.7,490.5 1590.4,495.4 1607.2,500.3 1624.0,505.3 1639.2,513.8 1654.4,522.3 1669.8,530.5 1685.9,537.3 1701.9,544.2 1718.0,551.1 1734.0,557.9 1750.1,564.8 1766.2,571.7 1782.2,578.5 1798.3,585.4 1814.3,592.3 1830.4,599.1 1846.5,606.0 1862.5,612.8 1878.6,619.7 1894.6,626.6 1910.7,633.4 1926.8,640.3 1942.8,647.2 1854.9,469.6 1841.2,465.8 1827.6,462.0 1813.9,458.2 1800.3,454.4 1786.6,450.6 1772.9,446.7 1759.3,442.9 1745.6,439.1 1732.0,435.3 1718.3,431.5 1704.7,427.6 1691.0,423.8 1677.4,420.0 1663.7,416.2 1650.1,412.4 1636.4,408.6 1622.7,404.7 1609.1,400.9 1595.4,397.1 1581.8,393.3 1568.1,389.5 1554.5,385.6 1540.8,381.8 1527.2,378.0 1513.5,374.1 1500.2,369.2 1486.9,364.3 1473.6,359.4 1460.3,354.5 1447.0,349.6 1433.7,344.7 1420.4,339.8 1407.1,334.9 1393.8,330.0 1380.7,324.5 1367.8,318.8 1354.8,313.0 1341.9,307.2 1328.9,301.5 1316.0,295.7 1303.0,289.9 1290.1,284.2 1277.1,278.4 1264.3,272.3 1251.9,265.5 1239.5,258.7 1227.0,251.9 1214.6,245.1 1202.1,238.3 1189.7,231.5 1177.2,224.7 1164.8,217.9 1152.3,211.1 1139.9,204.3 1127.5,197.5 1115.0,190.7 1102.6,183.9 1090.1,177.1 1077.7,170.3 1065.2,163.6 1052.8,156.8 1040.4,150.0 1027.9,143.2" fill="#ff0000"/>
<polygon points="929.7,243.3 945.9,248.5 962.1,253.8 978.4,259.0 994.6,264.3 1010.8,269.5 1027.0,274.8 1043.3,280.0 1059.5,285.3 1075.7,290.5 1091.9,295.8 1108.2,301.1 1124.4,306.3 1140.6,311.6 1156.8,316.8 1173.1,322.1 1189.3,327.3 1204.4,335.3 1219.4,343.5 1234.4,351.7 1250.2,358.2 1266.3,363.9 1282.5,369.5 1298.6,375.2 1314.1,382.4 1329.5,389.9 1344.8,397.5 1360.4,404.6 1376.3,410.9 1392.2,417.2 1408.1,423.4 1424.1,429.5 1440.1,435.7 1456.0,441.8 1472.0,448.0 1488.1,453.7 1504.5,458.7 1520.8,463.8 1537.2,468.8 1553.6,473.6 1570.0,478.4 1586.4,483.2 1602.9,488.0 1619.3,492.9 1634.3,500.8 1649.4,508.8 1664.6,516.5 1680.4,523.0 1696.2,529.6 1711.9,536.1 1727.7,542.6 1743.5,549.1 1759.3,555.7 1775.1,562.2 1790.9,568.7 1806.7,575.2 1822.5,581.8 1838.3,588.3 1854.1,594.8 1869.9,601.3 1885.7,607.9 1901.5,614.4 1917.3,620.9 1933.0,627.4 1854.9,469.6 1841.2,465.8 1827.6,462.0 1813.9,458.2 1800.3,454.4 1786.6,450.6 1772.9,446.7 1759.3,442.9 1745.6,439.1 1732.0,435.3 1718.3,431.5 1704.7,427.6 1691.0,423.8 1677.4,420.0 1663.7,416.2 1650.1,412.4 1636.4,408.6 1622.7,404.7 1609.1,400.9 1595.4,397.1 1581.8,393.3 1568.1,389.5 1554.5,385.6 1540.8,381.8 1527.2,378.0 1513.5,374.1 1500.2,369.2 1486.9,364.3 1473.6,359.4 1460.3,354.5 1447.0,349.6 1433.7,344.7 1420.4,339.8 1407.1,334.9 1393.8,330.0 1380.7,324.5 1367.8,318.8 1354.8,313.0 1341.9,307.2 1328.9,301.5 1316.0,295.7 1303.0,289.9 1290.1,284.2 1277.1,278.4 1264.3,272.3 1251.9,265.5 1239.5,258.7 1227.0,251.9 1214.6,245.1 1202.1,238.3 1189.7,231.5 1177.2,224.7 1164.8,217.9 1152.3,211.1 1139.9,204.3 1127.5,197.5 1115.0,190.7 1102.6,183.9 1090.1,177.1 1077.7,170.3 1065.2,163.6 1052.8,156.8 1040.4,150.0 1027.9,143.2" fill="#ff0000"/>
<polygon points="942.0,230.8 957.7,236.2 973.5,241.6 989.2,247.1 1005.0,252.5 1020.7,258.0 1036.5,263.4 1052.2,268.9 1068.0,274.3 1083.7,279.8 1099.5,285.2 1115.2,290.7 1131.0,296.1 1146.7,301.5 1162.5,307.0 1178.2,312.4 1194.0,317.9 1208.8,325.7 1223.5,333.7 1238.2,341.8 1253.6,348.2 1269.3,353.9 1285.0,359.6 1300.8,365.3 1315.9,372.3 1331.0,379.6 1346.1,386.9 1361.3,393.9 1376.8,400.1 1392.4,406.3 1408.0,412.3 1423.6,418.3 1439.3,424.3 1454.9,430.3 1470.5,436.3 1486.3,441.9 1502.3,446.9 1518.3,451.9 1534.2,456.9 1550.3,461.6 1566.4,466.3 1582.4,471.0 1598.5,475.7 1614.6,480.4 1629.5,487.9 1644.4,495.3 1659.3,502.5 1674.9,508.7 1690.4,514.9 1705.9,521.1 1721.4,527.3 1737.0,533.5 1752.5,539.7 1768.0,545.8 1783.5,552.0 1799.1,558.2 1814.6,564.4 1830.1,570.6 1845.6,576.8 1861.2,583.0 1876.7,589.1 1892.2,595.3 1907.7,601.5 1923.3,607.7 1854.9,469.6 1841.2,465.8 1827.6,462.0 1813.9,458.2 1800.3,454.4 1786.6,450.6 1772.9,446.7 1759.3,442.9 1745.6,439.1 1732.0,435.3 1718.3,431.5 1704.7,427.6 1691.0,423.8 1677.4,420.0 1663.7,416.2 1650.1,412.4 1636.4,408.6 1622.7,404.7 1609.1,400.9 1595.4,397.1 1581.8,393.3 1568.1,389.5 1554.5,385.6 1540.8,381.8 1527.2,378.0 1513.5,374.1 1500.2,369.2 1486.9,364.3 1473.6,359.4 1460.3,354.5 1447.0,349.6 1433.7,344.7 1420.4,339.8 1407.1,334.9 1393.8,330.0 1380.7,324.5 1367.8,318.8 1354.8,313.0 1341.9,307.2 1328.9,301.5 1316.0,295.7 1303.0,289.9 1290.1,284.2 1277.1,278.4 1264.3,272.3 1251.9,265.5 1239.5,258.7 1227.0,251.9 1214.6,245.1 1202.1,238.3 1189.7,231.5 1177.2,224.7 1164.8,217.9 1152.3,211.1 1139.9,204.3 1127.5,197.5 1115.0,190.7 1102.6,183.9 1090.1,177.1 1077.7,170.3 1065.2,163.6 1052.8,156.8 1040.4,150.0 1027.9,143.2" fill="#ff0000"/>
<polygon points="954.2,218.2 969.5,223.9 984.8,229.5 1000.1,235.2 1015.4,240.8 1030.6,246.4 1045.9,252.1 1061.2,257.7 1076.5,263.4 1091.8,269.0 1107.0,274.6 1122.3,280.3 1137.6,285.9 1152.9,291.5 1168.2,297.2 1183.4,302.8 1198.7,308.5 1213.1,316.1 1227.5,324.0 1241.9,331.8 1256.9,338.2 1272.3,343.9 1287.6,349.6 1302.9,355.3 1317.8,362.2 1332.6,369.3 1347.3,376.3 1362.2,383.1 1377.4,389.3 1392.6,395.4 1407.9,401.3 1423.2,407.1 1438.5,412.9 1453.8,418.8 1469.1,424.6 1484.5,430.1 1500.1,435.1 1515.7,440.1 1531.3,445.1 1547.0,449.7 1562.7,454.3 1578.5,458.8 1594.2,463.4 1609.9,468.0 1624.6,474.9 1639.3,481.8 1654.1,488.6 1669.4,494.4 1684.6,500.3 1699.9,506.1 1715.1,512.0 1730.4,517.8 1745.7,523.7 1760.9,529.5 1776.2,535.4 1791.4,541.2 1806.7,547.0 1822.0,552.9 1837.2,558.7 1852.5,564.6 1867.7,570.4 1883.0,576.3 1898.2,582.1 1913.5,588.0 1854.9,469.6 1841.2,465.8 1827.6,462.0 1813.9,458.2 1800.3,454.4 1786.6,450.6 1772.9,446.7 1759.3,442.9 1745.6,439.1 1732.0,435.3 1718.3,431.5 1704.7,427.6 1691.0,423.8 1677.4,420.0 1663.7,416.2 1650.1,412.4 1636.4,408.6 1622.7,404.7 1609.1,400.9 1595.4,397.1 1581.8,393.3 1568.1,389.5 1554.5,385.6 1540.8,381.8 1527.2,378.0 1513.5,374.1 1500.2,369.2 1486.9,364.3 1473.6,359.4 1460.3,354.5 1447.0,349.6 1433.7,344.7 1420.4,339.8 1407.1,334.9 1393.8,330.0 1380.7,324.5 1367.8,318.8 1354.8,313.0 1341.9,307.2 1328.9,301.5 1316.0,295.7 1303.0,289.9 1290.1,284.2 1277.1,278.4 1264.3,272.3 1251.9,265.5 1239.5,258.7 1227.0,251.9 1214.6,245.1 1202.1,238.3 1189.7,231.5 1177.2,224.7 1164.8,217.9 1152.3,211.1 1139.9,204.3 1127.5,197.5 1115.0,190.7 1102.6,183.9 1090.1,177.1 1077.7,170.3 1065.2,163.6 1052.8,156.8 1040.4,150.0 1027.9,143.2" fill="#f90000"/>
<polygon points="966.5,205.7 981.3,211.6 996.1,217.4 1010.9,223.2 1025.8,229.1 1040.6,234.9 1055.4,240.7 1070.2,246.5 1085.0,252.4 1099.8,258.2 1114.6,264.0 1129.4,269.9 1144.2,275.7 1159.0,281.5 1173.8,287.4 1188.6,293.2 1203.4,299.0 1217.5,306.6 1231.6,314.2 1245.6,321.9 1260.3,328.3 1275.2,334.0 1290.2,339.7 1305.1,345.4 1319.7,352.1 1334.1,358.9 1348.6,365.8 1363.1,372.4 1377.9,378.5 1392.8,384.5 1407.7,390.2 1422.7,395.9 1437.7,401.6 1452.7,407.3 1467.6,412.9 1482.7,418.4 1497.9,423.3 1513.1,428.3 1528.3,433.3 1543.7,437.8 1559.1,442.2 1574.5,446.6 1589.8,451.0 1605.2,455.5 1619.7,461.9 1634.3,468.3 1648.9,474.6 1663.9,480.1 1678.9,485.6 1693.9,491.1 1708.8,496.6 1723.8,502.1 1738.8,507.7 1753.8,513.2 1768.8,518.7 1783.8,524.2 1798.8,529.7 1813.8,535.2 1828.8,540.7 1843.8,546.2 1858.8,551.7 1873.8,557.2 1888.7,562.8 1903.7,568.3 1854.9,469.6 1841.2,465.8 1827.6,462.0 1813.9,458.2 1800.3,454.4 1786.6,450.6 1772.9,446.7 1759.3,442.9 1745.6,439.1 1732.0,435.3 1718.3,431.5 1704.7,427.6 1691.0,423.8 1677.4,420.0 1663.7,416.2 1650.1,412.4 1636.4,408.6 1622.7,404.7 1609.1,400.9 1595.4,397.1 1581.8,393.3 1568.1,389.5 1554.5,385.6 1540.8,381.8 1527.2,378.0 1513.5,374.1 1500.2,369.2 1486.9,364.3 1473.6,359.4 1460.3,354.5 1447.0,349.6 1433.7,344.7 1420.4,339.8 1407.1,334.9 1393.8,330.0 1380.7,324.5 1367.8,318.8 1354.8,313.0 1341.9,307.2 1328.9,301.5 1316.0,295.7 1303.0,289.9 1290.1,284.2 1277.1,278.4 1264.3,272.3 1251.9,265.5 1239.5,258.7 1227.0,251.9 1214.6,245.1 1202.1,238.3 1189.7,231.5 1177.2,224.7 1164.8,217.9 1152.3,211.1 1139.9,204.3 1127.5,197.5 1115.0,190.7 1102.6,183.9 1090.1,177.1 1077.7,170.3 1065.2,163.6 1052.8,156.8 1040.4,150.0 1027.9,143.2" fill="#f00000"/>
<polygon points="978.8,193.2 993.1,199.2 1007.5,205.3 1021.8,211.3 1036.1,217.3 1050.5,223.3 1064.8,229.4 1079.1,235.4 1093.5,241.4 1107.8,247.4 1122.1,253.5 1136.5,259.5 1150.8,265.5 1165.1,271.5 1179.5,277.6 1193.8,283.6 1208.1,289.6 1221.9,297.0 1235.7,304.5 1249.4,312.0 1263.7,318.3 1278.2,324.0 1292.7,329.7 1307.3,335.5 1321.5,341.9 1335.7,348.6 1349.8,355.2 1364.1,361.7 1378.5,367.7 1393.0,373.6 1407.6,379.1 1422.3,384.7 1436.9,390.2 1451.5,395.7 1466.2,401.3 1480.9,406.6 1495.7,411.5 1510.5,416.5 1525.4,421.4 1540.4,425.8 1555.4,430.1 1570.5,434.4 1585.5,438.7 1600.5,443.1 1614.9,449.0 1629.2,454.8 1643.7,460.6 1658.4,465.8 1673.1,471.0 1687.8,476.1 1702.6,481.3 1717.3,486.5 1732.0,491.7 1746.7,496.8 1761.4,502.0 1776.2,507.2 1790.9,512.3 1805.6,517.5 1820.3,522.7 1835.1,527.9 1849.8,533.0 1864.5,538.2 1879.2,543.4 1894.0,548.5 1854.9,469.6 1841.2,465.8 1827.6,462.0 1813.9,458.2 1800.3,454.4 1786.6,450.6 1772.9,446.7 1759.3,442.9 1745.6,439.1 1732.0,435.3 1718.3,431.5 1704.7,427.6 1691.0,423.8 1677.4,420.0 1663.7,416.2 1650.1,412.4 1636.4,408.6 1622.7,404.7 1609.1,400.9 1595.4,397.1 1581.8,393.3 1568.1,389.5 1554.5,385.6 1540.8,381.8 1527.2,378.0 1513.5,374.1 1500.2,369.2 1486.9,364.3 1473.6,359.4 1460.3,354.5 1447.0,349.6 1433.7,344.7 1420.4,339.8 1407.1,334.9 1393.8,330.0 1380.7,324.5 1367.8,318.8 1354.8,313.0 1341.9,307.2 1328.9,301.5 1316.0,295.7 1303.0,289.9 1290.1,284.2 1277.1,278.4 1264.3,272.3 1251.9,265.5 1239.5,258.7 1227.0,251.9 1214.6,245.1 1202.1,238.3 1189.7,231.5 1177.2,224.7 1164.8,217.9 1152.3,211.1 1139.9,204.3 1127.5,197.5 1115.0,190.7 1102.6,183.9 1090.1,177.1 1077.7,170.3 1065.2,163.6 1052.8,156.8 1040.4,150.0 1027.9,143.2" fill="#e70000"/>
<polygon points="991.1,180.7 1004.9,186.9 1018.8,193.1 1032.7,199.4 1046.5,205.6 1060.4,211.8 1074.2,218.0 1088.1,224.2 1102.0,230.4 1115.8,236.7 1129.7,242.9 1143.6,249.1 1157.4,255.3 1171.3,261.5 1185.1,267.7 1199.0,274.0 1212.9,280.2 1226.3,287.4 1239.7,294.7 1253.1,302.1 1267.0,308.3 1281.2,314.1 1295.3,319.8 1309.5,325.5 1323.4,331.8 1337.2,338.2 1351.1,344.7 1365.0,350.9 1379.1,356.9 1393.2,362.7 1407.5,368.1 1421.8,373.5 1436.1,378.8 1450.4,384.2 1464.7,389.6 1479.1,394.8 1493.5,399.7 1508.0,404.7 1522.4,409.6 1537.1,413.9 1551.8,418.0 1566.5,422.2 1581.2,426.4 1595.8,430.6 1610.0,436.0 1624.2,441.4 1638.4,446.7 1652.9,451.5 1667.3,456.3 1681.8,461.2 1696.3,466.0 1710.7,470.8 1725.2,475.7 1739.6,480.5 1754.1,485.3 1768.5,490.1 1783.0,495.0 1797.5,499.8 1811.9,504.6 1826.4,509.5 1840.8,514.3 1855.3,519.1 1869.7,524.0 1884.2,528.8 1854.9,469.6 1841.2,465.8 1827.6,462.0 1813.9,458.2 1800.3,454.4 1786.6,450.6 1772.9,446.7 1759.3,442.9 1745.6,439.1 1732.0,435.3 1718.3,431.5 1704.7,427.6 1691.0,423.8 1677.4,420.0 1663.7,416.2 1650.1,412.4 1636.4,408.6 1622.7,404.7 1609.1,400.9 1595.4,397.1 1581.8,393.3 1568.1,389.5 1554.5,385.6 1540.8,381.8 1527.2,378.0 1513.5,374.1 1500.2,369.2 1486.9,364.3 1473.6,359.4 1460.3,354.5 1447.0,349.6 1433.7,344.7 1420.4,339.8 1407.1,334.9 1393.8,330.0 1380.7,324.5 1367.8,318.8 1354.8,313.0 1341.9,307.2 1328.9,301.5 1316.0,295.7 1303.0,289.9 1290.1,284.2 1277.1,278.4 1264.3,272.3 1251.9,265.5 1239.5,258.7 1227.0,251.9 1214.6,245.1 1202.1,238.3 1189.7,231.5 1177.2,224.7 1164.8,217.9 1152.3,211.1 1139.9,204.3 1127.5,197.5 1115.0,190.7 1102.6,183.9 1090.1,177.1 1077.7,170.3 1065.2,163.6 1052.8,156.8 1040.4,150.0 1027.9,143.2" fill="#df0000"/>
<polygon points="1003.4,168.2 1016.7,174.6 1030.1,181.0 1043.5,187.4 1056.9,193.8 1070.3,200.2 1083.7,206.6 1097.1,213.1 1110.5,219.5 1123.9,225.9 1137.2,232.3 1150.6,238.7 1164.0,245.1 1177.4,251.5 1190.8,257.9 1204.2,264.3 1217.6,270.7 1230.7,277.8 1243.8,285.0 1256.9,292.1 1270.4,298.3 1284.1,304.1 1297.9,309.8 1311.6,315.6 1325.2,321.7 1338.8,327.9 1352.3,334.1 1365.9,340.2 1379.6,346.1 1393.4,351.8 1407.4,357.0 1421.3,362.3 1435.3,367.5 1449.3,372.7 1463.2,377.9 1477.2,383.0 1491.3,387.9 1505.4,392.8 1519.5,397.8 1533.8,401.9 1548.1,406.0 1562.5,410.0 1576.8,414.1 1591.2,418.2 1605.2,423.0 1619.2,427.9 1633.2,432.7 1647.4,437.2 1661.6,441.7 1675.8,446.2 1690.0,450.7 1704.1,455.2 1718.3,459.6 1732.5,464.1 1746.7,468.6 1760.9,473.1 1775.1,477.6 1789.3,482.1 1803.5,486.6 1817.7,491.1 1831.9,495.6 1846.0,500.1 1860.2,504.6 1874.4,509.1 1854.9,469.6 1841.2,465.8 1827.6,462.0 1813.9,458.2 1800.3,454.4 1786.6,450.6 1772.9,446.7 1759.3,442.9 1745.6,439.1 1732.0,435.3 1718.3,431.5 1704.7,427.6 1691.0,423.8 1677.4,420.0 1663.7,416.2 1650.1,412.4 1636.4,408.6 1622.7,404.7 1609.1,400.9 1595.4,397.1 1581.8,393.3 1568.1,389.5 1554.5,385.6 1540.8,381.8 1527.2,378.0 1513.5,374.1 1500.2,369.2 1486.9,364.3 1473.6,359.4 1460.3,354.5 1447.0,349.6 1433.7,344.7 1420.4,339.8 1407.1,334.9 1393.8,330.0 1380.7,324.5 1367.8,318.8 1354.8,313.0 1341.9,307.2 1328.9,301.5 1316.0,295.7 1303.0,289.9 1290.1,284.2 1277.1,278.4 1264.3,272.3 1251.9,265.5 1239.5,258.7 1227.0,251.9 1214.6,245.1 1202.1,238.3 1189.7,231.5 1177.2,224.7 1164.8,217.9 1152.3,211.1 1139.9,204.3 1127.5,197.5 1115.0,190.7 1102.6,183.9 1090.1,177.1 1077.7,170.3 1065.2,163.6 1052.8,156.8 1040.4,150.0 1027.9,143.2" fill="#d60000"/>
<polygon points="1015.6,155.7 1028.5,162.3 1041.5,168.9 1054.4,175.5 1067.3,182.1 1080.2,188.7 1093.1,195.3 1106.0,201.9 1119.0,208.5 1131.9,215.1 1144.8,221.7 1157.7,228.3 1170.6,234.9 1183.5,241.5 1196.5,248.1 1209.4,254.7 1222.3,261.3 1235.1,268.3 1247.8,275.2 1260.6,282.2 1273.7,288.4 1287.1,294.1 1300.5,299.9 1313.8,305.6 1327.1,311.6 1340.3,317.6 1353.6,323.6 1366.9,329.5 1380.2,335.3 1393.6,340.9 1407.2,346.0 1420.9,351.0 1434.5,356.1 1448.1,361.1 1461.8,366.2 1475.4,371.2 1489.1,376.1 1502.8,381.0 1516.5,385.9 1530.5,390.0 1544.5,393.9 1558.5,397.8 1572.5,401.8 1586.5,405.7 1600.3,410.1 1614.1,414.4 1628.0,418.7 1641.9,422.9 1655.8,427.0 1669.7,431.2 1683.7,435.3 1697.6,439.5 1711.5,443.6 1725.4,447.8 1739.4,452.0 1753.3,456.1 1767.2,460.3 1781.1,464.4 1795.0,468.6 1809.0,472.7 1822.9,476.9 1836.8,481.1 1850.7,485.2 1864.6,489.4 1854.9,469.6 1841.2,465.8 1827.6,462.0 1813.9,458.2 1800.3,454.4 1786.6,450.6 1772.9,446.7 1759.3,442.9 1745.6,439.1 1732.0,435.3 1718.3,431.5 1704.7,427.6 1691.0,423.8 1677.4,420.0 1663.7,416.2 1650.1,412.4 1636.4,408.6 1622.7,404.7 1609.1,400.9 1595.4,397.1 1581.8,393.3 1568.1,389.5 1554.5,385.6 1540.8,381.8 1527.2,378.0 1513.5,374.1 1500.2,369.2 1486.9,364.3 1473.6,359.4 1460.3,354.5 1447.0,349.6 1433.7,344.7 1420.4,339.8 1407.1,334.9 1393.8,330.0 1380.7,324.5 1367.8,318.8 1354.8,313.0 1341.9,307.2 1328.9,301.5 1316.0,295.7 1303.0,289.9 1290.1,284.2 1277.1,278.4 1264.3,272.3 1251.9,265.5 1239.5,258.7 1227.0,251.9 1214.6,245.1 1202.1,238.3 1189.7,231.5 1177.2,224.7 1164.8,217.9 1152.3,211.1 1139.9,204.3 1127.5,197.5 1115.0,190.7 1102.6,183.9 1090.1,177.1 1077.7,170.3 1065.2,163.6 1052.8,156.8 1040.4,150.0 1027.9,143.2" fill="#cd0000"/>
<polygon points="1027.9,143.2 1040.4,150.0 1052.8,156.8 1065.2,163.6 1077.7,170.3 1090.1,177.1 1102.6,183.9 1115.0,190.7 1127.5,197.5 1139.9,204.3 1152.3,211.1 1164.8,217.9 1177.2,224.7 1189.7,231.5 1202.1,238.3 1214.6,245.1 1227.0,251.9 1239.5,258.7 1251.9,265.5 1264.3,272.3 1277.1,278.4 1290.1,284.2 1303.0,289.9 1316.0,295.7 1328.9,301.5 1341.9,307.2 1354.8,313.0 1367.8,318.8 1380.7,324.5 1393.8,330.0 1407.1,334.9 1420.4,339.8 1433.7,344.7 1447.0,349.6 1460.3,354.5 1473.6,359.4 1486.9,364.3 1500.2,369.2 1513.5,374.1 1527.2,378.0 1540.8,381.8 1554.5,385.6 1568.1,389.5 1581.8,393.3 1595.4,397.1 1609.1,400.9 1622.7,404.7 1636.4,408.6 1650.1,412.4 1663.7,416.2 1677.4,420.0 1691.0,423.8 1704.7,427.6 1718.3,431.5 1732.0,435.3 1745.6,439.1 1759.3,442.9 1772.9,446.7 1786.6,450.6 1800.3,454.4 1813.9,458.2 1827.6,462.0 1841.2,465.8 1854.9,469.6 1899.9,369.6 1886.2,365.8 1872.6,362.0 1858.9,358.2 1845.3,354.4 1831.6,350.6 1817.9,346.7 1804.3,342.9 1790.6,339.1 1777.0,335.3 1763.3,331.5 1749.7,327.6 1736.0,323.8 1722.4,320.0 1708.7,316.2 1695.1,312.4 1681.4,308.6 1667.7,304.7 1654.1,300.9 1640.4,297.1 1626.8,293.3 1613.1,289.5 1599.5,285.6 1585.8,281.8 1572.2,278.0 1558.5,274.1 1545.2,269.2 1531.9,264.3 1518.6,259.4 1505.3,254.5 1492.0,249.6 1478.7,244.7 1465.4,239.8 1452.1,234.9 1438.8,230.0 1425.7,224.5 1412.8,218.8 1399.8,213.0 1386.9,207.2 1373.9,201.5 1361.0,195.7 1348.0,189.9 1335.1,184.2 1322.1,178.4 1309.3,172.3 1296.9,165.5 1284.5,158.7 1272.0,151.9 1259.6,145.1 1247.1,138.3 1234.7,131.5 1222.2,124.7 1209.8,117.9 1197.3,111.1 1184.9,104.3 1172.5,97.5 1160.0,90.7 1147.6,83.9 1135.1,77.1 1122.7,70.3 1110.2,63.6 1097.8,56.8 1085.4,50.0 1072.9,43.2" fill="#c50000"/>
<polygon points="1032.4,133.2 1044.9,140.0 1057.3,146.8 1069.7,153.6 1082.2,160.3 1094.6,167.1 1107.1,173.9 1119.5,180.7 1132.0,187.5 1144.4,194.3 1156.8,201.1 1169.3,207.9 1181.7,214.7 1194.2,221.5 1206.6,228.3 1219.1,235.1 1231.5,241.9 1244.0,248.7 1256.4,255.5 1268.8,262.3 1281.6,268.4 1294.6,274.2 1307.5,279.9 1320.5,285.7 1333.4,291.5 1346.4,297.2 1359.3,303.0 1372.3,308.8 1385.2,314.5 1398.3,320.0 1411.6,324.9 1424.9,329.8 1438.2,334.7 1451.5,339.6 1464.8,344.5 1478.1,349.4 1491.4,354.3 1504.7,359.2 1518.0,364.1 1531.7,368.0 1545.3,371.8 1559.0,375.6 1572.6,379.5 1586.3,383.3 1599.9,387.1 1613.6,390.9 1627.2,394.7 1640.9,398.6 1654.6,402.4 1668.2,406.2 1681.9,410.0 1695.5,413.8 1709.2,417.6 1722.8,421.5 1736.5,425.3 1750.1,429.1 1763.8,432.9 1777.4,436.7 1791.1,440.6 1804.8,444.4 1818.4,448.2 1832.1,452.0 1845.7,455.8 1859.4,459.6 1899.9,369.6 1886.2,365.8 1872.6,362.0 1858.9,358.2 1845.3,354.4 1831.6,350.6 1817.9,346.7 1804.3,342.9 1790.6,339.1 1777.0,335.3 1763.3,331.5 1749.7,327.6 1736.0,323.8 1722.4,320.0 1708.7,316.2 1695.1,312.4 1681.4,308.6 1667.7,304.7 1654.1,300.9 1640.4,297.1 1626.8,293.3 1613.1,289.5 1599.5,285.6 1585.8,281.8 1572.2,278.0 1558.5,274.1 1545.2,269.2 1531.9,264.3 1518.6,259.4 1505.3,254.5 1492.0,249.6 1478.7,244.7 1465.4,239.8 1452.1,234.9 1438.8,230.0 1425.7,224.5 1412.8,218.8 1399.8,213.0 1386.9,207.2 1373.9,201.5 1361.0,195.7 1348.0,189.9 1335.1,184.2 1322.1,178.4 1309.3,172.3 1296.9,165.5 1284.5,158.7 1272.0,151.9 1259.6,145.1 1247.1,138.3 1234.7,131.5 1222.2,124.7 1209.8,117.9 1197.3,111.1 1184.9,104.3 1172.5,97.5 1160.0,90.7 1147.6,83.9 1135.1,77.1 1122.7,70.3 1110.2,63.6 1097.8,56.8 1085.4,50.0 1072.9,43.2" fill="#bc0000"/>
<polygon points="1036.9,123.2 1049.4,130.0 1061.8,136.8 1074.2,143.6 1086.7,150.3 1099.1,157.1 1111.6,163.9 1124.0,170.7 1136.5,177.5 1148.9,184.3 1161.3,191.1 1173.8,197.9 1186.2,204.7 1198.7,211.5 1211.1,218.3 1223.6,225.1 1236.0,231.9 1248.5,238.7 1260.9,245.5 1273.3,252.3 1286.1,258.4 1299.1,264.2 1312.0,269.9 1325.0,275.7 1337.9,281.5 1350.9,287.2 1363.8,293.0 1376.8,298.8 1389.7,304.5 1402.8,310.0 1416.1,314.9 1429.4,319.8 1442.7,324.7 1456.0,329.6 1469.3,334.5 1482.6,339.4 1495.9,344.3 1509.2,349.2 1522.5,354.1 1536.2,358.0 1549.8,361.8 1563.5,365.6 1577.1,369.5 1590.8,373.3 1604.4,377.1 1618.1,380.9 1631.7,384.7 1645.4,388.6 1659.1,392.4 1672.7,396.2 1686.4,400.0 1700.0,403.8 1713.7,407.6 1727.3,411.5 1741.0,415.3 1754.6,419.1 1768.3,422.9 1781.9,426.7 1795.6,430.6 1809.3,434.4 1822.9,438.2 1836.6,442.0 1850.2,445.8 1863.9,449.6 1899.9,369.6 1886.2,365.8 1872.6,362.0 1858.9,358.2 1845.3,354.4 1831.6,350.6 1817.9,346.7 1804.3,342.9 1790.6,339.1 1777.0,335.3 1763.3,331.5 1749.7,327.6 1736.0,323.8 1722.4,320.0 1708.7,316.2 1695.1,312.4 1681.4,308.6 1667.7,304.7 1654.1,300.9 1640.4,297.1 1626.8,293.3 1613.1,289.5 1599.5,285.6 1585.8,281.8 1572.2,278.0 1558.5,274.1 1545.2,269.2 1531.9,264.3 1518.6,259.4 1505.3,254.5 1492.0,249.6 1478.7,244.7 1465.4,239.8 1452.1,234.9 1438.8,230.0 1425.7,224.5 1412.8,218.8 1399.8,213.0 1386.9,207.2 1373.9,201.5 1361.0,195.7 1348.0,189.9 1335.1,184.2 1322.1,178.4 1309.3,172.3 1296.9,165.5 1284.5,158.7 1272.0,151.9 1259.6,145.1 1247.1,138.3 1234.7,131.5 1222.2,124.7 1209.8,117.9 1197.3,111.1 1184.9,104.3 1172.5,97.5 1160.0,90.7 1147.6,83.9 1135.1,77.1 1122.7,70.3 1110.2,63.6 1097.8,56.8 1085.4,50.0 1072.9,43.2" fill="#b40000"/>
<polygon points="1041.4,113.2 1053.9,120.0 1066.3,126.8 1078.7,133.6 1091.2,140.3 1103.6,147.1 1116.1,153.9 1128.5,160.7 1141.0,167.5 1153.4,174.3 1165.8,181.1 1178.3,187.9 1190.7,194.7 1203.2,201.5 1215.6,208.3 1228.1,215.1 1240.5,221.9 1253.0,228.7 1265.4,235.5 1277.8,242.3 1290.6,248.4 1303.6,254.2 1316.5,259.9 1329.5,265.7 1342.4,271.5 1355.4,277.2 1368.3,283.0 1381.3,288.8 1394.2,294.5 1407.3,300.0 1420.6,304.9 1433.9,309.8 1447.2,314.7 1460.5,319.6 1473.8,324.5 1487.1,329.4 1500.4,334.3 1513.7,339.2 1527.0,344.1 1540.7,348.0 1554.3,351.8 1568.0,355.6 1581.6,359.5 1595.3,363.3 1608.9,367.1 1622.6,370.9 1636.2,374.7 1649.9,378.6 1663.6,382.4 1677.2,386.2 1690.9,390.0 1704.5,393.8 1718.2,397.6 1731.8,401.5 1745.5,405.3 1759.1,409.1 1772.8,412.9 1786.4,416.7 1800.1,420.6 1813.8,424.4 1827.4,428.2 1841.1,432.0 1854.7,435.8 1868.4,439.6 1899.9,369.6 1886.2,365.8 1872.6,362.0 1858.9,358.2 1845.3,354.4 1831.6,350.6 1817.9,346.7 1804.3,342.9 1790.6,339.1 1777.0,335.3 1763.3,331.5 1749.7,327.6 1736.0,323.8 1722.4,320.0 1708.7,316.2 1695.1,312.4 1681.4,308.6 1667.7,304.7 1654.1,300.9 1640.4,297.1 1626.8,293.3 1613.1,289.5 1599.5,285.6 1585.8,281.8 1572.2,278.0 1558.5,274.1 1545.2,269.2 1531.9,264.3 1518.6,259.4 1505.3,254.5 1492.0,249.6 1478.7,244.7 1465.4,239.8 1452.1,234.9 1438.8,230.0 1425.7,224.5 1412.8,218.8 1399.8,213.0 1386.9,207.2 1373.9,201.5 1361.0,195.7 1348.0,189.9 1335.1,184.2 1322.1,178.4 1309.3,172.3 1296.9,165.5 1284.5,158.7 1272.0,151.9 1259.6,145.1 1247.1,138.3 1234.7,131.5 1222.2,124.7 1209.8,117.9 1197.3,111.1 1184.9,104.3 1172.5,97.5 1160.0,90.7 1147.6,83.9 1135.1,77.1 1122.7,70.3 1110.2,63.6 1097.8,56.8 1085.4,50.0 1072.9,43.2" fill="#ab0000"/>
<polygon points="1045.9,103.2 1058.4,110.0 1070.8,116.8 1083.2,123.6 1095.7,130.3 1108.1,137.1 1120.6,143.9 1133.0,150.7 1145.5,157.5 1157.9,164.3 1170.3,171.1 1182.8,177.9 1195.2,184.7 1207.7,191.5 1220.1,198.3 1232.6,205.1 1245.0,211.9 1257.5,218.7 1269.9,225.5 1282.3,232.3 1295.1,238.4 1308.1,244.2 1321.0,249.9 1334.0,255.7 1346.9,261.5 1359.9,267.2 1372.8,273.0 1385.8,278.8 1398.7,284.5 1411.8,290.0 1425.1,294.9 1438.4,299.8 1451.7,304.7 1465.0,309.6 1478.3,314.5 1491.6,319.4 1504.9,324.3 1518.2,329.2 1531.5,334.1 1545.2,338.0 1558.8,341.8 1572.5,345.6 1586.1,349.5 1599.8,353.3 1613.4,357.1 1627.1,360.9 1640.7,364.7 1654.4,368.6 1668.1,372.4 1681.7,376.2 1695.4,380.0 1709.0,383.8 1722.7,387.6 1736.3,391.5 1750.0,395.3 1763.6,399.1 1777.3,402.9 1790.9,406.7 1804.6,410.6 1818.3,414.4 1831.9,418.2 1845.6,422.0 1859.2,425.8 1872.9,429.6 1899.9,369.6 1886.2,365.8 1872.6,362.0 1858.9,358.2 1845.3,354.4 1831.6,350.6 1817.9,346.7 1804.3,342.9 1790.6,339.1 1777.0,335.3 1763.3,331.5 1749.7,327.6 1736.0,323.8 1722.4,320.0 1708.7,316.2 1695.1,312.4 1681.4,308.6 1667.7,304.7 1654.1,300.9 1640.4,297.1 1626.8,293.3 1613.1,289.5 1599.5,285.6 1585.8,281.8 1572.2,278.0 1558.5,274.1 1545.2,269.2 1531.9,264.3 1518.6,259.4 1505.3,254.5 1492.0,249.6 1478.7,244.7 1465.4,239.8 1452.1,234.9 1438.8,230.0 1425.7,224.5 1412.8,218.8 1399.8,213.0 1386.9,207.2 1373.9,201.5 1361.0,195.7 1348.0,189.9 1335.1,184.2 1322.1,178.4 1309.3,172.3 1296.9,165.5 1284.5,158.7 1272.0,151.9 1259.6,145.1 1247.1,138.3 1234.7,131.5 1222.2,124.7 1209.8,117.9 1197.3,111.1 1184.9,104.3 1172.5,97.5 1160.0,90.7 1147.6,83.9 1135.1,77.1 1122.7,70.3 1110.2,63.6 1097.8,56.8 1085.4,50.0 1072.9,43.2" fill="#a20000"/>
<polygon points="1050.4,93.2 1062.9,100.0 1075.3,106.8 1087.7,113.6 1100.2,120.3 1112.6,127.1 1125.1,133.9 1137.5,140.7 1150.0,147.5 1162.4,154.3 1174.8,161.1 1187.3,167.9 1199.7,174.7 1212.2,181.5 1224.6,188.3 1237.1,195.1 1249.5,201.9 1262.0,208.7 1274.4,215.5 1286.8,222.3 1299.6,228.4 1312.6,234.2 1325.5,239.9 1338.5,245.7 1351.4,251.5 1364.4,257.2 1377.3,263.0 1390.3,268.8 1403.2,274.5 1416.3,280.0 1429.6,284.9 1442.9,289.8 1456.2,294.7 1469.5,299.6 1482.8,304.5 1496.1,309.4 1509.4,314.3 1522.7,319.2 1536.0,324.1 1549.7,328.0 1563.3,331.8 1577.0,335.6 1590.6,339.5 1604.3,343.3 1617.9,347.1 1631.6,350.9 1645.2,354.7 1658.9,358.6 1672.6,362.4 1686.2,366.2 1699.9,370.0 1713.5,373.8 1727.2,377.6 1740.8,381.5 1754.5,385.3 1768.1,389.1 1781.8,392.9 1795.4,396.7 1809.1,400.6 1822.8,404.4 1836.4,408.2 1850.1,412.0 1863.7,415.8 1877.4,419.6 1899.9,369.6 1886.2,365.8 1872.6,362.0 1858.9,358.2 1845.3,354.4 1831.6,350.6 1817.9,346.7 1804.3,342.9 1790.6,339.1 1777.0,335.3 1763.3,331.5 1749.7,327.6 1736.0,323.8 1722.4,320.0 1708.7,316.2 1695.1,312.4 1681.4,308.6 1667.7,304.7 1654.1,300.9 1640.4,297.1 1626.8,293.3 1613.1,289.5 1599.5,285.6 1585.8,281.8 1572.2,278.0 1558.5,274.1 1545.2,269.2 1531.9,264.3 1518.6,259.4 1505.3,254.5 1492.0,249.6 1478.7,244.7 1465.4,239.8 1452.1,234.9 1438.8,230.0 1425.7,224.5 1412.8,218.8 1399.8,213.0 1386.9,207.2 1373.9,201.5 1361.0,195.7 1348.0,189.9 1335.1,184.2 1322.1,178.4 1309.3,172.3 1296.9,165.5 1284.5,158.7 1272.0,151.9 1259.6,145.1 1247.1,138.3 1234.7,131.5 1222.2,124.7 1209.8,117.9 1197.3,111.1 1184.9,104.3 1172.5,97.5 1160.0,90.7 1147.6,83.9 1135.1,77.1 1122.7,70.3 1110.2,63.6 1097.8,56.8 1085.4,50.0 1072.9,43.2" fill="#9a0000"/>
<polygon points="1054.9,83.2 1067.4,90.0 1079.8,96.8 1092.2,103.6 1104.7,110.3 1117.1,117.1 1129.6,123.9 1142.0,130.7 1154.5,137.5 1166.9,144.3 1179.3,151.1 1191.8,157.9 1204.2,164.7 1216.7,171.5 1229.1,178.3 1241.6,185.1 1254.0,191.9 1266.5,198.7 1278.9,205.5 1291.3,212.3 1304.1,218.4 1317.1,224.2 1330.0,229.9 1343.0,235.7 1355.9,241.5 1368.9,247.2 1381.8,253.0 1394.8,258.8 1407.7,264.5 1420.8,270.0 1434.1,274.9 1447.4,279.8 1460.7,284.7 1474.0,289.6 1487.3,294.5 1500.6,299.4 1513.9,304.3 1527.2,309.2 1540.5,314.1 1554.2,318.0 1567.8,321.8 1581.5,325.6 1595.1,329.5 1608.8,333.3 1622.4,337.1 1636.1,340.9 1649.7,344.7 1663.4,348.6 1677.1,352.4 1690.7,356.2 1704.4,360.0 1718.0,363.8 1731.7,367.6 1745.3,371.5 1759.0,375.3 1772.6,379.1 1786.3,382.9 1799.9,386.7 1813.6,390.6 1827.3,394.4 1840.9,398.2 1854.6,402.0 1868.2,405.8 1881.9,409.6 1899.9,369.6 1886.2,365.8 1872.6,362.0 1858.9,358.2 1845.3,354.4 1831.6,350.6 1817.9,346.7 1804.3,342.9 1790.6,339.1 1777.0,335.3 1763.3,331.5 1749.7,327.6 1736.0,323.8 1722.4,320.0 1708.7,316.2 1695.1,312.4 1681.4,308.6 1667.7,304.7 1654.1,300.9 1640.4,297.1 1626.8,293.3 1613.1,289.5 1599.5,285.6 1585.8,281.8 1572.2,278.0 1558.5,274.1 1545.2,269.2 1531.9,264.3 1518.6,259.4 1505.3,254.5 1492.0,249.6 1478.7,244.7 1465.4,239.8 1452.1,234.9 1438.8,230.0 1425.7,224.5 1412.8,218.8 1399.8,213.0 1386.9,207.2 1373.9,201.5 1361.0,195.7 1348.0,189.9 1335.1,184.2 1322.1,178.4 1309.3,172.3 1296.9,165.5 1284.5,158.7 1272.0,151.9 1259.6,145.1 1247.1,138.3 1234.7,131.5 1222.2,124.7 1209.8,117.9 1197.3,111.1 1184.9,104.3 1172.5,97.5 1160.0,90.7 1147.6,83.9 1135.1,77.1 1122.7,70.3 1110.2,63.6 1097.8,56.8 1085.4,50.0 1072.9,43.2" fill="#910000"/>
<polygon points="1059.4,73.2 1071.9,80.0 1084.3,86.8 1096.7,93.6 1109.2,100.3 1121.6,107.1 1134.1,113.9 1146.5,120.7 1159.0,127.5 1171.4,134.3 1183.8,141.1 1196.3,147.9 1208.7,154.7 1221.2,161.5 1233.6,168.3 1246.1,175.1 1258.5,181.9 1271.0,188.7 1283.4,195.5 1295.8,202.3 1308.6,208.4 1321.6,214.2 1334.5,219.9 1347.5,225.7 1360.4,231.5 1373.4,237.2 1386.3,243.0 1399.3,248.8 1412.2,254.5 1425.3,260.0 1438.6,264.9 1451.9,269.8 1465.2,274.7 1478.5,279.6 1491.8,284.5 1505.1,289.4 1518.4,294.3 1531.7,299.2 1545.0,304.1 1558.7,308.0 1572.3,311.8 1586.0,315.6 1599.6,319.5 1613.3,323.3 1626.9,327.1 1640.6,330.9 1654.2,334.7 1667.9,338.6 1681.6,342.4 1695.2,346.2 1708.9,350.0 1722.5,353.8 1736.2,357.6 1749.8,361.5 1763.5,365.3 1777.1,369.1 1790.8,372.9 1804.4,376.7 1818.1,380.6 1831.8,384.4 1845.4,388.2 1859.1,392.0 1872.7,395.8 1886.4,399.6 1899.9,369.6 1886.2,365.8 1872.6,362.0 1858.9,358.2 1845.3,354.4 1831.6,350.6 1817.9,346.7 1804.3,342.9 1790.6,339.1 1777.0,335.3 1763.3,331.5 1749.7,327.6 1736.0,323.8 1722.4,320.0 1708.7,316.2 1695.1,312.4 1681.4,308.6 1667.7,304.7 1654.1,300.9 1640.4,297.1 1626.8,293.3 1613.1,289.5 1599.5,285.6 1585.8,281.8 1572.2,278.0 1558.5,274.1 1545.2,269.2 1531.9,264.3 1518.6,259.4 1505.3,254.5 1492.0,249.6 1478.7,244.7 1465.4,239.8 1452.1,234.9 1438.8,230.0 1425.7,224.5 1412.8,218.8 1399.8,213.0 1386.9,207.2 1373.9,201.5 1361.0,195.7 1348.0,189.9 1335.1,184.2 1322.1,178.4 1309.3,172.3 1296.9,165.5 1284.5,158.7 1272.0,151.9 1259.6,145.1 1247.1,138.3 1234.7,131.5 1222.2,124.7 1209.8,117.9 1197.3,111.1 1184.9,104.3 1172.5,97.5 1160.0,90.7 1147.6,83.9 1135.1,77.1 1122.7,70.3 1110.2,63.6 1097.8,56.8 1085.4,50.0 1072.9,43.2" fill="#890000"/>
<polygon points="1063.9,63.2 1076.4,70.0 1088.8,76.8 1101.2,83.6 1113.7,90.3 1126.1,97.1 1138.6,103.9 1151.0,110.7 1163.5,117.5 1175.9,124.3 1188.3,131.1 1200.8,137.9 1213.2,144.7 1225.7,151.5 1238.1,158.3 1250.6,165.1 1263.0,171.9 1275.5,178.7 1287.9,185.5 1300.3,192.3 1313.1,198.4 1326.1,204.2 1339.0,209.9 1352.0,215.7 1364.9,221.5 1377.9,227.2 1390.8,233.0 1403.8,238.8 1416.7,244.5 1429.8,250.0 1443.1,254.9 1456.4,259.8 1469.7,264.7 1483.0,269.6 1496.3,274.5 1509.6,279.4 1522.9,284.3 1536.2,289.2 1549.5,294.1 1563.2,298.0 1576.8,301.8 1590.5,305.6 1604.1,309.5 1617.8,313.3 1631.4,317.1 1645.1,320.9 1658.7,324.7 1672.4,328.6 1686.1,332.4 1699.7,336.2 1713.4,340.0 1727.0,343.8 1740.7,347.6 1754.3,351.5 1768.0,355.3 1781.6,359.1 1795.3,362.9 1808.9,366.7 1822.6,370.6 1836.3,374.4 1849.9,378.2 1863.6,382.0 1877.2,385.8 1890.9,389.6 1899.9,369.6 1886.2,365.8 1872.6,362.0 1858.9,358.2 1845.3,354.4 1831.6,350.6 1817.9,346.7 1804.3,342.9 1790.6,339.1 1777.0,335.3 1763.3,331.5 1749.7,327.6 1736.0,323.8 1722.4,320.0 1708.7,316.2 1695.1,312.4 1681.4,308.6 1667.7,304.7 1654.1,300.9 1640.4,297.1 1626.8,293.3 1613.1,289.5 1599.5,285.6 1585.8,281.8 1572.2,278.0 1558.5,274.1 1545.2,269.2 1531.9,264.3 1518.6,259.4 1505.3,254.5 1492.0,249.6 1478.7,244.7 1465.4,239.8 1452.1,234.9 1438.8,230.0 1425.7,224.5 1412.8,218.8 1399.8,213.0 1386.9,207.2 1373.9,201.5 1361.0,195.7 1348.0,189.9 1335.1,184.2 1322.1,178.4 1309.3,172.3 1296.9,165.5 1284.5,158.7 1272.0,151.9 1259.6,145.1 1247.1,138.3 1234.7,131.5 1222.2,124.7 1209.8,117.9 1197.3,111.1 1184.9,104.3 1172.5,97.5 1160.0,90.7 1147.6,83.9 1135.1,77.1 1122.7,70.3 1110.2,63.6 1097.8,56.8 1085.4,50.0 1072.9,43.2" fill="#800000"/>
<polygon points="1068.4,53.2 1080.9,60.0 1093.3,66.8 1105.7,73.6 1118.2,80.3 1130.6,87.1 1143.1,93.9 1155.5,100.7 1168.0,107.5 1180.4,114.3 1192.8,121.1 1205.3,127.9 1217.7,134.7 1230.2,141.5 1242.6,148.3 1255.1,155.1 1267.5,161.9 1280.0,168.7 1292.4,175.5 1304.8,182.3 1317.6,188.4 1330.6,194.2 1343.5,199.9 1356.5,205.7 1369.4,211.5 1382.4,217.2 1395.3,223.0 1408.3,228.8 1421.2,234.5 1434.3,240.0 1447.6,244.9 1460.9,249.8 1474.2,254.7 1487.5,259.6 1500.8,264.5 1514.1,269.4 1527.4,274.3 1540.7,279.2 1554.0,284.1 1567.7,288.0 1581.3,291.8 1595.0,295.6 1608.6,299.5 1622.3,303.3 1635.9,307.1 1649.6,310.9 1663.2,314.7 1676.9,318.6 1690.6,322.4 1704.2,326.2 1717.9,330.0 1731.5,333.8 1745.2,337.6 1758.8,341.5 1772.5,345.3 1786.1,349.1 1799.8,352.9 1813.4,356.7 1827.1,360.6 1840.8,364.4 1854.4,368.2 1868.1,372.0 1881.7,375.8 1895.4,379.6 1899.9,369.6 1886.2,365.8 1872.6,362.0 1858.9,358.2 1845.3,354.4 1831.6,350.6 1817.9,346.7 1804.3,342.9 1790.6,339.1 1777.0,335.3 1763.3,331.5 1749.7,327.6 1736.0,323.8 1722.4,320.0 1708.7,316.2 1695.1,312.4 1681.4,308.6 1667.7,304.7 1654.1,300.9 1640.4,297.1 1626.8,293.3 1613.1,289.5 1599.5,285.6 1585.8,281.8 1572.2,278.0 1558.5,274.1 1545.2,269.2 1531.9,264.3 1518.6,259.4 1505.3,254.5 1492.0,249.6 1478.7,244.7 1465.4,239.8 1452.1,234.9 1438.8,230.0 1425.7,224.5 1412.8,218.8 1399.8,213.0 1386.9,207.2 1373.9,201.5 1361.0,195.7 1348.0,189.9 1335.1,184.2 1322.1,178.4 1309.3,172.3 1296.9,165.5 1284.5,158.7 1272.0,151.9 1259.6,145.1 1247.1,138.3 1234.7,131.5 1222.2,124.7 1209.8,117.9 1197.3,111.1 1184.9,104.3 1172.5,97.5 1160.0,90.7 1147.6,83.9 1135.1,77.1 1122.7,70.3 1110.2,63.6 1097.8,56.8 1085.4,50.0 1072.9,43.2" fill="#770000"/>
<polyline points="845.3,1342.5 948.1,1388.7 1068.0,1424.7 1159.7,1459.8" fill="none" stroke="#484848" stroke-opacity="0.85" stroke-width="1.3"/>
<polyline points="549.1,1061.0 609.0,1058.2 694.5,1074.0 787.1,1149.7 852.2,1166.8 913.8,1165.1 1016.3,1195.0 1137.0,1260.2 1239.5,1266.6 1308.1,1303.4" fill="none" stroke="#484848" stroke-opacity="0.85" stroke-width="1.3"/>
<polyline points="664.9,899.8 761.8,939.4 802.9,948.2 882.2,947.6 979.0,989.3 1201.2,1065.3 1296.8,1080.2 1426.3,1162.9" fill="none" stroke="#484848" stroke-opacity="0.85" stroke-width="1.3"/>
<polyline points="854.3,750.1 955.5,807.3 1055.3,836.7 1276.0,923.0 1409.6,998.4 1527.7,1030.9" fill="none" stroke="#484848" stroke-opacity="0.85" stroke-width="1.3"/>
<polyline points="914.3,646.5 935.0,658.0 1033.0,685.3 1060.0,688.5 1180.1,741.5 1317.1,792.9 1437.0,861.4 1611.6,906.6" fill="none" stroke="#484848" stroke-opacity="0.85" stroke-width="1.3"/>
<polyline points="968.6,545.6 1020.0,561.7 1114.0,569.5 1224.8,624.5 1395.9,678.2 1461.0,714.1 1563.7,725.1 1657.9,798.0" fill="none" stroke="#484848" stroke-opacity="0.85" stroke-width="1.3"/>
<polyline points="1031.7,439.9 1099.2,445.8 1206.0,483.0 1312.8,515.7 1452.3,572.6 1593.0,620.0 1702.4,688.4" fill="none" stroke="#484848" stroke-opacity="0.85" stroke-width="1.3"/>
<polyline points="1116.8,328.3 1181.0,346.5 1232.0,374.3 1297.0,396.0 1353.2,424.0 1485.3,475.4 1628.4,517.6 1672.4,543.3 1751.3,578.1" fill="none" stroke="#484848" stroke-opacity="0.85" stroke-width="1.3"/>
<polyline points="1221.0,248.6 1268.8,274.7 1389.9,328.6 1514.6,374.5 1643.0,410.4" fill="none" stroke="#484848" stroke-opacity="0.85" stroke-width="1.3"/>
</g>
<line x1="392.0" y1="1279.6" x2="321.3" y2="289.6" stroke="#000" stroke-width="4.2" stroke-linecap="square"/>
<line x1="392.0" y1="1279.6" x2="1047.6" y2="1763.7" stroke="#000" stroke-width="4.2" stroke-linecap="square"/>
<line x1="1047.6" y1="1763.7" x2="1878.0" y2="1350.8" stroke="#000" stroke-width="4.2" stroke-linecap="square"/>
<line x1="392.0" y1="1279.6" x2="370.1" y2="1288.1" stroke="#000" stroke-width="3.4"/>
<line x1="384.8" y1="1178.3" x2="362.6" y2="1186.6" stroke="#000" stroke-width="3.4"/>
<line x1="377.4" y1="1075.0" x2="355.0" y2="1083.0" stroke="#000" stroke-width="3.4"/>
<line x1="369.9" y1="969.6" x2="347.2" y2="977.3" stroke="#000" stroke-width="3.4"/>
<line x1="362.2" y1="862.1" x2="339.3" y2="869.5" stroke="#000" stroke-width="3.4"/>
<line x1="354.4" y1="752.3" x2="331.2" y2="759.5" stroke="#000" stroke-width="3.4"/>
<line x1="346.4" y1="640.2" x2="322.9" y2="647.1" stroke="#000" stroke-width="3.4"/>
<line x1="338.2" y1="525.8" x2="314.5" y2="532.4" stroke="#000" stroke-width="3.4"/>
<line x1="329.9" y1="408.9" x2="305.9" y2="415.2" stroke="#000" stroke-width="3.4"/>
<line x1="321.3" y1="289.6" x2="297.1" y2="295.5" stroke="#000" stroke-width="3.4"/>
<line x1="1047.6" y1="1763.7" x2="1029.0" y2="1773.0" stroke="#000" stroke-width="3.4"/>
<line x1="984.4" y1="1717.1" x2="974.5" y2="1721.9" stroke="#000" stroke-width="3.4"/>
<line x1="923.0" y1="1671.7" x2="904.6" y2="1680.5" stroke="#000" stroke-width="3.4"/>
<line x1="863.3" y1="1627.6" x2="853.4" y2="1632.2" stroke="#000" stroke-width="3.4"/>
<line x1="805.2" y1="1584.7" x2="787.0" y2="1593.0" stroke="#000" stroke-width="3.4"/>
<line x1="748.7" y1="1543.0" x2="738.9" y2="1547.3" stroke="#000" stroke-width="3.4"/>
<line x1="693.7" y1="1502.4" x2="675.6" y2="1510.2" stroke="#000" stroke-width="3.4"/>
<line x1="640.1" y1="1462.8" x2="630.5" y2="1466.9" stroke="#000" stroke-width="3.4"/>
<line x1="587.9" y1="1424.3" x2="570.1" y2="1431.7" stroke="#000" stroke-width="3.4"/>
<line x1="537.1" y1="1386.7" x2="527.5" y2="1390.6" stroke="#000" stroke-width="3.4"/>
<line x1="487.5" y1="1350.1" x2="469.9" y2="1357.2" stroke="#000" stroke-width="3.4"/>
<line x1="439.2" y1="1314.4" x2="429.7" y2="1318.1" stroke="#000" stroke-width="3.4"/>
<line x1="392.0" y1="1279.6" x2="374.6" y2="1286.3" stroke="#000" stroke-width="3.4"/>
<line x1="1878.0" y1="1350.8" x2="1900.0" y2="1362.8" stroke="#000" stroke-width="3.4"/>
<line x1="1804.6" y1="1387.3" x2="1815.8" y2="1393.6" stroke="#000" stroke-width="3.4"/>
<line x1="1729.2" y1="1424.8" x2="1751.2" y2="1437.4" stroke="#000" stroke-width="3.4"/>
<line x1="1651.9" y1="1463.2" x2="1663.0" y2="1469.8" stroke="#000" stroke-width="3.4"/>
<line x1="1572.5" y1="1502.7" x2="1594.4" y2="1516.0" stroke="#000" stroke-width="3.4"/>
<line x1="1491.0" y1="1543.3" x2="1502.0" y2="1550.2" stroke="#000" stroke-width="3.4"/>
<line x1="1407.2" y1="1584.9" x2="1428.9" y2="1599.0" stroke="#000" stroke-width="3.4"/>
<line x1="1321.1" y1="1627.8" x2="1332.0" y2="1635.1" stroke="#000" stroke-width="3.4"/>
<line x1="1232.5" y1="1671.8" x2="1254.0" y2="1686.6" stroke="#000" stroke-width="3.4"/>
<line x1="1141.4" y1="1717.1" x2="1152.3" y2="1724.9" stroke="#000" stroke-width="3.4"/>
<line x1="1047.6" y1="1763.7" x2="1068.9" y2="1779.4" stroke="#000" stroke-width="3.4"/>
<text class="t" transform="matrix(0.8359 -0.3249 0.0707 0.8913 274.0 1353.7)" x="-0.3 50.0" y="0">10</text>
<text class="t" transform="matrix(0.8452 -0.3163 0.0721 0.9092 265.5 1251.8)" x="-0.3 50.0" y="0">12</text>
<text class="t" transform="matrix(0.8547 -0.3074 0.0736 0.9276 256.8 1147.7)" x="-0.3 50.0" y="0">14</text>
<text class="t" transform="matrix(0.8644 -0.2980 0.0751 0.9466 247.9 1041.5)" x="-0.3 50.0" y="0">16</text>
<text class="t" transform="matrix(0.8743 -0.2881 0.0766 0.9662 238.9 933.2)" x="-0.3 50.0" y="0">18</text>
<text class="t" transform="matrix(0.8845 -0.2778 0.0782 0.9865 229.6 822.5)" x="-0.3 50.0" y="0">20</text>
<text class="t" transform="matrix(0.8949 -0.2670 0.0799 1.0073 220.2 709.5)" x="-0.3 50.0" y="0">22</text>
<text class="t" transform="matrix(0.9055 -0.2556 0.0816 1.0288 210.6 594.1)" x="-0.3 50.0" y="0">24</text>
<text class="t" transform="matrix(0.9164 -0.2437 0.0833 1.0511 200.7 476.2)" x="-0.3 50.0" y="0">26</text>
<text class="t" transform="matrix(0.9276 -0.2313 0.0852 1.0740 190.6 355.8)" x="-0.3 50.0" y="0">28</text>
<text class="t" transform="matrix(0.8636 -0.4334 0.6891 0.5204 990.2 1822.3)" x="-0.1" y="0">4</text>
<text class="t" transform="matrix(0.8550 -0.4089 0.6504 0.4912 865.0 1727.0)" x="-0.1" y="0">6</text>
<text class="t" transform="matrix(0.8460 -0.3865 0.6149 0.4644 746.8 1637.0)" x="-0.1" y="0">8</text>
<text class="t" transform="matrix(0.8418 -0.3681 0.5809 0.4423 592.9 1570.3)" x="-0.3 50.0" y="0">10</text>
<text class="t" transform="matrix(0.8321 -0.3489 0.5507 0.4194 487.4 1488.7)" x="-0.3 50.0" y="0">12</text>
<text class="t" transform="matrix(0.8223 -0.3312 0.5228 0.3981 387.4 1411.3)" x="-0.3 50.0" y="0">14</text>
<text class="t" transform="matrix(0.8124 -0.3148 0.4970 0.3785 292.5 1337.8)" x="-0.3 50.0" y="0">16</text>
<text class="t" transform="matrix(0.7241 0.3969 -0.6508 0.3301 1891.5 1381.8)" x="0.1" y="0">0</text>
<text class="t" transform="matrix(0.7222 0.4180 -0.6857 0.3478 1741.4 1457.4)" x="0.1" y="0">1</text>
<text class="t" transform="matrix(0.7190 0.4409 -0.7234 0.3670 1583.2 1537.1)" x="0.1" y="0">2</text>
<text class="t" transform="matrix(0.7143 0.4658 -0.7644 0.3877 1416.3 1621.3)" x="0.1" y="0">3</text>
<text class="t" transform="matrix(0.7079 0.4928 -0.8089 0.4103 1239.7 1710.2)" x="0.1" y="0">4</text>
<text class="t" transform="matrix(0.6995 0.5223 -0.8574 0.4349 1052.8 1804.4)" x="0.1" y="0">5</text>
<text class="t" transform="matrix(0.0998 1.0621 -0.9882 0.2532 63.3 234.1)" x="-4.9 53.2 87.5 132.9 183.3 211.0 254.9 282.1 325.1" y="0">Predicted</text>
<text class="t" transform="matrix(0.0905 0.9634 -0.9233 0.2839 103.1 658.5)" x="-3.2 42.8 93.9 138.7 172.0 216.0 264.9" y="0">average</text>
<text class="t" transform="matrix(0.0842 0.8959 -0.8774 0.3016 133.3 979.3)" x="-1.4 49.6 83.2 127.6 155.1" y="0">grain</text>
<text class="t" transform="matrix(0.0797 0.8483 -0.8441 0.3125 152.6 1184.8)" x="-1.0 38.6 66.6 111.0 155.0" y="0">size,</text>
<text class="t" transform="matrix(0.0762 0.8113 -0.8177 0.3199 168.9 1358.2)" x="-0.5 53.6" y="0">μm</text>
<text class="t" transform="matrix(0.5388 0.4207 -0.9004 0.3629 254.6 1412.2)" x="1.0 55.7 83.4 128.0" y="0">Size</text>
<text class="t" transform="matrix(0.5634 0.4399 -0.9099 0.3795 362.8 1496.6)" x="0.3 50.0" y="0">of</text>
<text class="t" transform="matrix(0.6313 0.4929 -0.9328 0.4255 416.2 1538.4)" x="14.3 44.8 85.9 111.9 159.2 191.1 239.6 272.3 316.5 361.2 441.1 487.6 540.8 570.7 613.0" y="0">reinforcements,</text>
<text class="t" transform="matrix(0.7180 0.5606 -0.9559 0.4841 839.0 1868.5)" x="0.7 53.6" y="0">μm</text>
<text class="t" transform="matrix(0.8874 -0.4664 0.7315 0.5359 1057.2 1943.5)" x="-4.5 65.0 116.2 166.7 194.4 238.4 287.2 314.0" y="0">Contents</text>
<text class="t" transform="matrix(0.8299 -0.4362 0.7397 0.5013 1390.2 1768.5)" x="-0.2 50.0" y="0">of</text>
<text class="t" transform="matrix(0.7513 -0.3948 0.7475 0.4540 1489.3 1716.4)" x="-13.0 22.9 70.4 99.8 152.3 186.8 238.1 271.9 316.5 360.5 436.6 479.4 526.9 553.1 589.5" y="0">reinforcements,</text>
<text class="t" transform="matrix(0.6730 -0.3537 0.7509 0.4068 1967.9 1464.9)" x="-1.3 72.1 100.0 124.9" y="0">wt.%</text>
<text class="t" transform="matrix(1.03 0 0 1 361.5 379.8)" style="font-size:104px">(b)</text>
<text class="t" transform="matrix(0.9445 0 0 1 1889.6 158.8)" style="font-size:98px">size, μm</text>
<rect x="1923" y="187" width="112" height="1102" fill="#000"/>
<rect x="1927" y="191" width="104" height="9.3" fill="#fff"/>
<rect x="1927" y="199.80" width="104" height="11.37" fill="#770000"/>
<rect x="1927" y="210.57" width="104" height="11.37" fill="#800000"/>
<rect x="1927" y="221.34" width="104" height="11.37" fill="#890000"/>
<rect x="1927" y="232.10" width="104" height="11.37" fill="#910000"/>
<rect x="1927" y="242.87" width="104" height="11.37" fill="#9a0000"/>
<rect x="1927" y="253.64" width="104" height="11.37" fill="#a30000"/>
<rect x="1927" y="264.41" width="104" height="11.37" fill="#ab0000"/>
<rect x="1927" y="275.18" width="104" height="11.37" fill="#b40000"/>
<rect x="1927" y="285.94" width="104" height="11.37" fill="#bc0000"/>
<rect x="1927" y="296.71" width="104" height="11.37" fill="#c50000"/>
<rect x="1927" y="307.48" width="104" height="11.37" fill="#ce0000"/>
<rect x="1927" y="318.25" width="104" height="11.37" fill="#d60000"/>
<rect x="1927" y="329.02" width="104" height="11.37" fill="#df0000"/>
<rect x="1927" y="339.78" width="104" height="11.37" fill="#e80000"/>
<rect x="1927" y="350.55" width="104" height="11.37" fill="#f00000"/>
<rect x="1927" y="361.32" width="104" height="11.37" fill="#f90000"/>
<rect x="1927" y="372.09" width="104" height="11.37" fill="#ff0000"/>
<rect x="1927" y="382.86" width="104" height="11.37" fill="#ff0000"/>
<rect x="1927" y="393.62" width="104" height="11.37" fill="#ff0000"/>
<rect x="1927" y="404.39" width="104" height="11.37" fill="#ff0000"/>
<rect x="1927" y="415.16" width="104" height="11.37" fill="#ff0000"/>
<rect x="1927" y="425.93" width="104" height="11.37" fill="#ff0000"/>
<rect x="1927" y="436.70" width="104" height="11.37" fill="#ff0000"/>
<rect x="1927" y="447.46" width="104" height="11.37" fill="#ff0000"/>
<rect x="1927" y="458.23" width="104" height="11.37" fill="#ff0000"/>
<rect x="1927" y="469.00" width="104" height="11.37" fill="#ff0000"/>
<rect x="1927" y="479.77" width="104" height="11.37" fill="#ff0000"/>
<rect x="1927" y="490.54" width="104" height="11.37" fill="#ff0000"/>
<rect x="1927" y="501.30" width="104" height="11.37" fill="#ff0000"/>
<rect x="1927" y="512.07" width="104" height="11.37" fill="#ff0000"/>
<rect x="1927" y="522.84" width="104" height="11.37" fill="#ff0000"/>
<rect x="1927" y="533.61" width="104" height="11.37" fill="#ff0000"/>
<rect x="1927" y="544.38" width="104" height="11.37" fill="#ff0000"/>
<rect x="1927" y="555.14" width="104" height="11.37" fill="#ff0000"/>
<rect x="1927" y="565.91" width="104" height="11.37" fill="#ff0000"/>
<rect x="1927" y="576.68" width="104" height="11.37" fill="#ff0a00"/>
<rect x="1927" y="587.45" width="104" height="11.37" fill="#ff1b00"/>
<rect x="1927" y="598.22" width="104" height="11.37" fill="#ff2c00"/>
<rect x="1927" y="608.98" width="104" height="11.37" fill="#ff3d00"/>
<rect x="1927" y="619.75" width="104" height="11.37" fill="#ff4e00"/>
<rect x="1927" y="630.52" width="104" height="11.37" fill="#ff5e00"/>
<rect x="1927" y="641.29" width="104" height="11.37" fill="#ff6f00"/>
<rect x="1927" y="652.06" width="104" height="11.37" fill="#ff8000"/>
<rect x="1927" y="662.82" width="104" height="11.37" fill="#ff9100"/>
<rect x="1927" y="673.59" width="104" height="11.37" fill="#ffa200"/>
<rect x="1927" y="684.36" width="104" height="11.37" fill="#ffb300"/>
<rect x="1927" y="695.13" width="104" height="11.37" fill="#ffc400"/>
<rect x="1927" y="705.90" width="104" height="11.37" fill="#ffd400"/>
<rect x="1927" y="716.66" width="104" height="11.37" fill="#ffe500"/>
<rect x="1927" y="727.43" width="104" height="11.37" fill="#fff600"/>
<rect x="1927" y="738.20" width="104" height="11.37" fill="#f2ff00"/>
<rect x="1927" y="748.97" width="104" height="11.37" fill="#d5ff00"/>
<rect x="1927" y="759.74" width="104" height="11.37" fill="#b9ff00"/>
<rect x="1927" y="770.50" width="104" height="11.37" fill="#9cff00"/>
<rect x="1927" y="781.27" width="104" height="11.37" fill="#80ff00"/>
<rect x="1927" y="792.04" width="104" height="11.37" fill="#64ff00"/>
<rect x="1927" y="802.81" width="104" height="11.37" fill="#47ff00"/>
<rect x="1927" y="813.58" width="104" height="11.37" fill="#2bff00"/>
<rect x="1927" y="824.34" width="104" height="11.37" fill="#0eff00"/>
<rect x="1927" y="835.11" width="104" height="11.37" fill="#00ff00"/>
<rect x="1927" y="845.88" width="104" height="11.37" fill="#00ff00"/>
<rect x="1927" y="856.65" width="104" height="11.37" fill="#00ff00"/>
<rect x="1927" y="867.42" width="104" height="11.37" fill="#00ff00"/>
<rect x="1927" y="878.18" width="104" height="11.37" fill="#00ff00"/>
<rect x="1927" y="888.95" width="104" height="11.37" fill="#00ff00"/>
<rect x="1927" y="899.72" width="104" height="11.37" fill="#00ff00"/>
<rect x="1927" y="910.49" width="104" height="11.37" fill="#00ff00"/>
<rect x="1927" y="921.26" width="104" height="11.37" fill="#00ff00"/>
<rect x="1927" y="932.02" width="104" height="11.37" fill="#00ff00"/>
<rect x="1927" y="942.79" width="104" height="11.37" fill="#00fc62"/>
<rect x="1927" y="953.56" width="104" height="11.37" fill="#00ff7f"/>
<rect x="1927" y="964.33" width="104" height="11.37" fill="#00ffc1"/>
<rect x="1927" y="975.10" width="104" height="11.37" fill="#00ffea"/>
<rect x="1927" y="985.86" width="104" height="11.37" fill="#00f0ff"/>
<rect x="1927" y="996.63" width="104" height="11.37" fill="#00e0ff"/>
<rect x="1927" y="1007.40" width="104" height="11.37" fill="#00cfff"/>
<rect x="1927" y="1018.17" width="104" height="11.37" fill="#00beff"/>
<rect x="1927" y="1028.94" width="104" height="11.37" fill="#00adff"/>
<rect x="1927" y="1039.70" width="104" height="11.37" fill="#009dff"/>
<rect x="1927" y="1050.47" width="104" height="11.37" fill="#008cff"/>
<rect x="1927" y="1061.24" width="104" height="11.37" fill="#0075ff"/>
<rect x="1927" y="1072.01" width="104" height="11.37" fill="#005dff"/>
<rect x="1927" y="1082.78" width="104" height="11.37" fill="#0046ff"/>
<rect x="1927" y="1093.54" width="104" height="11.37" fill="#002eff"/>
<rect x="1927" y="1104.31" width="104" height="11.37" fill="#0017ff"/>
<rect x="1927" y="1115.08" width="104" height="11.37" fill="#0000ff"/>
<rect x="1927" y="1125.85" width="104" height="11.37" fill="#1c00ff"/>
<rect x="1927" y="1136.62" width="104" height="11.37" fill="#3700ff"/>
<rect x="1927" y="1147.38" width="104" height="11.37" fill="#5200ff"/>
<rect x="1927" y="1158.15" width="104" height="11.37" fill="#6d00ff"/>
<rect x="1927" y="1168.92" width="104" height="11.37" fill="#8700ff"/>
<rect x="1927" y="1179.69" width="104" height="11.37" fill="#8c00f4"/>
<rect x="1927" y="1190.46" width="104" height="11.37" fill="#9100e5"/>
<rect x="1927" y="1201.22" width="104" height="11.37" fill="#9600d6"/>
<rect x="1927" y="1211.99" width="104" height="11.37" fill="#9600ca"/>
<rect x="1927" y="1222.76" width="104" height="11.37" fill="#9600be"/>
<rect x="1927" y="1233.53" width="104" height="11.37" fill="#9400b0"/>
<rect x="1927" y="1244.30" width="104" height="11.37" fill="#8e009d"/>
<rect x="1927" y="1255.06" width="104" height="11.37" fill="#87008a"/>
<rect x="1927" y="1265.83" width="104" height="11.37" fill="#7e0077"/>
<rect x="1923" y="1277.1" width="112" height="11.9" fill="#000"/>
<rect x="2035" y="197.6" width="26" height="4.4" fill="#000"/>
<text x="2075.5" y="215.0" class="cb">27.55</text>
<rect x="2035" y="305.3" width="26" height="4.4" fill="#000"/>
<text x="2075.5" y="322.7" class="cb">25.95</text>
<rect x="2035" y="413.0" width="26" height="4.4" fill="#000"/>
<text x="2075.5" y="430.4" class="cb">24.34</text>
<rect x="2035" y="520.6" width="26" height="4.4" fill="#000"/>
<text x="2075.5" y="538.0" class="cb">22.73</text>
<rect x="2035" y="628.3" width="26" height="4.4" fill="#000"/>
<text x="2075.5" y="645.7" class="cb">21.13</text>
<rect x="2035" y="736.0" width="26" height="4.4" fill="#000"/>
<text x="2075.5" y="753.4" class="cb">19.52</text>
<rect x="2035" y="843.7" width="26" height="4.4" fill="#000"/>
<text x="2075.5" y="861.1" class="cb">17.92</text>
<rect x="2035" y="951.4" width="26" height="4.4" fill="#000"/>
<text x="2075.5" y="968.8" class="cb">16.31</text>
<rect x="2035" y="1059.0" width="26" height="4.4" fill="#000"/>
<text x="2075.5" y="1076.4" class="cb">14.71</text>
<rect x="2035" y="1166.7" width="26" height="4.4" fill="#000"/>
<text x="2075.5" y="1184.1" class="cb">13.11</text>
<rect x="2035" y="1274.4" width="26" height="4.4" fill="#000"/>
<text x="2075.5" y="1291.8" class="cb">11.50</text>
</svg></body></html>
